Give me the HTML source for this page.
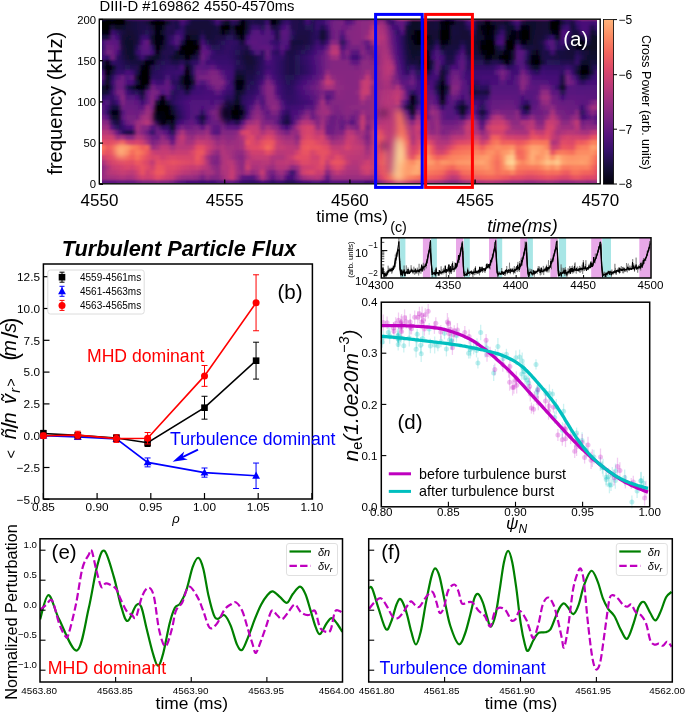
<!DOCTYPE html><html><head><meta charset="utf-8"><style>html,body{margin:0;padding:0;background:#fff;}svg{display:block;font-family:"Liberation Sans",sans-serif;will-change:transform;}</style></head><body><svg width="685" height="712" viewBox="0 0 685 712" font-family="Liberation Sans, sans-serif">
<rect width="685" height="712" fill="#fff"/>
<defs><clipPath id="clipA"><rect x="102" y="20" width="495" height="163"/></clipPath><filter id="blurA" x="-5%" y="-5%" width="110%" height="110%"><feGaussianBlur stdDeviation="1.1"/></filter><filter id="blurB" x="-50%" y="-50%" width="200%" height="200%"><feGaussianBlur stdDeviation="3.5"/></filter>
<linearGradient id="ra0" gradientUnits="userSpaceOnUse" x1="97.5" y1="0" x2="602.5" y2="0">
<stop offset="0.000" stop-color="#5a167e"/>
<stop offset="0.010" stop-color="#271258"/>
<stop offset="0.020" stop-color="#08071e"/>
<stop offset="0.030" stop-color="#130d34"/>
<stop offset="0.040" stop-color="#000004"/>
<stop offset="0.050" stop-color="#010108"/>
<stop offset="0.059" stop-color="#491078"/>
<stop offset="0.069" stop-color="#52137c"/>
<stop offset="0.079" stop-color="#57157e"/>
<stop offset="0.089" stop-color="#5c167f"/>
<stop offset="0.099" stop-color="#5f187f"/>
<stop offset="0.109" stop-color="#4e117b"/>
<stop offset="0.119" stop-color="#221150"/>
<stop offset="0.129" stop-color="#420f75"/>
<stop offset="0.139" stop-color="#601880"/>
<stop offset="0.149" stop-color="#5c167f"/>
<stop offset="0.158" stop-color="#621980"/>
<stop offset="0.168" stop-color="#7e2482"/>
<stop offset="0.178" stop-color="#621980"/>
<stop offset="0.188" stop-color="#2d1161"/>
<stop offset="0.198" stop-color="#2c115f"/>
<stop offset="0.208" stop-color="#2a115c"/>
<stop offset="0.218" stop-color="#271258"/>
<stop offset="0.228" stop-color="#4c117a"/>
<stop offset="0.238" stop-color="#6a1c81"/>
<stop offset="0.248" stop-color="#6e1e81"/>
<stop offset="0.257" stop-color="#5c167f"/>
<stop offset="0.267" stop-color="#681c81"/>
<stop offset="0.277" stop-color="#6a1c81"/>
<stop offset="0.287" stop-color="#1a1042"/>
<stop offset="0.297" stop-color="#29115a"/>
<stop offset="0.307" stop-color="#251255"/>
<stop offset="0.317" stop-color="#221150"/>
<stop offset="0.327" stop-color="#20114b"/>
<stop offset="0.337" stop-color="#1a1042"/>
<stop offset="0.347" stop-color="#000004"/>
<stop offset="0.356" stop-color="#010106"/>
<stop offset="0.366" stop-color="#1c1044"/>
<stop offset="0.376" stop-color="#1d1147"/>
<stop offset="0.386" stop-color="#1c1044"/>
<stop offset="0.396" stop-color="#1c1044"/>
<stop offset="0.406" stop-color="#1c1044"/>
<stop offset="0.416" stop-color="#59157e"/>
<stop offset="0.426" stop-color="#29115a"/>
<stop offset="0.436" stop-color="#251255"/>
<stop offset="0.446" stop-color="#2a115c"/>
<stop offset="0.455" stop-color="#341069"/>
<stop offset="0.465" stop-color="#36106b"/>
<stop offset="0.475" stop-color="#341069"/>
<stop offset="0.485" stop-color="#140e36"/>
<stop offset="0.495" stop-color="#000004"/>
<stop offset="0.505" stop-color="#010108"/>
<stop offset="0.515" stop-color="#1c1044"/>
<stop offset="0.525" stop-color="#2f1163"/>
<stop offset="0.535" stop-color="#2f1163"/>
<stop offset="0.545" stop-color="#3b0f70"/>
<stop offset="0.554" stop-color="#271258"/>
<stop offset="0.564" stop-color="#140e36"/>
<stop offset="0.574" stop-color="#29115a"/>
<stop offset="0.584" stop-color="#6d1d81"/>
<stop offset="0.594" stop-color="#b3367a"/>
<stop offset="0.604" stop-color="#d6456c"/>
<stop offset="0.614" stop-color="#c83e73"/>
<stop offset="0.624" stop-color="#942c80"/>
<stop offset="0.634" stop-color="#932b80"/>
<stop offset="0.644" stop-color="#912b81"/>
<stop offset="0.653" stop-color="#8e2a81"/>
<stop offset="0.663" stop-color="#8b2981"/>
<stop offset="0.673" stop-color="#7c2382"/>
<stop offset="0.683" stop-color="#4f127b"/>
<stop offset="0.693" stop-color="#20114b"/>
<stop offset="0.703" stop-color="#400f74"/>
<stop offset="0.713" stop-color="#6d1d81"/>
<stop offset="0.723" stop-color="#802582"/>
<stop offset="0.733" stop-color="#a3307e"/>
<stop offset="0.743" stop-color="#c53c74"/>
<stop offset="0.752" stop-color="#8b2981"/>
<stop offset="0.762" stop-color="#902a81"/>
<stop offset="0.772" stop-color="#721f81"/>
<stop offset="0.782" stop-color="#932b80"/>
<stop offset="0.792" stop-color="#8e2a81"/>
<stop offset="0.802" stop-color="#892881"/>
<stop offset="0.812" stop-color="#842681"/>
<stop offset="0.822" stop-color="#a5317e"/>
<stop offset="0.832" stop-color="#b73779"/>
<stop offset="0.842" stop-color="#9c2e7f"/>
<stop offset="0.851" stop-color="#782281"/>
<stop offset="0.861" stop-color="#701f81"/>
<stop offset="0.871" stop-color="#752181"/>
<stop offset="0.881" stop-color="#792282"/>
<stop offset="0.891" stop-color="#732081"/>
<stop offset="0.901" stop-color="#400f74"/>
<stop offset="0.911" stop-color="#130d34"/>
<stop offset="0.921" stop-color="#4f127b"/>
<stop offset="0.931" stop-color="#5a167e"/>
<stop offset="0.941" stop-color="#671b80"/>
<stop offset="0.950" stop-color="#812581"/>
<stop offset="0.960" stop-color="#ab337c"/>
<stop offset="0.970" stop-color="#a1307e"/>
<stop offset="0.980" stop-color="#a3307e"/>
<stop offset="0.990" stop-color="#b2357b"/>
<stop offset="1.000" stop-color="#9b2e7f"/>
</linearGradient>
<linearGradient id="ra1" gradientUnits="userSpaceOnUse" x1="97.5" y1="0" x2="602.5" y2="0">
<stop offset="0.000" stop-color="#19103f"/>
<stop offset="0.010" stop-color="#000004"/>
<stop offset="0.020" stop-color="#000004"/>
<stop offset="0.030" stop-color="#000004"/>
<stop offset="0.040" stop-color="#000004"/>
<stop offset="0.050" stop-color="#000004"/>
<stop offset="0.059" stop-color="#120d31"/>
<stop offset="0.069" stop-color="#160f3b"/>
<stop offset="0.079" stop-color="#1a1042"/>
<stop offset="0.089" stop-color="#1d1147"/>
<stop offset="0.099" stop-color="#180f3d"/>
<stop offset="0.109" stop-color="#020109"/>
<stop offset="0.119" stop-color="#000004"/>
<stop offset="0.129" stop-color="#000004"/>
<stop offset="0.139" stop-color="#120d31"/>
<stop offset="0.149" stop-color="#21114e"/>
<stop offset="0.158" stop-color="#1d1147"/>
<stop offset="0.168" stop-color="#491078"/>
<stop offset="0.178" stop-color="#2a115c"/>
<stop offset="0.188" stop-color="#150e38"/>
<stop offset="0.198" stop-color="#150e38"/>
<stop offset="0.208" stop-color="#150e38"/>
<stop offset="0.218" stop-color="#150e38"/>
<stop offset="0.228" stop-color="#1d1147"/>
<stop offset="0.238" stop-color="#451077"/>
<stop offset="0.248" stop-color="#19103f"/>
<stop offset="0.257" stop-color="#08071e"/>
<stop offset="0.267" stop-color="#29115a"/>
<stop offset="0.277" stop-color="#1e1149"/>
<stop offset="0.287" stop-color="#000004"/>
<stop offset="0.297" stop-color="#150e38"/>
<stop offset="0.307" stop-color="#21114e"/>
<stop offset="0.317" stop-color="#1d1147"/>
<stop offset="0.327" stop-color="#1d1147"/>
<stop offset="0.337" stop-color="#420f75"/>
<stop offset="0.347" stop-color="#000004"/>
<stop offset="0.356" stop-color="#0a0822"/>
<stop offset="0.366" stop-color="#29115a"/>
<stop offset="0.376" stop-color="#3b0f70"/>
<stop offset="0.386" stop-color="#21114e"/>
<stop offset="0.396" stop-color="#20114b"/>
<stop offset="0.406" stop-color="#1e1149"/>
<stop offset="0.416" stop-color="#420f75"/>
<stop offset="0.426" stop-color="#241253"/>
<stop offset="0.436" stop-color="#390f6e"/>
<stop offset="0.446" stop-color="#38106c"/>
<stop offset="0.455" stop-color="#54137d"/>
<stop offset="0.465" stop-color="#701f81"/>
<stop offset="0.475" stop-color="#762181"/>
<stop offset="0.485" stop-color="#792282"/>
<stop offset="0.495" stop-color="#54137d"/>
<stop offset="0.505" stop-color="#641a80"/>
<stop offset="0.515" stop-color="#882781"/>
<stop offset="0.525" stop-color="#8b2981"/>
<stop offset="0.535" stop-color="#8c2981"/>
<stop offset="0.545" stop-color="#9b2e7f"/>
<stop offset="0.554" stop-color="#792282"/>
<stop offset="0.564" stop-color="#6a1c81"/>
<stop offset="0.574" stop-color="#390f6e"/>
<stop offset="0.584" stop-color="#341069"/>
<stop offset="0.594" stop-color="#5c167f"/>
<stop offset="0.604" stop-color="#651a80"/>
<stop offset="0.614" stop-color="#311165"/>
<stop offset="0.624" stop-color="#0b0924"/>
<stop offset="0.634" stop-color="#0d0a29"/>
<stop offset="0.644" stop-color="#110c2f"/>
<stop offset="0.653" stop-color="#140e36"/>
<stop offset="0.663" stop-color="#150e38"/>
<stop offset="0.673" stop-color="#180f3d"/>
<stop offset="0.683" stop-color="#020109"/>
<stop offset="0.693" stop-color="#000004"/>
<stop offset="0.703" stop-color="#03030f"/>
<stop offset="0.713" stop-color="#160f3b"/>
<stop offset="0.723" stop-color="#140e36"/>
<stop offset="0.733" stop-color="#390f6e"/>
<stop offset="0.743" stop-color="#491078"/>
<stop offset="0.752" stop-color="#150e38"/>
<stop offset="0.762" stop-color="#130d34"/>
<stop offset="0.772" stop-color="#000004"/>
<stop offset="0.782" stop-color="#0e0b2b"/>
<stop offset="0.792" stop-color="#130d34"/>
<stop offset="0.802" stop-color="#120d31"/>
<stop offset="0.812" stop-color="#100b2d"/>
<stop offset="0.822" stop-color="#29115a"/>
<stop offset="0.832" stop-color="#491078"/>
<stop offset="0.842" stop-color="#150e38"/>
<stop offset="0.851" stop-color="#100b2d"/>
<stop offset="0.861" stop-color="#100b2d"/>
<stop offset="0.871" stop-color="#120d31"/>
<stop offset="0.881" stop-color="#130d34"/>
<stop offset="0.891" stop-color="#140e36"/>
<stop offset="0.901" stop-color="#000004"/>
<stop offset="0.911" stop-color="#000004"/>
<stop offset="0.921" stop-color="#180f3d"/>
<stop offset="0.931" stop-color="#2a115c"/>
<stop offset="0.941" stop-color="#180f3d"/>
<stop offset="0.950" stop-color="#3f0f72"/>
<stop offset="0.960" stop-color="#491078"/>
<stop offset="0.970" stop-color="#491078"/>
<stop offset="0.980" stop-color="#3d0f71"/>
<stop offset="0.990" stop-color="#491078"/>
<stop offset="1.000" stop-color="#2a115c"/>
</linearGradient>
<linearGradient id="ra2" gradientUnits="userSpaceOnUse" x1="97.5" y1="0" x2="602.5" y2="0">
<stop offset="0.000" stop-color="#0b0924"/>
<stop offset="0.010" stop-color="#000004"/>
<stop offset="0.020" stop-color="#000004"/>
<stop offset="0.030" stop-color="#180f3d"/>
<stop offset="0.040" stop-color="#08071e"/>
<stop offset="0.050" stop-color="#0e0b2b"/>
<stop offset="0.059" stop-color="#140e36"/>
<stop offset="0.069" stop-color="#160f3b"/>
<stop offset="0.079" stop-color="#1a1042"/>
<stop offset="0.089" stop-color="#1d1147"/>
<stop offset="0.099" stop-color="#21114e"/>
<stop offset="0.109" stop-color="#120d31"/>
<stop offset="0.119" stop-color="#000004"/>
<stop offset="0.129" stop-color="#08071e"/>
<stop offset="0.139" stop-color="#221150"/>
<stop offset="0.149" stop-color="#21114e"/>
<stop offset="0.158" stop-color="#1e1149"/>
<stop offset="0.168" stop-color="#331067"/>
<stop offset="0.178" stop-color="#160f3b"/>
<stop offset="0.188" stop-color="#150e38"/>
<stop offset="0.198" stop-color="#150e38"/>
<stop offset="0.208" stop-color="#150e38"/>
<stop offset="0.218" stop-color="#150e38"/>
<stop offset="0.228" stop-color="#150e38"/>
<stop offset="0.238" stop-color="#1d1147"/>
<stop offset="0.248" stop-color="#010005"/>
<stop offset="0.257" stop-color="#000004"/>
<stop offset="0.267" stop-color="#150e38"/>
<stop offset="0.277" stop-color="#010106"/>
<stop offset="0.287" stop-color="#000004"/>
<stop offset="0.297" stop-color="#130d34"/>
<stop offset="0.307" stop-color="#36106b"/>
<stop offset="0.317" stop-color="#38106c"/>
<stop offset="0.327" stop-color="#241253"/>
<stop offset="0.337" stop-color="#57157e"/>
<stop offset="0.347" stop-color="#180f3d"/>
<stop offset="0.356" stop-color="#1c1044"/>
<stop offset="0.366" stop-color="#400f74"/>
<stop offset="0.376" stop-color="#52137c"/>
<stop offset="0.386" stop-color="#21114e"/>
<stop offset="0.396" stop-color="#20114b"/>
<stop offset="0.406" stop-color="#1e1149"/>
<stop offset="0.416" stop-color="#271258"/>
<stop offset="0.426" stop-color="#241253"/>
<stop offset="0.436" stop-color="#390f6e"/>
<stop offset="0.446" stop-color="#221150"/>
<stop offset="0.455" stop-color="#3f0f72"/>
<stop offset="0.465" stop-color="#701f81"/>
<stop offset="0.475" stop-color="#762181"/>
<stop offset="0.485" stop-color="#721f81"/>
<stop offset="0.495" stop-color="#701f81"/>
<stop offset="0.505" stop-color="#802582"/>
<stop offset="0.515" stop-color="#882781"/>
<stop offset="0.525" stop-color="#8b2981"/>
<stop offset="0.535" stop-color="#8c2981"/>
<stop offset="0.545" stop-color="#b3367a"/>
<stop offset="0.554" stop-color="#b3367a"/>
<stop offset="0.564" stop-color="#752181"/>
<stop offset="0.574" stop-color="#641a80"/>
<stop offset="0.584" stop-color="#4a1079"/>
<stop offset="0.594" stop-color="#420f75"/>
<stop offset="0.604" stop-color="#651a80"/>
<stop offset="0.614" stop-color="#150e38"/>
<stop offset="0.624" stop-color="#0b0924"/>
<stop offset="0.634" stop-color="#0d0a29"/>
<stop offset="0.644" stop-color="#0d0a29"/>
<stop offset="0.653" stop-color="#130d34"/>
<stop offset="0.663" stop-color="#150e38"/>
<stop offset="0.673" stop-color="#180f3d"/>
<stop offset="0.683" stop-color="#02020d"/>
<stop offset="0.693" stop-color="#000004"/>
<stop offset="0.703" stop-color="#160f3b"/>
<stop offset="0.713" stop-color="#160f3b"/>
<stop offset="0.723" stop-color="#140e36"/>
<stop offset="0.733" stop-color="#241253"/>
<stop offset="0.743" stop-color="#420f75"/>
<stop offset="0.752" stop-color="#120d31"/>
<stop offset="0.762" stop-color="#030312"/>
<stop offset="0.772" stop-color="#000004"/>
<stop offset="0.782" stop-color="#010108"/>
<stop offset="0.792" stop-color="#130d34"/>
<stop offset="0.802" stop-color="#21114e"/>
<stop offset="0.812" stop-color="#100b2d"/>
<stop offset="0.822" stop-color="#110c2f"/>
<stop offset="0.832" stop-color="#331067"/>
<stop offset="0.842" stop-color="#000004"/>
<stop offset="0.851" stop-color="#030312"/>
<stop offset="0.861" stop-color="#100b2d"/>
<stop offset="0.871" stop-color="#120d31"/>
<stop offset="0.881" stop-color="#130d34"/>
<stop offset="0.891" stop-color="#140e36"/>
<stop offset="0.901" stop-color="#000004"/>
<stop offset="0.911" stop-color="#000004"/>
<stop offset="0.921" stop-color="#2f1163"/>
<stop offset="0.931" stop-color="#400f74"/>
<stop offset="0.941" stop-color="#130d34"/>
<stop offset="0.950" stop-color="#2f1163"/>
<stop offset="0.960" stop-color="#491078"/>
<stop offset="0.970" stop-color="#491078"/>
<stop offset="0.980" stop-color="#20114b"/>
<stop offset="0.990" stop-color="#3f0f72"/>
<stop offset="1.000" stop-color="#130d34"/>
</linearGradient>
<linearGradient id="ra3" gradientUnits="userSpaceOnUse" x1="97.5" y1="0" x2="602.5" y2="0">
<stop offset="0.000" stop-color="#150e38"/>
<stop offset="0.010" stop-color="#030312"/>
<stop offset="0.020" stop-color="#000004"/>
<stop offset="0.030" stop-color="#3f0f72"/>
<stop offset="0.040" stop-color="#271258"/>
<stop offset="0.050" stop-color="#19103f"/>
<stop offset="0.059" stop-color="#120d31"/>
<stop offset="0.069" stop-color="#140e36"/>
<stop offset="0.079" stop-color="#19103f"/>
<stop offset="0.089" stop-color="#20114b"/>
<stop offset="0.099" stop-color="#241253"/>
<stop offset="0.109" stop-color="#1c1044"/>
<stop offset="0.119" stop-color="#000004"/>
<stop offset="0.129" stop-color="#110c2f"/>
<stop offset="0.139" stop-color="#221150"/>
<stop offset="0.149" stop-color="#20114b"/>
<stop offset="0.158" stop-color="#3b0f70"/>
<stop offset="0.168" stop-color="#341069"/>
<stop offset="0.178" stop-color="#140e36"/>
<stop offset="0.188" stop-color="#120d31"/>
<stop offset="0.198" stop-color="#130d34"/>
<stop offset="0.208" stop-color="#1c1044"/>
<stop offset="0.218" stop-color="#140e36"/>
<stop offset="0.228" stop-color="#160f3b"/>
<stop offset="0.238" stop-color="#19103f"/>
<stop offset="0.248" stop-color="#040414"/>
<stop offset="0.257" stop-color="#0c0926"/>
<stop offset="0.267" stop-color="#1e1149"/>
<stop offset="0.277" stop-color="#020109"/>
<stop offset="0.287" stop-color="#000004"/>
<stop offset="0.297" stop-color="#1d1147"/>
<stop offset="0.307" stop-color="#4f127b"/>
<stop offset="0.317" stop-color="#59157e"/>
<stop offset="0.327" stop-color="#3f0f72"/>
<stop offset="0.337" stop-color="#5a167e"/>
<stop offset="0.347" stop-color="#400f74"/>
<stop offset="0.356" stop-color="#1e1149"/>
<stop offset="0.366" stop-color="#5a167e"/>
<stop offset="0.376" stop-color="#5a167e"/>
<stop offset="0.386" stop-color="#2c115f"/>
<stop offset="0.396" stop-color="#1d1147"/>
<stop offset="0.406" stop-color="#1c1044"/>
<stop offset="0.416" stop-color="#1c1044"/>
<stop offset="0.426" stop-color="#241253"/>
<stop offset="0.436" stop-color="#2d1161"/>
<stop offset="0.446" stop-color="#120d31"/>
<stop offset="0.455" stop-color="#2a115c"/>
<stop offset="0.465" stop-color="#6d1d81"/>
<stop offset="0.475" stop-color="#762181"/>
<stop offset="0.485" stop-color="#5a167e"/>
<stop offset="0.495" stop-color="#832681"/>
<stop offset="0.505" stop-color="#862781"/>
<stop offset="0.515" stop-color="#882781"/>
<stop offset="0.525" stop-color="#8b2981"/>
<stop offset="0.535" stop-color="#942c80"/>
<stop offset="0.545" stop-color="#c73d73"/>
<stop offset="0.554" stop-color="#bd3977"/>
<stop offset="0.564" stop-color="#902a81"/>
<stop offset="0.574" stop-color="#6d1d81"/>
<stop offset="0.584" stop-color="#5c167f"/>
<stop offset="0.594" stop-color="#311165"/>
<stop offset="0.604" stop-color="#51127c"/>
<stop offset="0.614" stop-color="#120d31"/>
<stop offset="0.624" stop-color="#0b0924"/>
<stop offset="0.634" stop-color="#000004"/>
<stop offset="0.644" stop-color="#000004"/>
<stop offset="0.653" stop-color="#120d31"/>
<stop offset="0.663" stop-color="#140e36"/>
<stop offset="0.673" stop-color="#140e36"/>
<stop offset="0.683" stop-color="#000004"/>
<stop offset="0.693" stop-color="#000004"/>
<stop offset="0.703" stop-color="#180f3d"/>
<stop offset="0.713" stop-color="#160f3b"/>
<stop offset="0.723" stop-color="#140e36"/>
<stop offset="0.733" stop-color="#140e36"/>
<stop offset="0.743" stop-color="#2d1161"/>
<stop offset="0.752" stop-color="#110c2f"/>
<stop offset="0.762" stop-color="#07061c"/>
<stop offset="0.772" stop-color="#000004"/>
<stop offset="0.782" stop-color="#02020d"/>
<stop offset="0.792" stop-color="#1e1149"/>
<stop offset="0.802" stop-color="#38106c"/>
<stop offset="0.812" stop-color="#110c2f"/>
<stop offset="0.822" stop-color="#040414"/>
<stop offset="0.832" stop-color="#08071e"/>
<stop offset="0.842" stop-color="#000004"/>
<stop offset="0.851" stop-color="#000004"/>
<stop offset="0.861" stop-color="#110c2f"/>
<stop offset="0.871" stop-color="#120d31"/>
<stop offset="0.881" stop-color="#140e36"/>
<stop offset="0.891" stop-color="#160f3b"/>
<stop offset="0.901" stop-color="#060518"/>
<stop offset="0.911" stop-color="#000004"/>
<stop offset="0.921" stop-color="#4f127b"/>
<stop offset="0.931" stop-color="#4a1079"/>
<stop offset="0.941" stop-color="#1a1042"/>
<stop offset="0.950" stop-color="#160f3b"/>
<stop offset="0.960" stop-color="#471078"/>
<stop offset="0.970" stop-color="#451077"/>
<stop offset="0.980" stop-color="#110c2f"/>
<stop offset="0.990" stop-color="#221150"/>
<stop offset="1.000" stop-color="#0d0a29"/>
</linearGradient>
<linearGradient id="ra4" gradientUnits="userSpaceOnUse" x1="97.5" y1="0" x2="602.5" y2="0">
<stop offset="0.000" stop-color="#1c1044"/>
<stop offset="0.010" stop-color="#160f3b"/>
<stop offset="0.020" stop-color="#180f3d"/>
<stop offset="0.030" stop-color="#57157e"/>
<stop offset="0.040" stop-color="#400f74"/>
<stop offset="0.050" stop-color="#140e36"/>
<stop offset="0.059" stop-color="#110c2f"/>
<stop offset="0.069" stop-color="#120d31"/>
<stop offset="0.079" stop-color="#180f3d"/>
<stop offset="0.089" stop-color="#36106b"/>
<stop offset="0.099" stop-color="#390f6e"/>
<stop offset="0.109" stop-color="#0e0b2b"/>
<stop offset="0.119" stop-color="#000004"/>
<stop offset="0.129" stop-color="#040414"/>
<stop offset="0.139" stop-color="#241253"/>
<stop offset="0.149" stop-color="#341069"/>
<stop offset="0.158" stop-color="#57157e"/>
<stop offset="0.168" stop-color="#390f6e"/>
<stop offset="0.178" stop-color="#050416"/>
<stop offset="0.188" stop-color="#0d0a29"/>
<stop offset="0.198" stop-color="#110c2f"/>
<stop offset="0.208" stop-color="#311165"/>
<stop offset="0.218" stop-color="#140e36"/>
<stop offset="0.228" stop-color="#180f3d"/>
<stop offset="0.238" stop-color="#1c1044"/>
<stop offset="0.248" stop-color="#1a1042"/>
<stop offset="0.257" stop-color="#251255"/>
<stop offset="0.267" stop-color="#271258"/>
<stop offset="0.277" stop-color="#130d34"/>
<stop offset="0.287" stop-color="#02020d"/>
<stop offset="0.297" stop-color="#400f74"/>
<stop offset="0.307" stop-color="#5a167e"/>
<stop offset="0.317" stop-color="#59157e"/>
<stop offset="0.327" stop-color="#57157e"/>
<stop offset="0.337" stop-color="#56147d"/>
<stop offset="0.347" stop-color="#4f127b"/>
<stop offset="0.356" stop-color="#20114b"/>
<stop offset="0.366" stop-color="#56147d"/>
<stop offset="0.376" stop-color="#56147d"/>
<stop offset="0.386" stop-color="#271258"/>
<stop offset="0.396" stop-color="#1a1042"/>
<stop offset="0.406" stop-color="#1a1042"/>
<stop offset="0.416" stop-color="#1c1044"/>
<stop offset="0.426" stop-color="#251255"/>
<stop offset="0.436" stop-color="#2a115c"/>
<stop offset="0.446" stop-color="#100b2d"/>
<stop offset="0.455" stop-color="#29115a"/>
<stop offset="0.465" stop-color="#6b1d81"/>
<stop offset="0.475" stop-color="#782281"/>
<stop offset="0.485" stop-color="#420f75"/>
<stop offset="0.495" stop-color="#7c2382"/>
<stop offset="0.505" stop-color="#862781"/>
<stop offset="0.515" stop-color="#882781"/>
<stop offset="0.525" stop-color="#8b2981"/>
<stop offset="0.535" stop-color="#a1307e"/>
<stop offset="0.545" stop-color="#c73d73"/>
<stop offset="0.554" stop-color="#bd3977"/>
<stop offset="0.564" stop-color="#ae347b"/>
<stop offset="0.574" stop-color="#752181"/>
<stop offset="0.584" stop-color="#5d177f"/>
<stop offset="0.594" stop-color="#420f75"/>
<stop offset="0.604" stop-color="#2a115c"/>
<stop offset="0.614" stop-color="#130d34"/>
<stop offset="0.624" stop-color="#050416"/>
<stop offset="0.634" stop-color="#000004"/>
<stop offset="0.644" stop-color="#000004"/>
<stop offset="0.653" stop-color="#050416"/>
<stop offset="0.663" stop-color="#120d31"/>
<stop offset="0.673" stop-color="#150e38"/>
<stop offset="0.683" stop-color="#000004"/>
<stop offset="0.693" stop-color="#000004"/>
<stop offset="0.703" stop-color="#160f3b"/>
<stop offset="0.713" stop-color="#150e38"/>
<stop offset="0.723" stop-color="#140e36"/>
<stop offset="0.733" stop-color="#140e36"/>
<stop offset="0.743" stop-color="#1c1044"/>
<stop offset="0.752" stop-color="#110c2f"/>
<stop offset="0.762" stop-color="#100b2d"/>
<stop offset="0.772" stop-color="#000004"/>
<stop offset="0.782" stop-color="#040414"/>
<stop offset="0.792" stop-color="#331067"/>
<stop offset="0.802" stop-color="#4a1079"/>
<stop offset="0.812" stop-color="#0b0924"/>
<stop offset="0.822" stop-color="#000004"/>
<stop offset="0.832" stop-color="#090720"/>
<stop offset="0.842" stop-color="#000004"/>
<stop offset="0.851" stop-color="#000004"/>
<stop offset="0.861" stop-color="#110c2f"/>
<stop offset="0.871" stop-color="#130d34"/>
<stop offset="0.881" stop-color="#150e38"/>
<stop offset="0.891" stop-color="#241253"/>
<stop offset="0.901" stop-color="#36106b"/>
<stop offset="0.911" stop-color="#06051a"/>
<stop offset="0.921" stop-color="#51127c"/>
<stop offset="0.931" stop-color="#390f6e"/>
<stop offset="0.941" stop-color="#120d31"/>
<stop offset="0.950" stop-color="#07061c"/>
<stop offset="0.960" stop-color="#160f3b"/>
<stop offset="0.970" stop-color="#331067"/>
<stop offset="0.980" stop-color="#0b0924"/>
<stop offset="0.990" stop-color="#0c0926"/>
<stop offset="1.000" stop-color="#090720"/>
</linearGradient>
<linearGradient id="ra5" gradientUnits="userSpaceOnUse" x1="97.5" y1="0" x2="602.5" y2="0">
<stop offset="0.000" stop-color="#241253"/>
<stop offset="0.010" stop-color="#3f0f72"/>
<stop offset="0.020" stop-color="#621980"/>
<stop offset="0.030" stop-color="#5d177f"/>
<stop offset="0.040" stop-color="#57157e"/>
<stop offset="0.050" stop-color="#140e36"/>
<stop offset="0.059" stop-color="#0e0b2b"/>
<stop offset="0.069" stop-color="#100b2d"/>
<stop offset="0.079" stop-color="#19103f"/>
<stop offset="0.089" stop-color="#4c117a"/>
<stop offset="0.099" stop-color="#671b80"/>
<stop offset="0.109" stop-color="#130d34"/>
<stop offset="0.119" stop-color="#000004"/>
<stop offset="0.129" stop-color="#07061c"/>
<stop offset="0.139" stop-color="#241253"/>
<stop offset="0.149" stop-color="#3f0f72"/>
<stop offset="0.158" stop-color="#57157e"/>
<stop offset="0.168" stop-color="#1e1149"/>
<stop offset="0.178" stop-color="#000004"/>
<stop offset="0.188" stop-color="#000004"/>
<stop offset="0.198" stop-color="#090720"/>
<stop offset="0.208" stop-color="#491078"/>
<stop offset="0.218" stop-color="#241253"/>
<stop offset="0.228" stop-color="#19103f"/>
<stop offset="0.238" stop-color="#20114b"/>
<stop offset="0.248" stop-color="#271258"/>
<stop offset="0.257" stop-color="#2f1163"/>
<stop offset="0.267" stop-color="#311165"/>
<stop offset="0.277" stop-color="#2c115f"/>
<stop offset="0.287" stop-color="#130d34"/>
<stop offset="0.297" stop-color="#4f127b"/>
<stop offset="0.307" stop-color="#5d177f"/>
<stop offset="0.317" stop-color="#5a167e"/>
<stop offset="0.327" stop-color="#57157e"/>
<stop offset="0.337" stop-color="#54137d"/>
<stop offset="0.347" stop-color="#390f6e"/>
<stop offset="0.356" stop-color="#311165"/>
<stop offset="0.366" stop-color="#51127c"/>
<stop offset="0.376" stop-color="#51127c"/>
<stop offset="0.386" stop-color="#160f3b"/>
<stop offset="0.396" stop-color="#180f3d"/>
<stop offset="0.406" stop-color="#19103f"/>
<stop offset="0.416" stop-color="#1c1044"/>
<stop offset="0.426" stop-color="#251255"/>
<stop offset="0.436" stop-color="#3d0f71"/>
<stop offset="0.446" stop-color="#21114e"/>
<stop offset="0.455" stop-color="#400f74"/>
<stop offset="0.465" stop-color="#8b2981"/>
<stop offset="0.475" stop-color="#832681"/>
<stop offset="0.485" stop-color="#2a115c"/>
<stop offset="0.495" stop-color="#651a80"/>
<stop offset="0.505" stop-color="#862781"/>
<stop offset="0.515" stop-color="#882781"/>
<stop offset="0.525" stop-color="#7b2382"/>
<stop offset="0.535" stop-color="#601880"/>
<stop offset="0.545" stop-color="#9b2e7f"/>
<stop offset="0.554" stop-color="#bc3978"/>
<stop offset="0.564" stop-color="#902a81"/>
<stop offset="0.574" stop-color="#721f81"/>
<stop offset="0.584" stop-color="#601880"/>
<stop offset="0.594" stop-color="#451077"/>
<stop offset="0.604" stop-color="#2a115c"/>
<stop offset="0.614" stop-color="#130d34"/>
<stop offset="0.624" stop-color="#0a0822"/>
<stop offset="0.634" stop-color="#000004"/>
<stop offset="0.644" stop-color="#000004"/>
<stop offset="0.653" stop-color="#0e0b2b"/>
<stop offset="0.663" stop-color="#100b2d"/>
<stop offset="0.673" stop-color="#251255"/>
<stop offset="0.683" stop-color="#010106"/>
<stop offset="0.693" stop-color="#060518"/>
<stop offset="0.703" stop-color="#150e38"/>
<stop offset="0.713" stop-color="#150e38"/>
<stop offset="0.723" stop-color="#1e1149"/>
<stop offset="0.733" stop-color="#150e38"/>
<stop offset="0.743" stop-color="#140e36"/>
<stop offset="0.752" stop-color="#110c2f"/>
<stop offset="0.762" stop-color="#03030f"/>
<stop offset="0.772" stop-color="#000004"/>
<stop offset="0.782" stop-color="#000004"/>
<stop offset="0.792" stop-color="#400f74"/>
<stop offset="0.802" stop-color="#4a1079"/>
<stop offset="0.812" stop-color="#000004"/>
<stop offset="0.822" stop-color="#000004"/>
<stop offset="0.832" stop-color="#21114e"/>
<stop offset="0.842" stop-color="#010005"/>
<stop offset="0.851" stop-color="#08071e"/>
<stop offset="0.861" stop-color="#110c2f"/>
<stop offset="0.871" stop-color="#140e36"/>
<stop offset="0.881" stop-color="#1d1147"/>
<stop offset="0.891" stop-color="#4c117a"/>
<stop offset="0.901" stop-color="#57157e"/>
<stop offset="0.911" stop-color="#271258"/>
<stop offset="0.921" stop-color="#420f75"/>
<stop offset="0.931" stop-color="#271258"/>
<stop offset="0.941" stop-color="#140e36"/>
<stop offset="0.950" stop-color="#03030f"/>
<stop offset="0.960" stop-color="#010106"/>
<stop offset="0.970" stop-color="#1d1147"/>
<stop offset="0.980" stop-color="#0a0822"/>
<stop offset="0.990" stop-color="#0a0822"/>
<stop offset="1.000" stop-color="#010005"/>
</linearGradient>
<linearGradient id="ra6" gradientUnits="userSpaceOnUse" x1="97.5" y1="0" x2="602.5" y2="0">
<stop offset="0.000" stop-color="#19103f"/>
<stop offset="0.010" stop-color="#36106b"/>
<stop offset="0.020" stop-color="#6d1d81"/>
<stop offset="0.030" stop-color="#671b80"/>
<stop offset="0.040" stop-color="#5d177f"/>
<stop offset="0.050" stop-color="#180f3d"/>
<stop offset="0.059" stop-color="#100b2d"/>
<stop offset="0.069" stop-color="#0e0b2b"/>
<stop offset="0.079" stop-color="#29115a"/>
<stop offset="0.089" stop-color="#57157e"/>
<stop offset="0.099" stop-color="#5f187f"/>
<stop offset="0.109" stop-color="#2f1163"/>
<stop offset="0.119" stop-color="#000004"/>
<stop offset="0.129" stop-color="#130d34"/>
<stop offset="0.139" stop-color="#221150"/>
<stop offset="0.149" stop-color="#221150"/>
<stop offset="0.158" stop-color="#36106b"/>
<stop offset="0.168" stop-color="#000004"/>
<stop offset="0.178" stop-color="#000004"/>
<stop offset="0.188" stop-color="#000004"/>
<stop offset="0.198" stop-color="#010106"/>
<stop offset="0.208" stop-color="#59157e"/>
<stop offset="0.218" stop-color="#491078"/>
<stop offset="0.228" stop-color="#241253"/>
<stop offset="0.238" stop-color="#251255"/>
<stop offset="0.248" stop-color="#2a115c"/>
<stop offset="0.257" stop-color="#311165"/>
<stop offset="0.267" stop-color="#2f1163"/>
<stop offset="0.277" stop-color="#29115a"/>
<stop offset="0.287" stop-color="#21114e"/>
<stop offset="0.297" stop-color="#20114b"/>
<stop offset="0.307" stop-color="#57157e"/>
<stop offset="0.317" stop-color="#5a167e"/>
<stop offset="0.327" stop-color="#5d177f"/>
<stop offset="0.337" stop-color="#601880"/>
<stop offset="0.347" stop-color="#4f127b"/>
<stop offset="0.356" stop-color="#390f6e"/>
<stop offset="0.366" stop-color="#59157e"/>
<stop offset="0.376" stop-color="#440f76"/>
<stop offset="0.386" stop-color="#19103f"/>
<stop offset="0.396" stop-color="#1d1147"/>
<stop offset="0.406" stop-color="#20114b"/>
<stop offset="0.416" stop-color="#241253"/>
<stop offset="0.426" stop-color="#311165"/>
<stop offset="0.436" stop-color="#471078"/>
<stop offset="0.446" stop-color="#400f74"/>
<stop offset="0.455" stop-color="#681c81"/>
<stop offset="0.465" stop-color="#b3367a"/>
<stop offset="0.475" stop-color="#b2357b"/>
<stop offset="0.485" stop-color="#451077"/>
<stop offset="0.495" stop-color="#6e1e81"/>
<stop offset="0.505" stop-color="#762181"/>
<stop offset="0.515" stop-color="#732081"/>
<stop offset="0.525" stop-color="#842681"/>
<stop offset="0.535" stop-color="#5a167e"/>
<stop offset="0.545" stop-color="#701f81"/>
<stop offset="0.554" stop-color="#932b80"/>
<stop offset="0.564" stop-color="#7c2382"/>
<stop offset="0.574" stop-color="#752181"/>
<stop offset="0.584" stop-color="#641a80"/>
<stop offset="0.594" stop-color="#4a1079"/>
<stop offset="0.604" stop-color="#2d1161"/>
<stop offset="0.614" stop-color="#150e38"/>
<stop offset="0.624" stop-color="#0c0926"/>
<stop offset="0.634" stop-color="#0b0924"/>
<stop offset="0.644" stop-color="#07061c"/>
<stop offset="0.653" stop-color="#110c2f"/>
<stop offset="0.663" stop-color="#1a1042"/>
<stop offset="0.673" stop-color="#3f0f72"/>
<stop offset="0.683" stop-color="#0e0b2b"/>
<stop offset="0.693" stop-color="#160f3b"/>
<stop offset="0.703" stop-color="#180f3d"/>
<stop offset="0.713" stop-color="#180f3d"/>
<stop offset="0.723" stop-color="#36106b"/>
<stop offset="0.733" stop-color="#180f3d"/>
<stop offset="0.743" stop-color="#160f3b"/>
<stop offset="0.752" stop-color="#130d34"/>
<stop offset="0.762" stop-color="#000004"/>
<stop offset="0.772" stop-color="#000004"/>
<stop offset="0.782" stop-color="#000004"/>
<stop offset="0.792" stop-color="#19103f"/>
<stop offset="0.802" stop-color="#29115a"/>
<stop offset="0.812" stop-color="#000004"/>
<stop offset="0.822" stop-color="#000004"/>
<stop offset="0.832" stop-color="#4c117a"/>
<stop offset="0.842" stop-color="#21114e"/>
<stop offset="0.851" stop-color="#160f3b"/>
<stop offset="0.861" stop-color="#180f3d"/>
<stop offset="0.871" stop-color="#130d34"/>
<stop offset="0.881" stop-color="#1a1042"/>
<stop offset="0.891" stop-color="#3b0f70"/>
<stop offset="0.901" stop-color="#57157e"/>
<stop offset="0.911" stop-color="#2c115f"/>
<stop offset="0.921" stop-color="#2a115c"/>
<stop offset="0.931" stop-color="#160f3b"/>
<stop offset="0.941" stop-color="#140e36"/>
<stop offset="0.950" stop-color="#050416"/>
<stop offset="0.960" stop-color="#010106"/>
<stop offset="0.970" stop-color="#0b0924"/>
<stop offset="0.980" stop-color="#0b0924"/>
<stop offset="0.990" stop-color="#0b0924"/>
<stop offset="1.000" stop-color="#000004"/>
</linearGradient>
<linearGradient id="ra7" gradientUnits="userSpaceOnUse" x1="97.5" y1="0" x2="602.5" y2="0">
<stop offset="0.000" stop-color="#0b0924"/>
<stop offset="0.010" stop-color="#3d0f71"/>
<stop offset="0.020" stop-color="#762181"/>
<stop offset="0.030" stop-color="#701f81"/>
<stop offset="0.040" stop-color="#4a1079"/>
<stop offset="0.050" stop-color="#1a1042"/>
<stop offset="0.059" stop-color="#110c2f"/>
<stop offset="0.069" stop-color="#0e0b2b"/>
<stop offset="0.079" stop-color="#341069"/>
<stop offset="0.089" stop-color="#51127c"/>
<stop offset="0.099" stop-color="#57157e"/>
<stop offset="0.109" stop-color="#3f0f72"/>
<stop offset="0.119" stop-color="#040414"/>
<stop offset="0.129" stop-color="#20114b"/>
<stop offset="0.139" stop-color="#21114e"/>
<stop offset="0.149" stop-color="#221150"/>
<stop offset="0.158" stop-color="#0b0924"/>
<stop offset="0.168" stop-color="#020109"/>
<stop offset="0.178" stop-color="#000004"/>
<stop offset="0.188" stop-color="#000004"/>
<stop offset="0.198" stop-color="#100b2d"/>
<stop offset="0.208" stop-color="#651a80"/>
<stop offset="0.218" stop-color="#5f187f"/>
<stop offset="0.228" stop-color="#3b0f70"/>
<stop offset="0.238" stop-color="#2c115f"/>
<stop offset="0.248" stop-color="#2f1163"/>
<stop offset="0.257" stop-color="#311165"/>
<stop offset="0.267" stop-color="#2d1161"/>
<stop offset="0.277" stop-color="#251255"/>
<stop offset="0.287" stop-color="#1d1147"/>
<stop offset="0.297" stop-color="#150e38"/>
<stop offset="0.307" stop-color="#2d1161"/>
<stop offset="0.317" stop-color="#54137d"/>
<stop offset="0.327" stop-color="#2f1163"/>
<stop offset="0.337" stop-color="#6d1d81"/>
<stop offset="0.347" stop-color="#36106b"/>
<stop offset="0.356" stop-color="#2a115c"/>
<stop offset="0.366" stop-color="#4e117b"/>
<stop offset="0.376" stop-color="#1d1147"/>
<stop offset="0.386" stop-color="#1c1044"/>
<stop offset="0.396" stop-color="#21114e"/>
<stop offset="0.406" stop-color="#271258"/>
<stop offset="0.416" stop-color="#2d1161"/>
<stop offset="0.426" stop-color="#3b0f70"/>
<stop offset="0.436" stop-color="#4f127b"/>
<stop offset="0.446" stop-color="#5d177f"/>
<stop offset="0.455" stop-color="#832681"/>
<stop offset="0.465" stop-color="#bc3978"/>
<stop offset="0.475" stop-color="#bf3a77"/>
<stop offset="0.485" stop-color="#621980"/>
<stop offset="0.495" stop-color="#842681"/>
<stop offset="0.505" stop-color="#59157e"/>
<stop offset="0.515" stop-color="#56147d"/>
<stop offset="0.525" stop-color="#892881"/>
<stop offset="0.535" stop-color="#6e1e81"/>
<stop offset="0.545" stop-color="#621980"/>
<stop offset="0.554" stop-color="#902a81"/>
<stop offset="0.564" stop-color="#7e2482"/>
<stop offset="0.574" stop-color="#832681"/>
<stop offset="0.584" stop-color="#681c81"/>
<stop offset="0.594" stop-color="#4e117b"/>
<stop offset="0.604" stop-color="#311165"/>
<stop offset="0.614" stop-color="#180f3d"/>
<stop offset="0.624" stop-color="#0e0b2b"/>
<stop offset="0.634" stop-color="#100b2d"/>
<stop offset="0.644" stop-color="#110c2f"/>
<stop offset="0.653" stop-color="#030312"/>
<stop offset="0.663" stop-color="#311165"/>
<stop offset="0.673" stop-color="#51127c"/>
<stop offset="0.683" stop-color="#271258"/>
<stop offset="0.693" stop-color="#19103f"/>
<stop offset="0.703" stop-color="#19103f"/>
<stop offset="0.713" stop-color="#29115a"/>
<stop offset="0.723" stop-color="#4f127b"/>
<stop offset="0.733" stop-color="#19103f"/>
<stop offset="0.743" stop-color="#19103f"/>
<stop offset="0.752" stop-color="#180f3d"/>
<stop offset="0.762" stop-color="#040414"/>
<stop offset="0.772" stop-color="#000004"/>
<stop offset="0.782" stop-color="#000004"/>
<stop offset="0.792" stop-color="#120d31"/>
<stop offset="0.802" stop-color="#0a0822"/>
<stop offset="0.812" stop-color="#000004"/>
<stop offset="0.822" stop-color="#100b2d"/>
<stop offset="0.832" stop-color="#59157e"/>
<stop offset="0.842" stop-color="#59157e"/>
<stop offset="0.851" stop-color="#2d1161"/>
<stop offset="0.861" stop-color="#0e0b2b"/>
<stop offset="0.871" stop-color="#06051a"/>
<stop offset="0.881" stop-color="#1d1147"/>
<stop offset="0.891" stop-color="#1c1044"/>
<stop offset="0.901" stop-color="#3f0f72"/>
<stop offset="0.911" stop-color="#19103f"/>
<stop offset="0.921" stop-color="#19103f"/>
<stop offset="0.931" stop-color="#150e38"/>
<stop offset="0.941" stop-color="#140e36"/>
<stop offset="0.950" stop-color="#241253"/>
<stop offset="0.960" stop-color="#19103f"/>
<stop offset="0.970" stop-color="#140e36"/>
<stop offset="0.980" stop-color="#0d0a29"/>
<stop offset="0.990" stop-color="#0d0a29"/>
<stop offset="1.000" stop-color="#000004"/>
</linearGradient>
<linearGradient id="ra8" gradientUnits="userSpaceOnUse" x1="97.5" y1="0" x2="602.5" y2="0">
<stop offset="0.000" stop-color="#21114e"/>
<stop offset="0.010" stop-color="#420f75"/>
<stop offset="0.020" stop-color="#341069"/>
<stop offset="0.030" stop-color="#782281"/>
<stop offset="0.040" stop-color="#2d1161"/>
<stop offset="0.050" stop-color="#1e1149"/>
<stop offset="0.059" stop-color="#130d34"/>
<stop offset="0.069" stop-color="#0e0b2b"/>
<stop offset="0.079" stop-color="#1e1149"/>
<stop offset="0.089" stop-color="#400f74"/>
<stop offset="0.099" stop-color="#1e1149"/>
<stop offset="0.109" stop-color="#100b2d"/>
<stop offset="0.119" stop-color="#0d0a29"/>
<stop offset="0.129" stop-color="#1e1149"/>
<stop offset="0.139" stop-color="#21114e"/>
<stop offset="0.149" stop-color="#130d34"/>
<stop offset="0.158" stop-color="#0c0926"/>
<stop offset="0.168" stop-color="#120d31"/>
<stop offset="0.178" stop-color="#000004"/>
<stop offset="0.188" stop-color="#140e36"/>
<stop offset="0.198" stop-color="#1e1149"/>
<stop offset="0.208" stop-color="#6e1e81"/>
<stop offset="0.218" stop-color="#52137c"/>
<stop offset="0.228" stop-color="#341069"/>
<stop offset="0.238" stop-color="#341069"/>
<stop offset="0.248" stop-color="#341069"/>
<stop offset="0.257" stop-color="#341069"/>
<stop offset="0.267" stop-color="#2d1161"/>
<stop offset="0.277" stop-color="#221150"/>
<stop offset="0.287" stop-color="#19103f"/>
<stop offset="0.297" stop-color="#110c2f"/>
<stop offset="0.307" stop-color="#160f3b"/>
<stop offset="0.317" stop-color="#221150"/>
<stop offset="0.327" stop-color="#2c115f"/>
<stop offset="0.337" stop-color="#671b80"/>
<stop offset="0.347" stop-color="#3f0f72"/>
<stop offset="0.356" stop-color="#341069"/>
<stop offset="0.366" stop-color="#311165"/>
<stop offset="0.376" stop-color="#20114b"/>
<stop offset="0.386" stop-color="#1e1149"/>
<stop offset="0.396" stop-color="#271258"/>
<stop offset="0.406" stop-color="#2f1163"/>
<stop offset="0.416" stop-color="#38106c"/>
<stop offset="0.426" stop-color="#451077"/>
<stop offset="0.436" stop-color="#59157e"/>
<stop offset="0.446" stop-color="#6a1c81"/>
<stop offset="0.455" stop-color="#7c2382"/>
<stop offset="0.465" stop-color="#9e2f7f"/>
<stop offset="0.475" stop-color="#a1307e"/>
<stop offset="0.485" stop-color="#6b1d81"/>
<stop offset="0.495" stop-color="#752181"/>
<stop offset="0.505" stop-color="#451077"/>
<stop offset="0.515" stop-color="#420f75"/>
<stop offset="0.525" stop-color="#752181"/>
<stop offset="0.535" stop-color="#832681"/>
<stop offset="0.545" stop-color="#6e1e81"/>
<stop offset="0.554" stop-color="#862781"/>
<stop offset="0.564" stop-color="#812581"/>
<stop offset="0.574" stop-color="#9b2e7f"/>
<stop offset="0.584" stop-color="#792282"/>
<stop offset="0.594" stop-color="#51127c"/>
<stop offset="0.604" stop-color="#341069"/>
<stop offset="0.614" stop-color="#1a1042"/>
<stop offset="0.624" stop-color="#110c2f"/>
<stop offset="0.634" stop-color="#120d31"/>
<stop offset="0.644" stop-color="#110c2f"/>
<stop offset="0.653" stop-color="#000004"/>
<stop offset="0.663" stop-color="#3b0f70"/>
<stop offset="0.673" stop-color="#54137d"/>
<stop offset="0.683" stop-color="#420f75"/>
<stop offset="0.693" stop-color="#1c1044"/>
<stop offset="0.703" stop-color="#1c1044"/>
<stop offset="0.713" stop-color="#420f75"/>
<stop offset="0.723" stop-color="#59157e"/>
<stop offset="0.733" stop-color="#29115a"/>
<stop offset="0.743" stop-color="#1d1147"/>
<stop offset="0.752" stop-color="#1d1147"/>
<stop offset="0.762" stop-color="#160f3b"/>
<stop offset="0.772" stop-color="#010106"/>
<stop offset="0.782" stop-color="#08071e"/>
<stop offset="0.792" stop-color="#0a0822"/>
<stop offset="0.802" stop-color="#000004"/>
<stop offset="0.812" stop-color="#000004"/>
<stop offset="0.822" stop-color="#0d0a29"/>
<stop offset="0.832" stop-color="#5d177f"/>
<stop offset="0.842" stop-color="#54137d"/>
<stop offset="0.851" stop-color="#271258"/>
<stop offset="0.861" stop-color="#040414"/>
<stop offset="0.871" stop-color="#010005"/>
<stop offset="0.881" stop-color="#1a1042"/>
<stop offset="0.891" stop-color="#1e1149"/>
<stop offset="0.901" stop-color="#1c1044"/>
<stop offset="0.911" stop-color="#1a1042"/>
<stop offset="0.921" stop-color="#180f3d"/>
<stop offset="0.931" stop-color="#160f3b"/>
<stop offset="0.941" stop-color="#150e38"/>
<stop offset="0.950" stop-color="#311165"/>
<stop offset="0.960" stop-color="#1e1149"/>
<stop offset="0.970" stop-color="#110c2f"/>
<stop offset="0.980" stop-color="#100b2d"/>
<stop offset="0.990" stop-color="#100b2d"/>
<stop offset="1.000" stop-color="#000004"/>
</linearGradient>
<linearGradient id="ra9" gradientUnits="userSpaceOnUse" x1="97.5" y1="0" x2="602.5" y2="0">
<stop offset="0.000" stop-color="#390f6e"/>
<stop offset="0.010" stop-color="#20114b"/>
<stop offset="0.020" stop-color="#030312"/>
<stop offset="0.030" stop-color="#331067"/>
<stop offset="0.040" stop-color="#2d1161"/>
<stop offset="0.050" stop-color="#241253"/>
<stop offset="0.059" stop-color="#1c1044"/>
<stop offset="0.069" stop-color="#180f3d"/>
<stop offset="0.079" stop-color="#180f3d"/>
<stop offset="0.089" stop-color="#150e38"/>
<stop offset="0.099" stop-color="#000004"/>
<stop offset="0.109" stop-color="#050416"/>
<stop offset="0.119" stop-color="#20114b"/>
<stop offset="0.129" stop-color="#241253"/>
<stop offset="0.139" stop-color="#29115a"/>
<stop offset="0.149" stop-color="#1e1149"/>
<stop offset="0.158" stop-color="#1d1147"/>
<stop offset="0.168" stop-color="#29115a"/>
<stop offset="0.178" stop-color="#160f3b"/>
<stop offset="0.188" stop-color="#2c115f"/>
<stop offset="0.198" stop-color="#331067"/>
<stop offset="0.208" stop-color="#621980"/>
<stop offset="0.218" stop-color="#3f0f72"/>
<stop offset="0.228" stop-color="#451077"/>
<stop offset="0.238" stop-color="#390f6e"/>
<stop offset="0.248" stop-color="#390f6e"/>
<stop offset="0.257" stop-color="#390f6e"/>
<stop offset="0.267" stop-color="#331067"/>
<stop offset="0.277" stop-color="#271258"/>
<stop offset="0.287" stop-color="#1d1147"/>
<stop offset="0.297" stop-color="#140e36"/>
<stop offset="0.307" stop-color="#140e36"/>
<stop offset="0.317" stop-color="#20114b"/>
<stop offset="0.327" stop-color="#2d1161"/>
<stop offset="0.337" stop-color="#4c117a"/>
<stop offset="0.347" stop-color="#3f0f72"/>
<stop offset="0.356" stop-color="#341069"/>
<stop offset="0.366" stop-color="#2a115c"/>
<stop offset="0.376" stop-color="#20114b"/>
<stop offset="0.386" stop-color="#1e1149"/>
<stop offset="0.396" stop-color="#251255"/>
<stop offset="0.406" stop-color="#2d1161"/>
<stop offset="0.416" stop-color="#341069"/>
<stop offset="0.426" stop-color="#440f76"/>
<stop offset="0.436" stop-color="#56147d"/>
<stop offset="0.446" stop-color="#681c81"/>
<stop offset="0.455" stop-color="#7b2382"/>
<stop offset="0.465" stop-color="#842681"/>
<stop offset="0.475" stop-color="#842681"/>
<stop offset="0.485" stop-color="#832681"/>
<stop offset="0.495" stop-color="#842681"/>
<stop offset="0.505" stop-color="#621980"/>
<stop offset="0.515" stop-color="#601880"/>
<stop offset="0.525" stop-color="#8b2981"/>
<stop offset="0.535" stop-color="#8c2981"/>
<stop offset="0.545" stop-color="#842681"/>
<stop offset="0.554" stop-color="#892881"/>
<stop offset="0.564" stop-color="#862781"/>
<stop offset="0.574" stop-color="#b73779"/>
<stop offset="0.584" stop-color="#942c80"/>
<stop offset="0.594" stop-color="#57157e"/>
<stop offset="0.604" stop-color="#3b0f70"/>
<stop offset="0.614" stop-color="#1e1149"/>
<stop offset="0.624" stop-color="#160f3b"/>
<stop offset="0.634" stop-color="#180f3d"/>
<stop offset="0.644" stop-color="#040414"/>
<stop offset="0.653" stop-color="#000004"/>
<stop offset="0.663" stop-color="#1e1149"/>
<stop offset="0.673" stop-color="#5f187f"/>
<stop offset="0.683" stop-color="#3d0f71"/>
<stop offset="0.693" stop-color="#20114b"/>
<stop offset="0.703" stop-color="#221150"/>
<stop offset="0.713" stop-color="#4c117a"/>
<stop offset="0.723" stop-color="#621980"/>
<stop offset="0.733" stop-color="#341069"/>
<stop offset="0.743" stop-color="#251255"/>
<stop offset="0.752" stop-color="#251255"/>
<stop offset="0.762" stop-color="#251255"/>
<stop offset="0.772" stop-color="#120d31"/>
<stop offset="0.782" stop-color="#221150"/>
<stop offset="0.792" stop-color="#221150"/>
<stop offset="0.802" stop-color="#160f3b"/>
<stop offset="0.812" stop-color="#010108"/>
<stop offset="0.822" stop-color="#20114b"/>
<stop offset="0.832" stop-color="#54137d"/>
<stop offset="0.842" stop-color="#51127c"/>
<stop offset="0.851" stop-color="#21114e"/>
<stop offset="0.861" stop-color="#020109"/>
<stop offset="0.871" stop-color="#000004"/>
<stop offset="0.881" stop-color="#140e36"/>
<stop offset="0.891" stop-color="#271258"/>
<stop offset="0.901" stop-color="#251255"/>
<stop offset="0.911" stop-color="#241253"/>
<stop offset="0.921" stop-color="#221150"/>
<stop offset="0.931" stop-color="#221150"/>
<stop offset="0.941" stop-color="#20114b"/>
<stop offset="0.950" stop-color="#36106b"/>
<stop offset="0.960" stop-color="#100b2d"/>
<stop offset="0.970" stop-color="#0d0a29"/>
<stop offset="0.980" stop-color="#160f3b"/>
<stop offset="0.990" stop-color="#160f3b"/>
<stop offset="1.000" stop-color="#180f3d"/>
</linearGradient>
<linearGradient id="ra10" gradientUnits="userSpaceOnUse" x1="97.5" y1="0" x2="602.5" y2="0">
<stop offset="0.000" stop-color="#400f74"/>
<stop offset="0.010" stop-color="#1a1042"/>
<stop offset="0.020" stop-color="#000004"/>
<stop offset="0.030" stop-color="#0a0822"/>
<stop offset="0.040" stop-color="#2d1161"/>
<stop offset="0.050" stop-color="#29115a"/>
<stop offset="0.059" stop-color="#241253"/>
<stop offset="0.069" stop-color="#221150"/>
<stop offset="0.079" stop-color="#21114e"/>
<stop offset="0.089" stop-color="#02020b"/>
<stop offset="0.099" stop-color="#000004"/>
<stop offset="0.109" stop-color="#21114e"/>
<stop offset="0.119" stop-color="#251255"/>
<stop offset="0.129" stop-color="#2c115f"/>
<stop offset="0.139" stop-color="#311165"/>
<stop offset="0.149" stop-color="#331067"/>
<stop offset="0.158" stop-color="#2c115f"/>
<stop offset="0.168" stop-color="#4c117a"/>
<stop offset="0.178" stop-color="#050416"/>
<stop offset="0.188" stop-color="#29115a"/>
<stop offset="0.198" stop-color="#5c167f"/>
<stop offset="0.208" stop-color="#5a167e"/>
<stop offset="0.218" stop-color="#54137d"/>
<stop offset="0.228" stop-color="#641a80"/>
<stop offset="0.238" stop-color="#4a1079"/>
<stop offset="0.248" stop-color="#3f0f72"/>
<stop offset="0.257" stop-color="#3f0f72"/>
<stop offset="0.267" stop-color="#390f6e"/>
<stop offset="0.277" stop-color="#221150"/>
<stop offset="0.287" stop-color="#21114e"/>
<stop offset="0.297" stop-color="#160f3b"/>
<stop offset="0.307" stop-color="#180f3d"/>
<stop offset="0.317" stop-color="#221150"/>
<stop offset="0.327" stop-color="#2f1163"/>
<stop offset="0.337" stop-color="#3d0f71"/>
<stop offset="0.347" stop-color="#3f0f72"/>
<stop offset="0.356" stop-color="#341069"/>
<stop offset="0.366" stop-color="#2a115c"/>
<stop offset="0.376" stop-color="#20114b"/>
<stop offset="0.386" stop-color="#1e1149"/>
<stop offset="0.396" stop-color="#241253"/>
<stop offset="0.406" stop-color="#2a115c"/>
<stop offset="0.416" stop-color="#331067"/>
<stop offset="0.426" stop-color="#400f74"/>
<stop offset="0.436" stop-color="#54137d"/>
<stop offset="0.446" stop-color="#681c81"/>
<stop offset="0.455" stop-color="#7b2382"/>
<stop offset="0.465" stop-color="#842681"/>
<stop offset="0.475" stop-color="#842681"/>
<stop offset="0.485" stop-color="#842681"/>
<stop offset="0.495" stop-color="#842681"/>
<stop offset="0.505" stop-color="#802582"/>
<stop offset="0.515" stop-color="#7c2382"/>
<stop offset="0.525" stop-color="#8b2981"/>
<stop offset="0.535" stop-color="#8c2981"/>
<stop offset="0.545" stop-color="#8c2981"/>
<stop offset="0.554" stop-color="#8b2981"/>
<stop offset="0.564" stop-color="#962c80"/>
<stop offset="0.574" stop-color="#c53c74"/>
<stop offset="0.584" stop-color="#b0357b"/>
<stop offset="0.594" stop-color="#5d177f"/>
<stop offset="0.604" stop-color="#400f74"/>
<stop offset="0.614" stop-color="#241253"/>
<stop offset="0.624" stop-color="#331067"/>
<stop offset="0.634" stop-color="#20114b"/>
<stop offset="0.644" stop-color="#150e38"/>
<stop offset="0.653" stop-color="#000004"/>
<stop offset="0.663" stop-color="#241253"/>
<stop offset="0.673" stop-color="#641a80"/>
<stop offset="0.683" stop-color="#21114e"/>
<stop offset="0.693" stop-color="#241253"/>
<stop offset="0.703" stop-color="#4e117b"/>
<stop offset="0.713" stop-color="#491078"/>
<stop offset="0.723" stop-color="#651a80"/>
<stop offset="0.733" stop-color="#2f1163"/>
<stop offset="0.743" stop-color="#311165"/>
<stop offset="0.752" stop-color="#311165"/>
<stop offset="0.762" stop-color="#311165"/>
<stop offset="0.772" stop-color="#2f1163"/>
<stop offset="0.782" stop-color="#311165"/>
<stop offset="0.792" stop-color="#440f76"/>
<stop offset="0.802" stop-color="#56147d"/>
<stop offset="0.812" stop-color="#2c115f"/>
<stop offset="0.822" stop-color="#331067"/>
<stop offset="0.832" stop-color="#471078"/>
<stop offset="0.842" stop-color="#5a167e"/>
<stop offset="0.851" stop-color="#390f6e"/>
<stop offset="0.861" stop-color="#140e36"/>
<stop offset="0.871" stop-color="#0b0924"/>
<stop offset="0.881" stop-color="#341069"/>
<stop offset="0.891" stop-color="#331067"/>
<stop offset="0.901" stop-color="#311165"/>
<stop offset="0.911" stop-color="#311165"/>
<stop offset="0.921" stop-color="#2f1163"/>
<stop offset="0.931" stop-color="#3d0f71"/>
<stop offset="0.941" stop-color="#2c115f"/>
<stop offset="0.950" stop-color="#1c1044"/>
<stop offset="0.960" stop-color="#02020b"/>
<stop offset="0.970" stop-color="#030312"/>
<stop offset="0.980" stop-color="#1e1149"/>
<stop offset="0.990" stop-color="#2a115c"/>
<stop offset="1.000" stop-color="#491078"/>
</linearGradient>
<linearGradient id="ra11" gradientUnits="userSpaceOnUse" x1="97.5" y1="0" x2="602.5" y2="0">
<stop offset="0.000" stop-color="#52137c"/>
<stop offset="0.010" stop-color="#440f76"/>
<stop offset="0.020" stop-color="#010005"/>
<stop offset="0.030" stop-color="#1a1042"/>
<stop offset="0.040" stop-color="#36106b"/>
<stop offset="0.050" stop-color="#341069"/>
<stop offset="0.059" stop-color="#4c117a"/>
<stop offset="0.069" stop-color="#3f0f72"/>
<stop offset="0.079" stop-color="#1e1149"/>
<stop offset="0.089" stop-color="#000004"/>
<stop offset="0.099" stop-color="#000004"/>
<stop offset="0.109" stop-color="#251255"/>
<stop offset="0.119" stop-color="#2c115f"/>
<stop offset="0.129" stop-color="#311165"/>
<stop offset="0.139" stop-color="#38106c"/>
<stop offset="0.149" stop-color="#38106c"/>
<stop offset="0.158" stop-color="#3b0f70"/>
<stop offset="0.168" stop-color="#38106c"/>
<stop offset="0.178" stop-color="#000004"/>
<stop offset="0.188" stop-color="#2c115f"/>
<stop offset="0.198" stop-color="#6d1d81"/>
<stop offset="0.208" stop-color="#651a80"/>
<stop offset="0.218" stop-color="#701f81"/>
<stop offset="0.228" stop-color="#812581"/>
<stop offset="0.238" stop-color="#762181"/>
<stop offset="0.248" stop-color="#52137c"/>
<stop offset="0.257" stop-color="#451077"/>
<stop offset="0.267" stop-color="#3f0f72"/>
<stop offset="0.277" stop-color="#150e38"/>
<stop offset="0.287" stop-color="#180f3d"/>
<stop offset="0.297" stop-color="#1a1042"/>
<stop offset="0.307" stop-color="#1a1042"/>
<stop offset="0.317" stop-color="#251255"/>
<stop offset="0.327" stop-color="#311165"/>
<stop offset="0.337" stop-color="#4e117b"/>
<stop offset="0.347" stop-color="#400f74"/>
<stop offset="0.356" stop-color="#341069"/>
<stop offset="0.366" stop-color="#2a115c"/>
<stop offset="0.376" stop-color="#20114b"/>
<stop offset="0.386" stop-color="#1e1149"/>
<stop offset="0.396" stop-color="#241253"/>
<stop offset="0.406" stop-color="#2a115c"/>
<stop offset="0.416" stop-color="#311165"/>
<stop offset="0.426" stop-color="#400f74"/>
<stop offset="0.436" stop-color="#54137d"/>
<stop offset="0.446" stop-color="#681c81"/>
<stop offset="0.455" stop-color="#932b80"/>
<stop offset="0.465" stop-color="#862781"/>
<stop offset="0.475" stop-color="#862781"/>
<stop offset="0.485" stop-color="#862781"/>
<stop offset="0.495" stop-color="#862781"/>
<stop offset="0.505" stop-color="#862781"/>
<stop offset="0.515" stop-color="#882781"/>
<stop offset="0.525" stop-color="#8b2981"/>
<stop offset="0.535" stop-color="#a3307e"/>
<stop offset="0.545" stop-color="#8e2a81"/>
<stop offset="0.554" stop-color="#8e2a81"/>
<stop offset="0.564" stop-color="#912b81"/>
<stop offset="0.574" stop-color="#c53c74"/>
<stop offset="0.584" stop-color="#9c2e7f"/>
<stop offset="0.594" stop-color="#641a80"/>
<stop offset="0.604" stop-color="#471078"/>
<stop offset="0.614" stop-color="#2c115f"/>
<stop offset="0.624" stop-color="#52137c"/>
<stop offset="0.634" stop-color="#271258"/>
<stop offset="0.644" stop-color="#2f1163"/>
<stop offset="0.653" stop-color="#130d34"/>
<stop offset="0.663" stop-color="#390f6e"/>
<stop offset="0.673" stop-color="#59157e"/>
<stop offset="0.683" stop-color="#120d31"/>
<stop offset="0.693" stop-color="#29115a"/>
<stop offset="0.703" stop-color="#681c81"/>
<stop offset="0.713" stop-color="#681c81"/>
<stop offset="0.723" stop-color="#57157e"/>
<stop offset="0.733" stop-color="#390f6e"/>
<stop offset="0.743" stop-color="#3d0f71"/>
<stop offset="0.752" stop-color="#3d0f71"/>
<stop offset="0.762" stop-color="#3d0f71"/>
<stop offset="0.772" stop-color="#3d0f71"/>
<stop offset="0.782" stop-color="#3d0f71"/>
<stop offset="0.792" stop-color="#601880"/>
<stop offset="0.802" stop-color="#792282"/>
<stop offset="0.812" stop-color="#601880"/>
<stop offset="0.822" stop-color="#3f0f72"/>
<stop offset="0.832" stop-color="#400f74"/>
<stop offset="0.842" stop-color="#792282"/>
<stop offset="0.851" stop-color="#56147d"/>
<stop offset="0.861" stop-color="#341069"/>
<stop offset="0.871" stop-color="#271258"/>
<stop offset="0.881" stop-color="#400f74"/>
<stop offset="0.891" stop-color="#3d0f71"/>
<stop offset="0.901" stop-color="#3d0f71"/>
<stop offset="0.911" stop-color="#3d0f71"/>
<stop offset="0.921" stop-color="#2d1161"/>
<stop offset="0.931" stop-color="#651a80"/>
<stop offset="0.941" stop-color="#390f6e"/>
<stop offset="0.950" stop-color="#140e36"/>
<stop offset="0.960" stop-color="#000004"/>
<stop offset="0.970" stop-color="#010106"/>
<stop offset="0.980" stop-color="#1a1042"/>
<stop offset="0.990" stop-color="#4a1079"/>
<stop offset="1.000" stop-color="#651a80"/>
</linearGradient>
<linearGradient id="ra12" gradientUnits="userSpaceOnUse" x1="97.5" y1="0" x2="602.5" y2="0">
<stop offset="0.000" stop-color="#681c81"/>
<stop offset="0.010" stop-color="#5a167e"/>
<stop offset="0.020" stop-color="#07061c"/>
<stop offset="0.030" stop-color="#2f1163"/>
<stop offset="0.040" stop-color="#56147d"/>
<stop offset="0.050" stop-color="#6d1d81"/>
<stop offset="0.059" stop-color="#4a1079"/>
<stop offset="0.069" stop-color="#601880"/>
<stop offset="0.079" stop-color="#0b0924"/>
<stop offset="0.089" stop-color="#000004"/>
<stop offset="0.099" stop-color="#000004"/>
<stop offset="0.109" stop-color="#2f1163"/>
<stop offset="0.119" stop-color="#2d1161"/>
<stop offset="0.129" stop-color="#2f1163"/>
<stop offset="0.139" stop-color="#4f127b"/>
<stop offset="0.149" stop-color="#311165"/>
<stop offset="0.158" stop-color="#36106b"/>
<stop offset="0.168" stop-color="#0e0b2b"/>
<stop offset="0.178" stop-color="#000004"/>
<stop offset="0.188" stop-color="#1a1042"/>
<stop offset="0.198" stop-color="#701f81"/>
<stop offset="0.208" stop-color="#762181"/>
<stop offset="0.218" stop-color="#7c2382"/>
<stop offset="0.228" stop-color="#812581"/>
<stop offset="0.238" stop-color="#812581"/>
<stop offset="0.248" stop-color="#6b1d81"/>
<stop offset="0.257" stop-color="#451077"/>
<stop offset="0.267" stop-color="#3f0f72"/>
<stop offset="0.277" stop-color="#090720"/>
<stop offset="0.287" stop-color="#0c0926"/>
<stop offset="0.297" stop-color="#1e1149"/>
<stop offset="0.307" stop-color="#1e1149"/>
<stop offset="0.317" stop-color="#2a115c"/>
<stop offset="0.327" stop-color="#36106b"/>
<stop offset="0.337" stop-color="#681c81"/>
<stop offset="0.347" stop-color="#4a1079"/>
<stop offset="0.356" stop-color="#390f6e"/>
<stop offset="0.366" stop-color="#2d1161"/>
<stop offset="0.376" stop-color="#241253"/>
<stop offset="0.386" stop-color="#241253"/>
<stop offset="0.396" stop-color="#2d1161"/>
<stop offset="0.406" stop-color="#38106c"/>
<stop offset="0.416" stop-color="#420f75"/>
<stop offset="0.426" stop-color="#4f127b"/>
<stop offset="0.436" stop-color="#601880"/>
<stop offset="0.446" stop-color="#721f81"/>
<stop offset="0.455" stop-color="#ba3878"/>
<stop offset="0.465" stop-color="#932b80"/>
<stop offset="0.475" stop-color="#892881"/>
<stop offset="0.485" stop-color="#882781"/>
<stop offset="0.495" stop-color="#862781"/>
<stop offset="0.505" stop-color="#862781"/>
<stop offset="0.515" stop-color="#882781"/>
<stop offset="0.525" stop-color="#942c80"/>
<stop offset="0.535" stop-color="#c53c74"/>
<stop offset="0.545" stop-color="#8e2a81"/>
<stop offset="0.554" stop-color="#902a81"/>
<stop offset="0.564" stop-color="#932b80"/>
<stop offset="0.574" stop-color="#9c2e7f"/>
<stop offset="0.584" stop-color="#782281"/>
<stop offset="0.594" stop-color="#6b1d81"/>
<stop offset="0.604" stop-color="#51127c"/>
<stop offset="0.614" stop-color="#4f127b"/>
<stop offset="0.624" stop-color="#681c81"/>
<stop offset="0.634" stop-color="#36106b"/>
<stop offset="0.644" stop-color="#38106c"/>
<stop offset="0.653" stop-color="#36106b"/>
<stop offset="0.663" stop-color="#420f75"/>
<stop offset="0.673" stop-color="#420f75"/>
<stop offset="0.683" stop-color="#0a0822"/>
<stop offset="0.693" stop-color="#400f74"/>
<stop offset="0.703" stop-color="#721f81"/>
<stop offset="0.713" stop-color="#752181"/>
<stop offset="0.723" stop-color="#52137c"/>
<stop offset="0.733" stop-color="#420f75"/>
<stop offset="0.743" stop-color="#3d0f71"/>
<stop offset="0.752" stop-color="#3f0f72"/>
<stop offset="0.762" stop-color="#440f76"/>
<stop offset="0.772" stop-color="#440f76"/>
<stop offset="0.782" stop-color="#440f76"/>
<stop offset="0.792" stop-color="#471078"/>
<stop offset="0.802" stop-color="#782281"/>
<stop offset="0.812" stop-color="#56147d"/>
<stop offset="0.822" stop-color="#451077"/>
<stop offset="0.832" stop-color="#5d177f"/>
<stop offset="0.842" stop-color="#862781"/>
<stop offset="0.851" stop-color="#752181"/>
<stop offset="0.861" stop-color="#4c117a"/>
<stop offset="0.871" stop-color="#491078"/>
<stop offset="0.881" stop-color="#471078"/>
<stop offset="0.891" stop-color="#451077"/>
<stop offset="0.901" stop-color="#440f76"/>
<stop offset="0.911" stop-color="#440f76"/>
<stop offset="0.921" stop-color="#1d1147"/>
<stop offset="0.931" stop-color="#7b2382"/>
<stop offset="0.941" stop-color="#57157e"/>
<stop offset="0.950" stop-color="#341069"/>
<stop offset="0.960" stop-color="#0a0822"/>
<stop offset="0.970" stop-color="#160f3b"/>
<stop offset="0.980" stop-color="#36106b"/>
<stop offset="0.990" stop-color="#440f76"/>
<stop offset="1.000" stop-color="#732081"/>
</linearGradient>
<linearGradient id="ra13" gradientUnits="userSpaceOnUse" x1="97.5" y1="0" x2="602.5" y2="0">
<stop offset="0.000" stop-color="#5a167e"/>
<stop offset="0.010" stop-color="#38106c"/>
<stop offset="0.020" stop-color="#08071e"/>
<stop offset="0.030" stop-color="#3b0f70"/>
<stop offset="0.040" stop-color="#6d1d81"/>
<stop offset="0.050" stop-color="#6d1d81"/>
<stop offset="0.059" stop-color="#4c117a"/>
<stop offset="0.069" stop-color="#471078"/>
<stop offset="0.079" stop-color="#150e38"/>
<stop offset="0.089" stop-color="#000004"/>
<stop offset="0.099" stop-color="#000004"/>
<stop offset="0.109" stop-color="#4f127b"/>
<stop offset="0.119" stop-color="#3b0f70"/>
<stop offset="0.129" stop-color="#3f0f72"/>
<stop offset="0.139" stop-color="#671b80"/>
<stop offset="0.149" stop-color="#2a115c"/>
<stop offset="0.158" stop-color="#2a115c"/>
<stop offset="0.168" stop-color="#0c0926"/>
<stop offset="0.178" stop-color="#000004"/>
<stop offset="0.188" stop-color="#0d0a29"/>
<stop offset="0.198" stop-color="#621980"/>
<stop offset="0.208" stop-color="#4c117a"/>
<stop offset="0.218" stop-color="#681c81"/>
<stop offset="0.228" stop-color="#812581"/>
<stop offset="0.238" stop-color="#812581"/>
<stop offset="0.248" stop-color="#812581"/>
<stop offset="0.257" stop-color="#52137c"/>
<stop offset="0.267" stop-color="#331067"/>
<stop offset="0.277" stop-color="#020109"/>
<stop offset="0.287" stop-color="#03030f"/>
<stop offset="0.297" stop-color="#221150"/>
<stop offset="0.307" stop-color="#241253"/>
<stop offset="0.317" stop-color="#2f1163"/>
<stop offset="0.327" stop-color="#4c117a"/>
<stop offset="0.337" stop-color="#832681"/>
<stop offset="0.347" stop-color="#651a80"/>
<stop offset="0.356" stop-color="#3d0f71"/>
<stop offset="0.366" stop-color="#331067"/>
<stop offset="0.376" stop-color="#271258"/>
<stop offset="0.386" stop-color="#29115a"/>
<stop offset="0.396" stop-color="#36106b"/>
<stop offset="0.406" stop-color="#440f76"/>
<stop offset="0.416" stop-color="#51127c"/>
<stop offset="0.426" stop-color="#5d177f"/>
<stop offset="0.436" stop-color="#6d1d81"/>
<stop offset="0.446" stop-color="#992d80"/>
<stop offset="0.455" stop-color="#c73d73"/>
<stop offset="0.465" stop-color="#b73779"/>
<stop offset="0.475" stop-color="#8c2981"/>
<stop offset="0.485" stop-color="#892881"/>
<stop offset="0.495" stop-color="#862781"/>
<stop offset="0.505" stop-color="#862781"/>
<stop offset="0.515" stop-color="#882781"/>
<stop offset="0.525" stop-color="#c23b75"/>
<stop offset="0.535" stop-color="#ca3e72"/>
<stop offset="0.545" stop-color="#a5317e"/>
<stop offset="0.554" stop-color="#932b80"/>
<stop offset="0.564" stop-color="#862781"/>
<stop offset="0.574" stop-color="#752181"/>
<stop offset="0.584" stop-color="#601880"/>
<stop offset="0.594" stop-color="#802582"/>
<stop offset="0.604" stop-color="#5c167f"/>
<stop offset="0.614" stop-color="#5f187f"/>
<stop offset="0.624" stop-color="#721f81"/>
<stop offset="0.634" stop-color="#471078"/>
<stop offset="0.644" stop-color="#420f75"/>
<stop offset="0.653" stop-color="#471078"/>
<stop offset="0.663" stop-color="#491078"/>
<stop offset="0.673" stop-color="#271258"/>
<stop offset="0.683" stop-color="#040414"/>
<stop offset="0.693" stop-color="#3b0f70"/>
<stop offset="0.703" stop-color="#792282"/>
<stop offset="0.713" stop-color="#7e2482"/>
<stop offset="0.723" stop-color="#621980"/>
<stop offset="0.733" stop-color="#491078"/>
<stop offset="0.743" stop-color="#2f1163"/>
<stop offset="0.752" stop-color="#311165"/>
<stop offset="0.762" stop-color="#400f74"/>
<stop offset="0.772" stop-color="#3b0f70"/>
<stop offset="0.782" stop-color="#4a1079"/>
<stop offset="0.792" stop-color="#4a1079"/>
<stop offset="0.802" stop-color="#5f187f"/>
<stop offset="0.812" stop-color="#4a1079"/>
<stop offset="0.822" stop-color="#4c117a"/>
<stop offset="0.832" stop-color="#601880"/>
<stop offset="0.842" stop-color="#8e2a81"/>
<stop offset="0.851" stop-color="#782281"/>
<stop offset="0.861" stop-color="#54137d"/>
<stop offset="0.871" stop-color="#52137c"/>
<stop offset="0.881" stop-color="#52137c"/>
<stop offset="0.891" stop-color="#51127c"/>
<stop offset="0.901" stop-color="#4a1079"/>
<stop offset="0.911" stop-color="#440f76"/>
<stop offset="0.921" stop-color="#19103f"/>
<stop offset="0.931" stop-color="#782281"/>
<stop offset="0.941" stop-color="#6d1d81"/>
<stop offset="0.950" stop-color="#491078"/>
<stop offset="0.960" stop-color="#29115a"/>
<stop offset="0.970" stop-color="#3d0f71"/>
<stop offset="0.980" stop-color="#451077"/>
<stop offset="0.990" stop-color="#451077"/>
<stop offset="1.000" stop-color="#6e1e81"/>
</linearGradient>
<linearGradient id="ra14" gradientUnits="userSpaceOnUse" x1="97.5" y1="0" x2="602.5" y2="0">
<stop offset="0.000" stop-color="#2c115f"/>
<stop offset="0.010" stop-color="#100b2d"/>
<stop offset="0.020" stop-color="#050416"/>
<stop offset="0.030" stop-color="#2f1163"/>
<stop offset="0.040" stop-color="#6d1d81"/>
<stop offset="0.050" stop-color="#6b1d81"/>
<stop offset="0.059" stop-color="#271258"/>
<stop offset="0.069" stop-color="#150e38"/>
<stop offset="0.079" stop-color="#030312"/>
<stop offset="0.089" stop-color="#000004"/>
<stop offset="0.099" stop-color="#160f3b"/>
<stop offset="0.109" stop-color="#752181"/>
<stop offset="0.119" stop-color="#59157e"/>
<stop offset="0.129" stop-color="#5c167f"/>
<stop offset="0.139" stop-color="#641a80"/>
<stop offset="0.149" stop-color="#440f76"/>
<stop offset="0.158" stop-color="#271258"/>
<stop offset="0.168" stop-color="#20114b"/>
<stop offset="0.178" stop-color="#030312"/>
<stop offset="0.188" stop-color="#241253"/>
<stop offset="0.198" stop-color="#471078"/>
<stop offset="0.208" stop-color="#3d0f71"/>
<stop offset="0.218" stop-color="#51127c"/>
<stop offset="0.228" stop-color="#681c81"/>
<stop offset="0.238" stop-color="#7e2482"/>
<stop offset="0.248" stop-color="#6a1c81"/>
<stop offset="0.257" stop-color="#440f76"/>
<stop offset="0.267" stop-color="#390f6e"/>
<stop offset="0.277" stop-color="#040414"/>
<stop offset="0.287" stop-color="#07061c"/>
<stop offset="0.297" stop-color="#271258"/>
<stop offset="0.307" stop-color="#29115a"/>
<stop offset="0.317" stop-color="#341069"/>
<stop offset="0.327" stop-color="#671b80"/>
<stop offset="0.337" stop-color="#882781"/>
<stop offset="0.347" stop-color="#802582"/>
<stop offset="0.356" stop-color="#4a1079"/>
<stop offset="0.366" stop-color="#36106b"/>
<stop offset="0.376" stop-color="#2c115f"/>
<stop offset="0.386" stop-color="#2d1161"/>
<stop offset="0.396" stop-color="#3f0f72"/>
<stop offset="0.406" stop-color="#4e117b"/>
<stop offset="0.416" stop-color="#5d177f"/>
<stop offset="0.426" stop-color="#6a1c81"/>
<stop offset="0.436" stop-color="#762181"/>
<stop offset="0.446" stop-color="#932b80"/>
<stop offset="0.455" stop-color="#aa337d"/>
<stop offset="0.465" stop-color="#a5317e"/>
<stop offset="0.475" stop-color="#902a81"/>
<stop offset="0.485" stop-color="#8b2981"/>
<stop offset="0.495" stop-color="#882781"/>
<stop offset="0.505" stop-color="#862781"/>
<stop offset="0.515" stop-color="#882781"/>
<stop offset="0.525" stop-color="#c23b75"/>
<stop offset="0.535" stop-color="#ca3e72"/>
<stop offset="0.545" stop-color="#902a81"/>
<stop offset="0.554" stop-color="#962c80"/>
<stop offset="0.564" stop-color="#842681"/>
<stop offset="0.574" stop-color="#621980"/>
<stop offset="0.584" stop-color="#782281"/>
<stop offset="0.594" stop-color="#b5367a"/>
<stop offset="0.604" stop-color="#7b2382"/>
<stop offset="0.614" stop-color="#52137c"/>
<stop offset="0.624" stop-color="#5a167e"/>
<stop offset="0.634" stop-color="#451077"/>
<stop offset="0.644" stop-color="#4a1079"/>
<stop offset="0.653" stop-color="#4f127b"/>
<stop offset="0.663" stop-color="#4c117a"/>
<stop offset="0.673" stop-color="#19103f"/>
<stop offset="0.683" stop-color="#010106"/>
<stop offset="0.693" stop-color="#19103f"/>
<stop offset="0.703" stop-color="#832681"/>
<stop offset="0.713" stop-color="#862781"/>
<stop offset="0.723" stop-color="#5c167f"/>
<stop offset="0.733" stop-color="#51127c"/>
<stop offset="0.743" stop-color="#221150"/>
<stop offset="0.752" stop-color="#251255"/>
<stop offset="0.762" stop-color="#2d1161"/>
<stop offset="0.772" stop-color="#29115a"/>
<stop offset="0.782" stop-color="#52137c"/>
<stop offset="0.792" stop-color="#52137c"/>
<stop offset="0.802" stop-color="#52137c"/>
<stop offset="0.812" stop-color="#52137c"/>
<stop offset="0.822" stop-color="#52137c"/>
<stop offset="0.832" stop-color="#56147d"/>
<stop offset="0.842" stop-color="#8b2981"/>
<stop offset="0.851" stop-color="#681c81"/>
<stop offset="0.861" stop-color="#5c167f"/>
<stop offset="0.871" stop-color="#59157e"/>
<stop offset="0.881" stop-color="#721f81"/>
<stop offset="0.891" stop-color="#701f81"/>
<stop offset="0.901" stop-color="#52137c"/>
<stop offset="0.911" stop-color="#38106c"/>
<stop offset="0.921" stop-color="#08071e"/>
<stop offset="0.931" stop-color="#52137c"/>
<stop offset="0.941" stop-color="#59157e"/>
<stop offset="0.950" stop-color="#52137c"/>
<stop offset="0.960" stop-color="#4f127b"/>
<stop offset="0.970" stop-color="#51127c"/>
<stop offset="0.980" stop-color="#51127c"/>
<stop offset="0.990" stop-color="#51127c"/>
<stop offset="1.000" stop-color="#52137c"/>
</linearGradient>
<linearGradient id="ra15" gradientUnits="userSpaceOnUse" x1="97.5" y1="0" x2="602.5" y2="0">
<stop offset="0.000" stop-color="#120d31"/>
<stop offset="0.010" stop-color="#130d34"/>
<stop offset="0.020" stop-color="#180f3d"/>
<stop offset="0.030" stop-color="#3d0f71"/>
<stop offset="0.040" stop-color="#782281"/>
<stop offset="0.050" stop-color="#7c2382"/>
<stop offset="0.059" stop-color="#400f74"/>
<stop offset="0.069" stop-color="#2c115f"/>
<stop offset="0.079" stop-color="#271258"/>
<stop offset="0.089" stop-color="#130d34"/>
<stop offset="0.099" stop-color="#5d177f"/>
<stop offset="0.109" stop-color="#7c2382"/>
<stop offset="0.119" stop-color="#752181"/>
<stop offset="0.129" stop-color="#4c117a"/>
<stop offset="0.139" stop-color="#651a80"/>
<stop offset="0.149" stop-color="#271258"/>
<stop offset="0.158" stop-color="#2c115f"/>
<stop offset="0.168" stop-color="#331067"/>
<stop offset="0.178" stop-color="#1a1042"/>
<stop offset="0.188" stop-color="#3d0f71"/>
<stop offset="0.198" stop-color="#400f74"/>
<stop offset="0.208" stop-color="#440f76"/>
<stop offset="0.218" stop-color="#471078"/>
<stop offset="0.228" stop-color="#491078"/>
<stop offset="0.238" stop-color="#641a80"/>
<stop offset="0.248" stop-color="#4a1079"/>
<stop offset="0.257" stop-color="#38106c"/>
<stop offset="0.267" stop-color="#331067"/>
<stop offset="0.277" stop-color="#0c0926"/>
<stop offset="0.287" stop-color="#150e38"/>
<stop offset="0.297" stop-color="#2c115f"/>
<stop offset="0.307" stop-color="#2f1163"/>
<stop offset="0.317" stop-color="#390f6e"/>
<stop offset="0.327" stop-color="#651a80"/>
<stop offset="0.337" stop-color="#882781"/>
<stop offset="0.347" stop-color="#812581"/>
<stop offset="0.356" stop-color="#4a1079"/>
<stop offset="0.366" stop-color="#38106c"/>
<stop offset="0.376" stop-color="#2d1161"/>
<stop offset="0.386" stop-color="#2f1163"/>
<stop offset="0.396" stop-color="#3b0f70"/>
<stop offset="0.406" stop-color="#491078"/>
<stop offset="0.416" stop-color="#54137d"/>
<stop offset="0.426" stop-color="#601880"/>
<stop offset="0.436" stop-color="#6d1d81"/>
<stop offset="0.446" stop-color="#7e2482"/>
<stop offset="0.455" stop-color="#671b80"/>
<stop offset="0.465" stop-color="#6a1c81"/>
<stop offset="0.475" stop-color="#8c2981"/>
<stop offset="0.485" stop-color="#892881"/>
<stop offset="0.495" stop-color="#862781"/>
<stop offset="0.505" stop-color="#862781"/>
<stop offset="0.515" stop-color="#902a81"/>
<stop offset="0.525" stop-color="#c83e73"/>
<stop offset="0.535" stop-color="#ca3e72"/>
<stop offset="0.545" stop-color="#912b81"/>
<stop offset="0.554" stop-color="#982d80"/>
<stop offset="0.564" stop-color="#a02f7f"/>
<stop offset="0.574" stop-color="#8e2a81"/>
<stop offset="0.584" stop-color="#b83779"/>
<stop offset="0.594" stop-color="#c23b75"/>
<stop offset="0.604" stop-color="#a8327d"/>
<stop offset="0.614" stop-color="#54137d"/>
<stop offset="0.624" stop-color="#271258"/>
<stop offset="0.634" stop-color="#400f74"/>
<stop offset="0.644" stop-color="#52137c"/>
<stop offset="0.653" stop-color="#57157e"/>
<stop offset="0.663" stop-color="#57157e"/>
<stop offset="0.673" stop-color="#271258"/>
<stop offset="0.683" stop-color="#02020b"/>
<stop offset="0.693" stop-color="#241253"/>
<stop offset="0.703" stop-color="#832681"/>
<stop offset="0.713" stop-color="#782281"/>
<stop offset="0.723" stop-color="#54137d"/>
<stop offset="0.733" stop-color="#54137d"/>
<stop offset="0.743" stop-color="#180f3d"/>
<stop offset="0.752" stop-color="#1a1042"/>
<stop offset="0.762" stop-color="#1d1147"/>
<stop offset="0.772" stop-color="#180f3d"/>
<stop offset="0.782" stop-color="#59157e"/>
<stop offset="0.792" stop-color="#59157e"/>
<stop offset="0.802" stop-color="#59157e"/>
<stop offset="0.812" stop-color="#59157e"/>
<stop offset="0.822" stop-color="#59157e"/>
<stop offset="0.832" stop-color="#59157e"/>
<stop offset="0.842" stop-color="#6e1e81"/>
<stop offset="0.851" stop-color="#59157e"/>
<stop offset="0.861" stop-color="#59157e"/>
<stop offset="0.871" stop-color="#5a167e"/>
<stop offset="0.881" stop-color="#8e2a81"/>
<stop offset="0.891" stop-color="#912b81"/>
<stop offset="0.901" stop-color="#5c167f"/>
<stop offset="0.911" stop-color="#5c167f"/>
<stop offset="0.921" stop-color="#20114b"/>
<stop offset="0.931" stop-color="#57157e"/>
<stop offset="0.941" stop-color="#59157e"/>
<stop offset="0.950" stop-color="#57157e"/>
<stop offset="0.960" stop-color="#57157e"/>
<stop offset="0.970" stop-color="#56147d"/>
<stop offset="0.980" stop-color="#56147d"/>
<stop offset="0.990" stop-color="#56147d"/>
<stop offset="1.000" stop-color="#2c115f"/>
</linearGradient>
<linearGradient id="ra16" gradientUnits="userSpaceOnUse" x1="97.5" y1="0" x2="602.5" y2="0">
<stop offset="0.000" stop-color="#0e0b2b"/>
<stop offset="0.010" stop-color="#29115a"/>
<stop offset="0.020" stop-color="#390f6e"/>
<stop offset="0.030" stop-color="#341069"/>
<stop offset="0.040" stop-color="#57157e"/>
<stop offset="0.050" stop-color="#8b2981"/>
<stop offset="0.059" stop-color="#51127c"/>
<stop offset="0.069" stop-color="#54137d"/>
<stop offset="0.079" stop-color="#4a1079"/>
<stop offset="0.089" stop-color="#20114b"/>
<stop offset="0.099" stop-color="#5f187f"/>
<stop offset="0.109" stop-color="#832681"/>
<stop offset="0.119" stop-color="#56147d"/>
<stop offset="0.129" stop-color="#02020d"/>
<stop offset="0.139" stop-color="#491078"/>
<stop offset="0.149" stop-color="#29115a"/>
<stop offset="0.158" stop-color="#311165"/>
<stop offset="0.168" stop-color="#390f6e"/>
<stop offset="0.178" stop-color="#3d0f71"/>
<stop offset="0.188" stop-color="#491078"/>
<stop offset="0.198" stop-color="#491078"/>
<stop offset="0.208" stop-color="#4a1079"/>
<stop offset="0.218" stop-color="#4c117a"/>
<stop offset="0.228" stop-color="#491078"/>
<stop offset="0.238" stop-color="#4a1079"/>
<stop offset="0.248" stop-color="#3d0f71"/>
<stop offset="0.257" stop-color="#2a115c"/>
<stop offset="0.267" stop-color="#29115a"/>
<stop offset="0.277" stop-color="#0c0926"/>
<stop offset="0.287" stop-color="#271258"/>
<stop offset="0.297" stop-color="#331067"/>
<stop offset="0.307" stop-color="#38106c"/>
<stop offset="0.317" stop-color="#51127c"/>
<stop offset="0.327" stop-color="#52137c"/>
<stop offset="0.337" stop-color="#832681"/>
<stop offset="0.347" stop-color="#862781"/>
<stop offset="0.356" stop-color="#641a80"/>
<stop offset="0.366" stop-color="#390f6e"/>
<stop offset="0.376" stop-color="#311165"/>
<stop offset="0.386" stop-color="#311165"/>
<stop offset="0.396" stop-color="#390f6e"/>
<stop offset="0.406" stop-color="#420f75"/>
<stop offset="0.416" stop-color="#4a1079"/>
<stop offset="0.426" stop-color="#56147d"/>
<stop offset="0.436" stop-color="#671b80"/>
<stop offset="0.446" stop-color="#8e2a81"/>
<stop offset="0.455" stop-color="#4c117a"/>
<stop offset="0.465" stop-color="#681c81"/>
<stop offset="0.475" stop-color="#882781"/>
<stop offset="0.485" stop-color="#882781"/>
<stop offset="0.495" stop-color="#862781"/>
<stop offset="0.505" stop-color="#862781"/>
<stop offset="0.515" stop-color="#882781"/>
<stop offset="0.525" stop-color="#bf3a77"/>
<stop offset="0.535" stop-color="#9e2f7f"/>
<stop offset="0.545" stop-color="#912b81"/>
<stop offset="0.554" stop-color="#9b2e7f"/>
<stop offset="0.564" stop-color="#a3307e"/>
<stop offset="0.574" stop-color="#a3307e"/>
<stop offset="0.584" stop-color="#c23b75"/>
<stop offset="0.594" stop-color="#ca3e72"/>
<stop offset="0.604" stop-color="#9e2f7f"/>
<stop offset="0.614" stop-color="#5d177f"/>
<stop offset="0.624" stop-color="#010108"/>
<stop offset="0.634" stop-color="#311165"/>
<stop offset="0.644" stop-color="#5a167e"/>
<stop offset="0.653" stop-color="#5d177f"/>
<stop offset="0.663" stop-color="#641a80"/>
<stop offset="0.673" stop-color="#400f74"/>
<stop offset="0.683" stop-color="#030312"/>
<stop offset="0.693" stop-color="#420f75"/>
<stop offset="0.703" stop-color="#681c81"/>
<stop offset="0.713" stop-color="#621980"/>
<stop offset="0.723" stop-color="#440f76"/>
<stop offset="0.733" stop-color="#5d177f"/>
<stop offset="0.743" stop-color="#29115a"/>
<stop offset="0.752" stop-color="#2c115f"/>
<stop offset="0.762" stop-color="#2a115c"/>
<stop offset="0.772" stop-color="#331067"/>
<stop offset="0.782" stop-color="#5f187f"/>
<stop offset="0.792" stop-color="#5f187f"/>
<stop offset="0.802" stop-color="#5f187f"/>
<stop offset="0.812" stop-color="#5f187f"/>
<stop offset="0.822" stop-color="#5d177f"/>
<stop offset="0.832" stop-color="#5c167f"/>
<stop offset="0.842" stop-color="#4a1079"/>
<stop offset="0.851" stop-color="#56147d"/>
<stop offset="0.861" stop-color="#57157e"/>
<stop offset="0.871" stop-color="#671b80"/>
<stop offset="0.881" stop-color="#9c2e7f"/>
<stop offset="0.891" stop-color="#a1307e"/>
<stop offset="0.901" stop-color="#721f81"/>
<stop offset="0.911" stop-color="#651a80"/>
<stop offset="0.921" stop-color="#420f75"/>
<stop offset="0.931" stop-color="#5c167f"/>
<stop offset="0.941" stop-color="#5f187f"/>
<stop offset="0.950" stop-color="#5d177f"/>
<stop offset="0.960" stop-color="#5c167f"/>
<stop offset="0.970" stop-color="#5a167e"/>
<stop offset="0.980" stop-color="#5a167e"/>
<stop offset="0.990" stop-color="#5a167e"/>
<stop offset="1.000" stop-color="#08071e"/>
</linearGradient>
<linearGradient id="ra17" gradientUnits="userSpaceOnUse" x1="97.5" y1="0" x2="602.5" y2="0">
<stop offset="0.000" stop-color="#29115a"/>
<stop offset="0.010" stop-color="#4c117a"/>
<stop offset="0.020" stop-color="#51127c"/>
<stop offset="0.030" stop-color="#29115a"/>
<stop offset="0.040" stop-color="#400f74"/>
<stop offset="0.050" stop-color="#812581"/>
<stop offset="0.059" stop-color="#651a80"/>
<stop offset="0.069" stop-color="#641a80"/>
<stop offset="0.079" stop-color="#5f187f"/>
<stop offset="0.089" stop-color="#3d0f71"/>
<stop offset="0.099" stop-color="#641a80"/>
<stop offset="0.109" stop-color="#882781"/>
<stop offset="0.119" stop-color="#0e0b2b"/>
<stop offset="0.129" stop-color="#000004"/>
<stop offset="0.139" stop-color="#140e36"/>
<stop offset="0.149" stop-color="#2a115c"/>
<stop offset="0.158" stop-color="#36106b"/>
<stop offset="0.168" stop-color="#400f74"/>
<stop offset="0.178" stop-color="#4c117a"/>
<stop offset="0.188" stop-color="#51127c"/>
<stop offset="0.198" stop-color="#51127c"/>
<stop offset="0.208" stop-color="#51127c"/>
<stop offset="0.218" stop-color="#52137c"/>
<stop offset="0.228" stop-color="#4a1079"/>
<stop offset="0.238" stop-color="#57157e"/>
<stop offset="0.248" stop-color="#4f127b"/>
<stop offset="0.257" stop-color="#21114e"/>
<stop offset="0.267" stop-color="#1e1149"/>
<stop offset="0.277" stop-color="#06051a"/>
<stop offset="0.287" stop-color="#2a115c"/>
<stop offset="0.297" stop-color="#38106c"/>
<stop offset="0.307" stop-color="#420f75"/>
<stop offset="0.317" stop-color="#6b1d81"/>
<stop offset="0.327" stop-color="#4a1079"/>
<stop offset="0.337" stop-color="#812581"/>
<stop offset="0.347" stop-color="#892881"/>
<stop offset="0.356" stop-color="#812581"/>
<stop offset="0.366" stop-color="#4f127b"/>
<stop offset="0.376" stop-color="#341069"/>
<stop offset="0.386" stop-color="#331067"/>
<stop offset="0.396" stop-color="#38106c"/>
<stop offset="0.406" stop-color="#3d0f71"/>
<stop offset="0.416" stop-color="#420f75"/>
<stop offset="0.426" stop-color="#4e117b"/>
<stop offset="0.436" stop-color="#721f81"/>
<stop offset="0.446" stop-color="#a8327d"/>
<stop offset="0.455" stop-color="#6d1d81"/>
<stop offset="0.465" stop-color="#802582"/>
<stop offset="0.475" stop-color="#842681"/>
<stop offset="0.485" stop-color="#842681"/>
<stop offset="0.495" stop-color="#862781"/>
<stop offset="0.505" stop-color="#862781"/>
<stop offset="0.515" stop-color="#892881"/>
<stop offset="0.525" stop-color="#9e2f7f"/>
<stop offset="0.535" stop-color="#8c2981"/>
<stop offset="0.545" stop-color="#932b80"/>
<stop offset="0.554" stop-color="#9c2e7f"/>
<stop offset="0.564" stop-color="#a6317d"/>
<stop offset="0.574" stop-color="#b2357b"/>
<stop offset="0.584" stop-color="#ae347b"/>
<stop offset="0.594" stop-color="#c73d73"/>
<stop offset="0.604" stop-color="#732081"/>
<stop offset="0.614" stop-color="#38106c"/>
<stop offset="0.624" stop-color="#040414"/>
<stop offset="0.634" stop-color="#271258"/>
<stop offset="0.644" stop-color="#56147d"/>
<stop offset="0.653" stop-color="#641a80"/>
<stop offset="0.663" stop-color="#671b80"/>
<stop offset="0.673" stop-color="#4e117b"/>
<stop offset="0.683" stop-color="#07061c"/>
<stop offset="0.693" stop-color="#491078"/>
<stop offset="0.703" stop-color="#5d177f"/>
<stop offset="0.713" stop-color="#36106b"/>
<stop offset="0.723" stop-color="#20114b"/>
<stop offset="0.733" stop-color="#52137c"/>
<stop offset="0.743" stop-color="#440f76"/>
<stop offset="0.752" stop-color="#471078"/>
<stop offset="0.762" stop-color="#2f1163"/>
<stop offset="0.772" stop-color="#52137c"/>
<stop offset="0.782" stop-color="#651a80"/>
<stop offset="0.792" stop-color="#651a80"/>
<stop offset="0.802" stop-color="#651a80"/>
<stop offset="0.812" stop-color="#671b80"/>
<stop offset="0.822" stop-color="#641a80"/>
<stop offset="0.832" stop-color="#5f187f"/>
<stop offset="0.842" stop-color="#3f0f72"/>
<stop offset="0.851" stop-color="#2f1163"/>
<stop offset="0.861" stop-color="#56147d"/>
<stop offset="0.871" stop-color="#5d177f"/>
<stop offset="0.881" stop-color="#8e2a81"/>
<stop offset="0.891" stop-color="#982d80"/>
<stop offset="0.901" stop-color="#721f81"/>
<stop offset="0.911" stop-color="#6d1d81"/>
<stop offset="0.921" stop-color="#621980"/>
<stop offset="0.931" stop-color="#671b80"/>
<stop offset="0.941" stop-color="#651a80"/>
<stop offset="0.950" stop-color="#621980"/>
<stop offset="0.960" stop-color="#59157e"/>
<stop offset="0.970" stop-color="#5f187f"/>
<stop offset="0.980" stop-color="#782281"/>
<stop offset="0.990" stop-color="#8c2981"/>
<stop offset="1.000" stop-color="#0b0924"/>
</linearGradient>
<linearGradient id="ra18" gradientUnits="userSpaceOnUse" x1="97.5" y1="0" x2="602.5" y2="0">
<stop offset="0.000" stop-color="#420f75"/>
<stop offset="0.010" stop-color="#56147d"/>
<stop offset="0.020" stop-color="#400f74"/>
<stop offset="0.030" stop-color="#19103f"/>
<stop offset="0.040" stop-color="#19103f"/>
<stop offset="0.050" stop-color="#6e1e81"/>
<stop offset="0.059" stop-color="#6a1c81"/>
<stop offset="0.069" stop-color="#6a1c81"/>
<stop offset="0.079" stop-color="#651a80"/>
<stop offset="0.089" stop-color="#59157e"/>
<stop offset="0.099" stop-color="#962c80"/>
<stop offset="0.109" stop-color="#792282"/>
<stop offset="0.119" stop-color="#000004"/>
<stop offset="0.129" stop-color="#000004"/>
<stop offset="0.139" stop-color="#000004"/>
<stop offset="0.149" stop-color="#160f3b"/>
<stop offset="0.158" stop-color="#2c115f"/>
<stop offset="0.168" stop-color="#3b0f70"/>
<stop offset="0.178" stop-color="#4a1079"/>
<stop offset="0.188" stop-color="#52137c"/>
<stop offset="0.198" stop-color="#54137d"/>
<stop offset="0.208" stop-color="#4e117b"/>
<stop offset="0.218" stop-color="#57157e"/>
<stop offset="0.228" stop-color="#5c167f"/>
<stop offset="0.238" stop-color="#701f81"/>
<stop offset="0.248" stop-color="#651a80"/>
<stop offset="0.257" stop-color="#2d1161"/>
<stop offset="0.267" stop-color="#0c0926"/>
<stop offset="0.277" stop-color="#000004"/>
<stop offset="0.287" stop-color="#160f3b"/>
<stop offset="0.297" stop-color="#3d0f71"/>
<stop offset="0.307" stop-color="#5d177f"/>
<stop offset="0.317" stop-color="#862781"/>
<stop offset="0.327" stop-color="#5a167e"/>
<stop offset="0.337" stop-color="#732081"/>
<stop offset="0.347" stop-color="#912b81"/>
<stop offset="0.356" stop-color="#892881"/>
<stop offset="0.366" stop-color="#5a167e"/>
<stop offset="0.376" stop-color="#3d0f71"/>
<stop offset="0.386" stop-color="#3f0f72"/>
<stop offset="0.396" stop-color="#420f75"/>
<stop offset="0.406" stop-color="#471078"/>
<stop offset="0.416" stop-color="#59157e"/>
<stop offset="0.426" stop-color="#56147d"/>
<stop offset="0.436" stop-color="#842681"/>
<stop offset="0.446" stop-color="#a3307e"/>
<stop offset="0.455" stop-color="#942c80"/>
<stop offset="0.465" stop-color="#802582"/>
<stop offset="0.475" stop-color="#7e2482"/>
<stop offset="0.485" stop-color="#832681"/>
<stop offset="0.495" stop-color="#892881"/>
<stop offset="0.505" stop-color="#8b2981"/>
<stop offset="0.515" stop-color="#8c2981"/>
<stop offset="0.525" stop-color="#8c2981"/>
<stop offset="0.535" stop-color="#8c2981"/>
<stop offset="0.545" stop-color="#932b80"/>
<stop offset="0.554" stop-color="#9c2e7f"/>
<stop offset="0.564" stop-color="#a6317d"/>
<stop offset="0.574" stop-color="#a8327d"/>
<stop offset="0.584" stop-color="#882781"/>
<stop offset="0.594" stop-color="#8c2981"/>
<stop offset="0.604" stop-color="#51127c"/>
<stop offset="0.614" stop-color="#19103f"/>
<stop offset="0.624" stop-color="#07061c"/>
<stop offset="0.634" stop-color="#4a1079"/>
<stop offset="0.644" stop-color="#651a80"/>
<stop offset="0.653" stop-color="#651a80"/>
<stop offset="0.663" stop-color="#892881"/>
<stop offset="0.673" stop-color="#701f81"/>
<stop offset="0.683" stop-color="#331067"/>
<stop offset="0.693" stop-color="#57157e"/>
<stop offset="0.703" stop-color="#4f127b"/>
<stop offset="0.713" stop-color="#21114e"/>
<stop offset="0.723" stop-color="#06051a"/>
<stop offset="0.733" stop-color="#29115a"/>
<stop offset="0.743" stop-color="#5c167f"/>
<stop offset="0.752" stop-color="#4c117a"/>
<stop offset="0.762" stop-color="#251255"/>
<stop offset="0.772" stop-color="#52137c"/>
<stop offset="0.782" stop-color="#6a1c81"/>
<stop offset="0.792" stop-color="#6b1d81"/>
<stop offset="0.802" stop-color="#6d1d81"/>
<stop offset="0.812" stop-color="#6e1e81"/>
<stop offset="0.822" stop-color="#6d1d81"/>
<stop offset="0.832" stop-color="#5f187f"/>
<stop offset="0.842" stop-color="#271258"/>
<stop offset="0.851" stop-color="#08071e"/>
<stop offset="0.861" stop-color="#5c167f"/>
<stop offset="0.871" stop-color="#641a80"/>
<stop offset="0.881" stop-color="#7c2382"/>
<stop offset="0.891" stop-color="#842681"/>
<stop offset="0.901" stop-color="#8e2a81"/>
<stop offset="0.911" stop-color="#721f81"/>
<stop offset="0.921" stop-color="#6e1e81"/>
<stop offset="0.931" stop-color="#6b1d81"/>
<stop offset="0.941" stop-color="#681c81"/>
<stop offset="0.950" stop-color="#6b1d81"/>
<stop offset="0.960" stop-color="#3d0f71"/>
<stop offset="0.970" stop-color="#701f81"/>
<stop offset="0.980" stop-color="#9c2e7f"/>
<stop offset="0.990" stop-color="#9b2e7f"/>
<stop offset="1.000" stop-color="#271258"/>
</linearGradient>
<linearGradient id="ra19" gradientUnits="userSpaceOnUse" x1="97.5" y1="0" x2="602.5" y2="0">
<stop offset="0.000" stop-color="#5a167e"/>
<stop offset="0.010" stop-color="#59157e"/>
<stop offset="0.020" stop-color="#311165"/>
<stop offset="0.030" stop-color="#050416"/>
<stop offset="0.040" stop-color="#06051a"/>
<stop offset="0.050" stop-color="#52137c"/>
<stop offset="0.059" stop-color="#701f81"/>
<stop offset="0.069" stop-color="#701f81"/>
<stop offset="0.079" stop-color="#6b1d81"/>
<stop offset="0.089" stop-color="#7c2382"/>
<stop offset="0.099" stop-color="#9e2f7f"/>
<stop offset="0.109" stop-color="#912b81"/>
<stop offset="0.119" stop-color="#000004"/>
<stop offset="0.129" stop-color="#000004"/>
<stop offset="0.139" stop-color="#000004"/>
<stop offset="0.149" stop-color="#0e0b2b"/>
<stop offset="0.158" stop-color="#241253"/>
<stop offset="0.168" stop-color="#36106b"/>
<stop offset="0.178" stop-color="#491078"/>
<stop offset="0.188" stop-color="#52137c"/>
<stop offset="0.198" stop-color="#56147d"/>
<stop offset="0.208" stop-color="#2d1161"/>
<stop offset="0.218" stop-color="#5d177f"/>
<stop offset="0.228" stop-color="#782281"/>
<stop offset="0.238" stop-color="#7e2482"/>
<stop offset="0.248" stop-color="#6a1c81"/>
<stop offset="0.257" stop-color="#400f74"/>
<stop offset="0.267" stop-color="#000004"/>
<stop offset="0.277" stop-color="#000004"/>
<stop offset="0.287" stop-color="#06051a"/>
<stop offset="0.297" stop-color="#390f6e"/>
<stop offset="0.307" stop-color="#782281"/>
<stop offset="0.317" stop-color="#8e2a81"/>
<stop offset="0.327" stop-color="#752181"/>
<stop offset="0.337" stop-color="#5d177f"/>
<stop offset="0.347" stop-color="#802582"/>
<stop offset="0.356" stop-color="#782281"/>
<stop offset="0.366" stop-color="#440f76"/>
<stop offset="0.376" stop-color="#2c115f"/>
<stop offset="0.386" stop-color="#491078"/>
<stop offset="0.396" stop-color="#4c117a"/>
<stop offset="0.406" stop-color="#621980"/>
<stop offset="0.416" stop-color="#802582"/>
<stop offset="0.426" stop-color="#681c81"/>
<stop offset="0.436" stop-color="#932b80"/>
<stop offset="0.446" stop-color="#9e2f7f"/>
<stop offset="0.455" stop-color="#a3307e"/>
<stop offset="0.465" stop-color="#832681"/>
<stop offset="0.475" stop-color="#782281"/>
<stop offset="0.485" stop-color="#812581"/>
<stop offset="0.495" stop-color="#892881"/>
<stop offset="0.505" stop-color="#812581"/>
<stop offset="0.515" stop-color="#7c2382"/>
<stop offset="0.525" stop-color="#9e2f7f"/>
<stop offset="0.535" stop-color="#8e2a81"/>
<stop offset="0.545" stop-color="#932b80"/>
<stop offset="0.554" stop-color="#9c2e7f"/>
<stop offset="0.564" stop-color="#a6317d"/>
<stop offset="0.574" stop-color="#942c80"/>
<stop offset="0.584" stop-color="#752181"/>
<stop offset="0.594" stop-color="#701f81"/>
<stop offset="0.604" stop-color="#5f187f"/>
<stop offset="0.614" stop-color="#4f127b"/>
<stop offset="0.624" stop-color="#0a0822"/>
<stop offset="0.634" stop-color="#762181"/>
<stop offset="0.644" stop-color="#671b80"/>
<stop offset="0.653" stop-color="#721f81"/>
<stop offset="0.663" stop-color="#9c2e7f"/>
<stop offset="0.673" stop-color="#902a81"/>
<stop offset="0.683" stop-color="#621980"/>
<stop offset="0.693" stop-color="#57157e"/>
<stop offset="0.703" stop-color="#57157e"/>
<stop offset="0.713" stop-color="#36106b"/>
<stop offset="0.723" stop-color="#06051a"/>
<stop offset="0.733" stop-color="#471078"/>
<stop offset="0.743" stop-color="#621980"/>
<stop offset="0.752" stop-color="#400f74"/>
<stop offset="0.762" stop-color="#130d34"/>
<stop offset="0.772" stop-color="#3b0f70"/>
<stop offset="0.782" stop-color="#792282"/>
<stop offset="0.792" stop-color="#842681"/>
<stop offset="0.802" stop-color="#7b2382"/>
<stop offset="0.812" stop-color="#782281"/>
<stop offset="0.822" stop-color="#752181"/>
<stop offset="0.832" stop-color="#892881"/>
<stop offset="0.842" stop-color="#390f6e"/>
<stop offset="0.851" stop-color="#271258"/>
<stop offset="0.861" stop-color="#681c81"/>
<stop offset="0.871" stop-color="#6a1c81"/>
<stop offset="0.881" stop-color="#721f81"/>
<stop offset="0.891" stop-color="#782281"/>
<stop offset="0.901" stop-color="#ab337c"/>
<stop offset="0.911" stop-color="#7b2382"/>
<stop offset="0.921" stop-color="#732081"/>
<stop offset="0.931" stop-color="#701f81"/>
<stop offset="0.941" stop-color="#6b1d81"/>
<stop offset="0.950" stop-color="#8c2981"/>
<stop offset="0.960" stop-color="#2d1161"/>
<stop offset="0.970" stop-color="#621980"/>
<stop offset="0.980" stop-color="#882781"/>
<stop offset="0.990" stop-color="#721f81"/>
<stop offset="1.000" stop-color="#150e38"/>
</linearGradient>
<linearGradient id="ra20" gradientUnits="userSpaceOnUse" x1="97.5" y1="0" x2="602.5" y2="0">
<stop offset="0.000" stop-color="#601880"/>
<stop offset="0.010" stop-color="#6e1e81"/>
<stop offset="0.020" stop-color="#56147d"/>
<stop offset="0.030" stop-color="#110c2f"/>
<stop offset="0.040" stop-color="#0a0822"/>
<stop offset="0.050" stop-color="#5d177f"/>
<stop offset="0.059" stop-color="#762181"/>
<stop offset="0.069" stop-color="#762181"/>
<stop offset="0.079" stop-color="#721f81"/>
<stop offset="0.089" stop-color="#9e2f7f"/>
<stop offset="0.099" stop-color="#a6317d"/>
<stop offset="0.109" stop-color="#962c80"/>
<stop offset="0.119" stop-color="#0e0b2b"/>
<stop offset="0.129" stop-color="#000004"/>
<stop offset="0.139" stop-color="#000004"/>
<stop offset="0.149" stop-color="#000004"/>
<stop offset="0.158" stop-color="#20114b"/>
<stop offset="0.168" stop-color="#331067"/>
<stop offset="0.178" stop-color="#491078"/>
<stop offset="0.188" stop-color="#56147d"/>
<stop offset="0.198" stop-color="#36106b"/>
<stop offset="0.208" stop-color="#140e36"/>
<stop offset="0.218" stop-color="#4a1079"/>
<stop offset="0.228" stop-color="#6d1d81"/>
<stop offset="0.238" stop-color="#7c2382"/>
<stop offset="0.248" stop-color="#6d1d81"/>
<stop offset="0.257" stop-color="#2f1163"/>
<stop offset="0.267" stop-color="#060518"/>
<stop offset="0.277" stop-color="#000004"/>
<stop offset="0.287" stop-color="#160f3b"/>
<stop offset="0.297" stop-color="#52137c"/>
<stop offset="0.307" stop-color="#842681"/>
<stop offset="0.317" stop-color="#982d80"/>
<stop offset="0.327" stop-color="#812581"/>
<stop offset="0.337" stop-color="#651a80"/>
<stop offset="0.347" stop-color="#6d1d81"/>
<stop offset="0.356" stop-color="#671b80"/>
<stop offset="0.366" stop-color="#331067"/>
<stop offset="0.376" stop-color="#1d1147"/>
<stop offset="0.386" stop-color="#491078"/>
<stop offset="0.396" stop-color="#59157e"/>
<stop offset="0.406" stop-color="#812581"/>
<stop offset="0.416" stop-color="#9b2e7f"/>
<stop offset="0.426" stop-color="#681c81"/>
<stop offset="0.436" stop-color="#812581"/>
<stop offset="0.446" stop-color="#9b2e7f"/>
<stop offset="0.455" stop-color="#862781"/>
<stop offset="0.465" stop-color="#671b80"/>
<stop offset="0.475" stop-color="#732081"/>
<stop offset="0.485" stop-color="#721f81"/>
<stop offset="0.495" stop-color="#842681"/>
<stop offset="0.505" stop-color="#6a1c81"/>
<stop offset="0.515" stop-color="#7c2382"/>
<stop offset="0.525" stop-color="#c43c75"/>
<stop offset="0.535" stop-color="#832681"/>
<stop offset="0.545" stop-color="#932b80"/>
<stop offset="0.554" stop-color="#9e2f7f"/>
<stop offset="0.564" stop-color="#a8327d"/>
<stop offset="0.574" stop-color="#ab337c"/>
<stop offset="0.584" stop-color="#8c2981"/>
<stop offset="0.594" stop-color="#762181"/>
<stop offset="0.604" stop-color="#5d177f"/>
<stop offset="0.614" stop-color="#721f81"/>
<stop offset="0.624" stop-color="#2f1163"/>
<stop offset="0.634" stop-color="#ab337c"/>
<stop offset="0.644" stop-color="#752181"/>
<stop offset="0.653" stop-color="#6a1c81"/>
<stop offset="0.663" stop-color="#892881"/>
<stop offset="0.673" stop-color="#932b80"/>
<stop offset="0.683" stop-color="#651a80"/>
<stop offset="0.693" stop-color="#56147d"/>
<stop offset="0.703" stop-color="#57157e"/>
<stop offset="0.713" stop-color="#5f187f"/>
<stop offset="0.723" stop-color="#2c115f"/>
<stop offset="0.733" stop-color="#721f81"/>
<stop offset="0.743" stop-color="#8e2a81"/>
<stop offset="0.752" stop-color="#5c167f"/>
<stop offset="0.762" stop-color="#29115a"/>
<stop offset="0.772" stop-color="#57157e"/>
<stop offset="0.782" stop-color="#a3307e"/>
<stop offset="0.792" stop-color="#b73779"/>
<stop offset="0.802" stop-color="#a5317e"/>
<stop offset="0.812" stop-color="#812581"/>
<stop offset="0.822" stop-color="#802582"/>
<stop offset="0.832" stop-color="#902a81"/>
<stop offset="0.842" stop-color="#671b80"/>
<stop offset="0.851" stop-color="#701f81"/>
<stop offset="0.861" stop-color="#912b81"/>
<stop offset="0.871" stop-color="#721f81"/>
<stop offset="0.881" stop-color="#782281"/>
<stop offset="0.891" stop-color="#962c80"/>
<stop offset="0.901" stop-color="#bd3977"/>
<stop offset="0.911" stop-color="#992d80"/>
<stop offset="0.921" stop-color="#792282"/>
<stop offset="0.931" stop-color="#752181"/>
<stop offset="0.941" stop-color="#8c2981"/>
<stop offset="0.950" stop-color="#992d80"/>
<stop offset="0.960" stop-color="#3b0f70"/>
<stop offset="0.970" stop-color="#4f127b"/>
<stop offset="0.980" stop-color="#6a1c81"/>
<stop offset="0.990" stop-color="#52137c"/>
<stop offset="1.000" stop-color="#120d31"/>
</linearGradient>
<linearGradient id="ra21" gradientUnits="userSpaceOnUse" x1="97.5" y1="0" x2="602.5" y2="0">
<stop offset="0.000" stop-color="#7e2482"/>
<stop offset="0.010" stop-color="#8b2981"/>
<stop offset="0.020" stop-color="#862781"/>
<stop offset="0.030" stop-color="#271258"/>
<stop offset="0.040" stop-color="#160f3b"/>
<stop offset="0.050" stop-color="#451077"/>
<stop offset="0.059" stop-color="#6e1e81"/>
<stop offset="0.069" stop-color="#792282"/>
<stop offset="0.079" stop-color="#982d80"/>
<stop offset="0.089" stop-color="#a6317d"/>
<stop offset="0.099" stop-color="#b83779"/>
<stop offset="0.109" stop-color="#932b80"/>
<stop offset="0.119" stop-color="#4c117a"/>
<stop offset="0.129" stop-color="#000004"/>
<stop offset="0.139" stop-color="#110c2f"/>
<stop offset="0.149" stop-color="#060518"/>
<stop offset="0.158" stop-color="#341069"/>
<stop offset="0.168" stop-color="#4a1079"/>
<stop offset="0.178" stop-color="#59157e"/>
<stop offset="0.188" stop-color="#641a80"/>
<stop offset="0.198" stop-color="#471078"/>
<stop offset="0.208" stop-color="#221150"/>
<stop offset="0.218" stop-color="#5d177f"/>
<stop offset="0.228" stop-color="#671b80"/>
<stop offset="0.238" stop-color="#6b1d81"/>
<stop offset="0.248" stop-color="#732081"/>
<stop offset="0.257" stop-color="#3d0f71"/>
<stop offset="0.267" stop-color="#38106c"/>
<stop offset="0.277" stop-color="#1a1042"/>
<stop offset="0.287" stop-color="#4f127b"/>
<stop offset="0.297" stop-color="#982d80"/>
<stop offset="0.307" stop-color="#a1307e"/>
<stop offset="0.317" stop-color="#b0357b"/>
<stop offset="0.327" stop-color="#832681"/>
<stop offset="0.337" stop-color="#7c2382"/>
<stop offset="0.347" stop-color="#782281"/>
<stop offset="0.356" stop-color="#5f187f"/>
<stop offset="0.366" stop-color="#2c115f"/>
<stop offset="0.376" stop-color="#180f3d"/>
<stop offset="0.386" stop-color="#440f76"/>
<stop offset="0.396" stop-color="#832681"/>
<stop offset="0.406" stop-color="#b2357b"/>
<stop offset="0.416" stop-color="#b83779"/>
<stop offset="0.426" stop-color="#a5317e"/>
<stop offset="0.436" stop-color="#812581"/>
<stop offset="0.446" stop-color="#a3307e"/>
<stop offset="0.455" stop-color="#782281"/>
<stop offset="0.465" stop-color="#671b80"/>
<stop offset="0.475" stop-color="#762181"/>
<stop offset="0.485" stop-color="#621980"/>
<stop offset="0.495" stop-color="#752181"/>
<stop offset="0.505" stop-color="#54137d"/>
<stop offset="0.515" stop-color="#832681"/>
<stop offset="0.525" stop-color="#ca3e72"/>
<stop offset="0.535" stop-color="#892881"/>
<stop offset="0.545" stop-color="#9e2f7f"/>
<stop offset="0.554" stop-color="#ae347b"/>
<stop offset="0.564" stop-color="#b5367a"/>
<stop offset="0.574" stop-color="#c03a76"/>
<stop offset="0.584" stop-color="#ab337c"/>
<stop offset="0.594" stop-color="#812581"/>
<stop offset="0.604" stop-color="#651a80"/>
<stop offset="0.614" stop-color="#8e2a81"/>
<stop offset="0.624" stop-color="#862781"/>
<stop offset="0.634" stop-color="#bd3977"/>
<stop offset="0.644" stop-color="#9e2f7f"/>
<stop offset="0.653" stop-color="#902a81"/>
<stop offset="0.663" stop-color="#882781"/>
<stop offset="0.673" stop-color="#9c2e7f"/>
<stop offset="0.683" stop-color="#6d1d81"/>
<stop offset="0.693" stop-color="#6a1c81"/>
<stop offset="0.703" stop-color="#6a1c81"/>
<stop offset="0.713" stop-color="#721f81"/>
<stop offset="0.723" stop-color="#802582"/>
<stop offset="0.733" stop-color="#b73779"/>
<stop offset="0.743" stop-color="#b83779"/>
<stop offset="0.752" stop-color="#882781"/>
<stop offset="0.762" stop-color="#471078"/>
<stop offset="0.772" stop-color="#942c80"/>
<stop offset="0.782" stop-color="#c53c74"/>
<stop offset="0.792" stop-color="#c73d73"/>
<stop offset="0.802" stop-color="#ca3e72"/>
<stop offset="0.812" stop-color="#ae347b"/>
<stop offset="0.822" stop-color="#8e2a81"/>
<stop offset="0.832" stop-color="#8b2981"/>
<stop offset="0.842" stop-color="#a8327d"/>
<stop offset="0.851" stop-color="#aa337d"/>
<stop offset="0.861" stop-color="#ba3878"/>
<stop offset="0.871" stop-color="#882781"/>
<stop offset="0.881" stop-color="#842681"/>
<stop offset="0.891" stop-color="#c73d73"/>
<stop offset="0.901" stop-color="#c83e73"/>
<stop offset="0.911" stop-color="#b73779"/>
<stop offset="0.921" stop-color="#8b2981"/>
<stop offset="0.931" stop-color="#8b2981"/>
<stop offset="0.941" stop-color="#a5317e"/>
<stop offset="0.950" stop-color="#c23b75"/>
<stop offset="0.960" stop-color="#6e1e81"/>
<stop offset="0.970" stop-color="#7e2482"/>
<stop offset="0.980" stop-color="#792282"/>
<stop offset="0.990" stop-color="#621980"/>
<stop offset="1.000" stop-color="#38106c"/>
</linearGradient>
<linearGradient id="ra22" gradientUnits="userSpaceOnUse" x1="97.5" y1="0" x2="602.5" y2="0">
<stop offset="0.000" stop-color="#9b2e7f"/>
<stop offset="0.010" stop-color="#9b2e7f"/>
<stop offset="0.020" stop-color="#a02f7f"/>
<stop offset="0.030" stop-color="#4f127b"/>
<stop offset="0.040" stop-color="#271258"/>
<stop offset="0.050" stop-color="#36106b"/>
<stop offset="0.059" stop-color="#4a1079"/>
<stop offset="0.069" stop-color="#4e117b"/>
<stop offset="0.079" stop-color="#a3307e"/>
<stop offset="0.089" stop-color="#892881"/>
<stop offset="0.099" stop-color="#832681"/>
<stop offset="0.109" stop-color="#51127c"/>
<stop offset="0.119" stop-color="#681c81"/>
<stop offset="0.129" stop-color="#341069"/>
<stop offset="0.139" stop-color="#331067"/>
<stop offset="0.149" stop-color="#0c0926"/>
<stop offset="0.158" stop-color="#5c167f"/>
<stop offset="0.168" stop-color="#792282"/>
<stop offset="0.178" stop-color="#681c81"/>
<stop offset="0.188" stop-color="#721f81"/>
<stop offset="0.198" stop-color="#792282"/>
<stop offset="0.208" stop-color="#59157e"/>
<stop offset="0.218" stop-color="#8b2981"/>
<stop offset="0.228" stop-color="#651a80"/>
<stop offset="0.238" stop-color="#57157e"/>
<stop offset="0.248" stop-color="#792282"/>
<stop offset="0.257" stop-color="#5f187f"/>
<stop offset="0.267" stop-color="#5f187f"/>
<stop offset="0.277" stop-color="#56147d"/>
<stop offset="0.287" stop-color="#882781"/>
<stop offset="0.297" stop-color="#c03a76"/>
<stop offset="0.307" stop-color="#c53c74"/>
<stop offset="0.317" stop-color="#bf3a77"/>
<stop offset="0.327" stop-color="#8c2981"/>
<stop offset="0.337" stop-color="#aa337d"/>
<stop offset="0.347" stop-color="#932b80"/>
<stop offset="0.356" stop-color="#882781"/>
<stop offset="0.366" stop-color="#59157e"/>
<stop offset="0.376" stop-color="#420f75"/>
<stop offset="0.386" stop-color="#732081"/>
<stop offset="0.396" stop-color="#aa337d"/>
<stop offset="0.406" stop-color="#cd4071"/>
<stop offset="0.416" stop-color="#d5446d"/>
<stop offset="0.426" stop-color="#d2426f"/>
<stop offset="0.436" stop-color="#902a81"/>
<stop offset="0.446" stop-color="#b0357b"/>
<stop offset="0.455" stop-color="#6b1d81"/>
<stop offset="0.465" stop-color="#6a1c81"/>
<stop offset="0.475" stop-color="#792282"/>
<stop offset="0.485" stop-color="#601880"/>
<stop offset="0.495" stop-color="#942c80"/>
<stop offset="0.505" stop-color="#842681"/>
<stop offset="0.515" stop-color="#7c2382"/>
<stop offset="0.525" stop-color="#c73d73"/>
<stop offset="0.535" stop-color="#6e1e81"/>
<stop offset="0.545" stop-color="#a6317d"/>
<stop offset="0.554" stop-color="#cc3f71"/>
<stop offset="0.564" stop-color="#ca3e72"/>
<stop offset="0.574" stop-color="#cd4071"/>
<stop offset="0.584" stop-color="#cc3f71"/>
<stop offset="0.594" stop-color="#9b2e7f"/>
<stop offset="0.604" stop-color="#9b2e7f"/>
<stop offset="0.614" stop-color="#a02f7f"/>
<stop offset="0.624" stop-color="#ab337c"/>
<stop offset="0.634" stop-color="#d0416f"/>
<stop offset="0.644" stop-color="#ad347c"/>
<stop offset="0.653" stop-color="#992d80"/>
<stop offset="0.663" stop-color="#862781"/>
<stop offset="0.673" stop-color="#9b2e7f"/>
<stop offset="0.683" stop-color="#802582"/>
<stop offset="0.693" stop-color="#7c2382"/>
<stop offset="0.703" stop-color="#7e2482"/>
<stop offset="0.713" stop-color="#832681"/>
<stop offset="0.723" stop-color="#9b2e7f"/>
<stop offset="0.733" stop-color="#cc3f71"/>
<stop offset="0.743" stop-color="#b83779"/>
<stop offset="0.752" stop-color="#9e2f7f"/>
<stop offset="0.762" stop-color="#5a167e"/>
<stop offset="0.772" stop-color="#c03a76"/>
<stop offset="0.782" stop-color="#d6456c"/>
<stop offset="0.792" stop-color="#d8456c"/>
<stop offset="0.802" stop-color="#d9466b"/>
<stop offset="0.812" stop-color="#c23b75"/>
<stop offset="0.822" stop-color="#9b2e7f"/>
<stop offset="0.832" stop-color="#982d80"/>
<stop offset="0.842" stop-color="#992d80"/>
<stop offset="0.851" stop-color="#b5367a"/>
<stop offset="0.861" stop-color="#c03a76"/>
<stop offset="0.871" stop-color="#9b2e7f"/>
<stop offset="0.881" stop-color="#992d80"/>
<stop offset="0.891" stop-color="#d2426f"/>
<stop offset="0.901" stop-color="#d3436e"/>
<stop offset="0.911" stop-color="#ad347c"/>
<stop offset="0.921" stop-color="#9c2e7f"/>
<stop offset="0.931" stop-color="#a02f7f"/>
<stop offset="0.941" stop-color="#9e2f7f"/>
<stop offset="0.950" stop-color="#c03a76"/>
<stop offset="0.960" stop-color="#802582"/>
<stop offset="0.970" stop-color="#902a81"/>
<stop offset="0.980" stop-color="#8c2981"/>
<stop offset="0.990" stop-color="#912b81"/>
<stop offset="1.000" stop-color="#601880"/>
</linearGradient>
<linearGradient id="ra23" gradientUnits="userSpaceOnUse" x1="97.5" y1="0" x2="602.5" y2="0">
<stop offset="0.000" stop-color="#b83779"/>
<stop offset="0.010" stop-color="#b83779"/>
<stop offset="0.020" stop-color="#b83779"/>
<stop offset="0.030" stop-color="#9c2e7f"/>
<stop offset="0.040" stop-color="#641a80"/>
<stop offset="0.050" stop-color="#2d1161"/>
<stop offset="0.059" stop-color="#20114b"/>
<stop offset="0.069" stop-color="#21114e"/>
<stop offset="0.079" stop-color="#9b2e7f"/>
<stop offset="0.089" stop-color="#882781"/>
<stop offset="0.099" stop-color="#681c81"/>
<stop offset="0.109" stop-color="#341069"/>
<stop offset="0.119" stop-color="#701f81"/>
<stop offset="0.129" stop-color="#671b80"/>
<stop offset="0.139" stop-color="#4c117a"/>
<stop offset="0.149" stop-color="#251255"/>
<stop offset="0.158" stop-color="#802582"/>
<stop offset="0.168" stop-color="#ae347b"/>
<stop offset="0.178" stop-color="#862781"/>
<stop offset="0.188" stop-color="#802582"/>
<stop offset="0.198" stop-color="#8b2981"/>
<stop offset="0.208" stop-color="#8b2981"/>
<stop offset="0.218" stop-color="#9e2f7f"/>
<stop offset="0.228" stop-color="#621980"/>
<stop offset="0.238" stop-color="#51127c"/>
<stop offset="0.248" stop-color="#842681"/>
<stop offset="0.257" stop-color="#802582"/>
<stop offset="0.267" stop-color="#802582"/>
<stop offset="0.277" stop-color="#8c2981"/>
<stop offset="0.287" stop-color="#d0416f"/>
<stop offset="0.297" stop-color="#db476a"/>
<stop offset="0.307" stop-color="#ca3e72"/>
<stop offset="0.317" stop-color="#c73d73"/>
<stop offset="0.327" stop-color="#ab337c"/>
<stop offset="0.337" stop-color="#c23b75"/>
<stop offset="0.347" stop-color="#c03a76"/>
<stop offset="0.356" stop-color="#9c2e7f"/>
<stop offset="0.366" stop-color="#882781"/>
<stop offset="0.376" stop-color="#721f81"/>
<stop offset="0.386" stop-color="#942c80"/>
<stop offset="0.396" stop-color="#962c80"/>
<stop offset="0.406" stop-color="#cf4070"/>
<stop offset="0.416" stop-color="#d8456c"/>
<stop offset="0.426" stop-color="#d2426f"/>
<stop offset="0.436" stop-color="#b83779"/>
<stop offset="0.446" stop-color="#c03a76"/>
<stop offset="0.455" stop-color="#721f81"/>
<stop offset="0.465" stop-color="#6e1e81"/>
<stop offset="0.475" stop-color="#7e2482"/>
<stop offset="0.485" stop-color="#7e2482"/>
<stop offset="0.495" stop-color="#b73779"/>
<stop offset="0.505" stop-color="#b5367a"/>
<stop offset="0.515" stop-color="#982d80"/>
<stop offset="0.525" stop-color="#a6317d"/>
<stop offset="0.535" stop-color="#7e2482"/>
<stop offset="0.545" stop-color="#b0357b"/>
<stop offset="0.554" stop-color="#e34e65"/>
<stop offset="0.564" stop-color="#e55064"/>
<stop offset="0.574" stop-color="#d9466b"/>
<stop offset="0.584" stop-color="#cf4070"/>
<stop offset="0.594" stop-color="#b3367a"/>
<stop offset="0.604" stop-color="#bf3a77"/>
<stop offset="0.614" stop-color="#b3367a"/>
<stop offset="0.624" stop-color="#b0357b"/>
<stop offset="0.634" stop-color="#ca3e72"/>
<stop offset="0.644" stop-color="#a02f7f"/>
<stop offset="0.653" stop-color="#a6317d"/>
<stop offset="0.663" stop-color="#8c2981"/>
<stop offset="0.673" stop-color="#9b2e7f"/>
<stop offset="0.683" stop-color="#7e2482"/>
<stop offset="0.693" stop-color="#812581"/>
<stop offset="0.703" stop-color="#932b80"/>
<stop offset="0.713" stop-color="#982d80"/>
<stop offset="0.723" stop-color="#9b2e7f"/>
<stop offset="0.733" stop-color="#ca3e72"/>
<stop offset="0.743" stop-color="#b3367a"/>
<stop offset="0.752" stop-color="#b3367a"/>
<stop offset="0.762" stop-color="#892881"/>
<stop offset="0.772" stop-color="#ae347b"/>
<stop offset="0.782" stop-color="#d3436e"/>
<stop offset="0.792" stop-color="#d3436e"/>
<stop offset="0.802" stop-color="#d3436e"/>
<stop offset="0.812" stop-color="#b0357b"/>
<stop offset="0.822" stop-color="#ad347c"/>
<stop offset="0.832" stop-color="#aa337d"/>
<stop offset="0.842" stop-color="#a6317d"/>
<stop offset="0.851" stop-color="#ad347c"/>
<stop offset="0.861" stop-color="#dc4869"/>
<stop offset="0.871" stop-color="#c43c75"/>
<stop offset="0.881" stop-color="#c23b75"/>
<stop offset="0.891" stop-color="#de4968"/>
<stop offset="0.901" stop-color="#ca3e72"/>
<stop offset="0.911" stop-color="#a5317e"/>
<stop offset="0.921" stop-color="#b0357b"/>
<stop offset="0.931" stop-color="#b73779"/>
<stop offset="0.941" stop-color="#b73779"/>
<stop offset="0.950" stop-color="#b3367a"/>
<stop offset="0.960" stop-color="#a8327d"/>
<stop offset="0.970" stop-color="#a5317e"/>
<stop offset="0.980" stop-color="#bd3977"/>
<stop offset="0.990" stop-color="#c43c75"/>
<stop offset="1.000" stop-color="#9e2f7f"/>
</linearGradient>
<linearGradient id="ra24" gradientUnits="userSpaceOnUse" x1="97.5" y1="0" x2="602.5" y2="0">
<stop offset="0.000" stop-color="#cd4071"/>
<stop offset="0.010" stop-color="#cd4071"/>
<stop offset="0.020" stop-color="#cd4071"/>
<stop offset="0.030" stop-color="#cc3f71"/>
<stop offset="0.040" stop-color="#982d80"/>
<stop offset="0.050" stop-color="#a5317e"/>
<stop offset="0.059" stop-color="#812581"/>
<stop offset="0.069" stop-color="#842681"/>
<stop offset="0.079" stop-color="#b5367a"/>
<stop offset="0.089" stop-color="#aa337d"/>
<stop offset="0.099" stop-color="#892881"/>
<stop offset="0.109" stop-color="#6b1d81"/>
<stop offset="0.119" stop-color="#681c81"/>
<stop offset="0.129" stop-color="#932b80"/>
<stop offset="0.139" stop-color="#701f81"/>
<stop offset="0.149" stop-color="#4c117a"/>
<stop offset="0.158" stop-color="#a3307e"/>
<stop offset="0.168" stop-color="#c53c74"/>
<stop offset="0.178" stop-color="#9c2e7f"/>
<stop offset="0.188" stop-color="#942c80"/>
<stop offset="0.198" stop-color="#ad347c"/>
<stop offset="0.208" stop-color="#a8327d"/>
<stop offset="0.218" stop-color="#b0357b"/>
<stop offset="0.228" stop-color="#942c80"/>
<stop offset="0.238" stop-color="#832681"/>
<stop offset="0.248" stop-color="#962c80"/>
<stop offset="0.257" stop-color="#8b2981"/>
<stop offset="0.267" stop-color="#8b2981"/>
<stop offset="0.277" stop-color="#982d80"/>
<stop offset="0.287" stop-color="#b2357b"/>
<stop offset="0.297" stop-color="#d8456c"/>
<stop offset="0.307" stop-color="#de4968"/>
<stop offset="0.317" stop-color="#bf3a77"/>
<stop offset="0.327" stop-color="#cd4071"/>
<stop offset="0.337" stop-color="#de4968"/>
<stop offset="0.347" stop-color="#d5446d"/>
<stop offset="0.356" stop-color="#b73779"/>
<stop offset="0.366" stop-color="#a6317d"/>
<stop offset="0.376" stop-color="#9b2e7f"/>
<stop offset="0.386" stop-color="#a1307e"/>
<stop offset="0.396" stop-color="#862781"/>
<stop offset="0.406" stop-color="#cf4070"/>
<stop offset="0.416" stop-color="#e04c67"/>
<stop offset="0.426" stop-color="#d8456c"/>
<stop offset="0.436" stop-color="#cc3f71"/>
<stop offset="0.446" stop-color="#d6456c"/>
<stop offset="0.455" stop-color="#a5317e"/>
<stop offset="0.465" stop-color="#882781"/>
<stop offset="0.475" stop-color="#942c80"/>
<stop offset="0.485" stop-color="#9c2e7f"/>
<stop offset="0.495" stop-color="#c23b75"/>
<stop offset="0.505" stop-color="#c83e73"/>
<stop offset="0.515" stop-color="#b0357b"/>
<stop offset="0.525" stop-color="#9c2e7f"/>
<stop offset="0.535" stop-color="#762181"/>
<stop offset="0.545" stop-color="#b2357b"/>
<stop offset="0.554" stop-color="#e95462"/>
<stop offset="0.564" stop-color="#f1605d"/>
<stop offset="0.574" stop-color="#ec5860"/>
<stop offset="0.584" stop-color="#d6456c"/>
<stop offset="0.594" stop-color="#c53c74"/>
<stop offset="0.604" stop-color="#d8456c"/>
<stop offset="0.614" stop-color="#d0416f"/>
<stop offset="0.624" stop-color="#a6317d"/>
<stop offset="0.634" stop-color="#cd4071"/>
<stop offset="0.644" stop-color="#bd3977"/>
<stop offset="0.653" stop-color="#c53c74"/>
<stop offset="0.663" stop-color="#b5367a"/>
<stop offset="0.673" stop-color="#ad347c"/>
<stop offset="0.683" stop-color="#9c2e7f"/>
<stop offset="0.693" stop-color="#9b2e7f"/>
<stop offset="0.703" stop-color="#b5367a"/>
<stop offset="0.713" stop-color="#ba3878"/>
<stop offset="0.723" stop-color="#bd3977"/>
<stop offset="0.733" stop-color="#cc3f71"/>
<stop offset="0.743" stop-color="#cf4070"/>
<stop offset="0.752" stop-color="#d8456c"/>
<stop offset="0.762" stop-color="#ae347b"/>
<stop offset="0.772" stop-color="#b2357b"/>
<stop offset="0.782" stop-color="#ef5d5e"/>
<stop offset="0.792" stop-color="#f05f5e"/>
<stop offset="0.802" stop-color="#e04c67"/>
<stop offset="0.812" stop-color="#d3436e"/>
<stop offset="0.822" stop-color="#d2426f"/>
<stop offset="0.832" stop-color="#cf4070"/>
<stop offset="0.842" stop-color="#cc3f71"/>
<stop offset="0.851" stop-color="#cc3f71"/>
<stop offset="0.861" stop-color="#e85362"/>
<stop offset="0.871" stop-color="#e75263"/>
<stop offset="0.881" stop-color="#de4968"/>
<stop offset="0.891" stop-color="#e75263"/>
<stop offset="0.901" stop-color="#c73d73"/>
<stop offset="0.911" stop-color="#b5367a"/>
<stop offset="0.921" stop-color="#d0416f"/>
<stop offset="0.931" stop-color="#d6456c"/>
<stop offset="0.941" stop-color="#d0416f"/>
<stop offset="0.950" stop-color="#d3436e"/>
<stop offset="0.960" stop-color="#cf4070"/>
<stop offset="0.970" stop-color="#d0416f"/>
<stop offset="0.980" stop-color="#e75263"/>
<stop offset="0.990" stop-color="#ea5661"/>
<stop offset="1.000" stop-color="#e85362"/>
</linearGradient>
<linearGradient id="ra25" gradientUnits="userSpaceOnUse" x1="97.5" y1="0" x2="602.5" y2="0">
<stop offset="0.000" stop-color="#ee5b5e"/>
<stop offset="0.010" stop-color="#e44f64"/>
<stop offset="0.020" stop-color="#e04c67"/>
<stop offset="0.030" stop-color="#e34e65"/>
<stop offset="0.040" stop-color="#de4968"/>
<stop offset="0.050" stop-color="#eb5760"/>
<stop offset="0.059" stop-color="#d3436e"/>
<stop offset="0.069" stop-color="#d2426f"/>
<stop offset="0.079" stop-color="#d8456c"/>
<stop offset="0.089" stop-color="#cc3f71"/>
<stop offset="0.099" stop-color="#a8327d"/>
<stop offset="0.109" stop-color="#7b2382"/>
<stop offset="0.119" stop-color="#892881"/>
<stop offset="0.129" stop-color="#9e2f7f"/>
<stop offset="0.139" stop-color="#9c2e7f"/>
<stop offset="0.149" stop-color="#651a80"/>
<stop offset="0.158" stop-color="#b2357b"/>
<stop offset="0.168" stop-color="#bd3977"/>
<stop offset="0.178" stop-color="#a3307e"/>
<stop offset="0.188" stop-color="#a8327d"/>
<stop offset="0.198" stop-color="#c73d73"/>
<stop offset="0.208" stop-color="#c73d73"/>
<stop offset="0.218" stop-color="#c03a76"/>
<stop offset="0.228" stop-color="#b3367a"/>
<stop offset="0.238" stop-color="#962c80"/>
<stop offset="0.248" stop-color="#a3307e"/>
<stop offset="0.257" stop-color="#962c80"/>
<stop offset="0.267" stop-color="#982d80"/>
<stop offset="0.277" stop-color="#9e2f7f"/>
<stop offset="0.287" stop-color="#a5317e"/>
<stop offset="0.297" stop-color="#e85362"/>
<stop offset="0.307" stop-color="#dc4869"/>
<stop offset="0.317" stop-color="#d2426f"/>
<stop offset="0.327" stop-color="#e55064"/>
<stop offset="0.337" stop-color="#ed5a5f"/>
<stop offset="0.347" stop-color="#ea5661"/>
<stop offset="0.356" stop-color="#c73d73"/>
<stop offset="0.366" stop-color="#b73779"/>
<stop offset="0.376" stop-color="#ae347b"/>
<stop offset="0.386" stop-color="#ae347b"/>
<stop offset="0.396" stop-color="#992d80"/>
<stop offset="0.406" stop-color="#e24d66"/>
<stop offset="0.416" stop-color="#e85362"/>
<stop offset="0.426" stop-color="#e85362"/>
<stop offset="0.436" stop-color="#df4a68"/>
<stop offset="0.446" stop-color="#d5446d"/>
<stop offset="0.455" stop-color="#ca3e72"/>
<stop offset="0.465" stop-color="#a1307e"/>
<stop offset="0.475" stop-color="#aa337d"/>
<stop offset="0.485" stop-color="#ad347c"/>
<stop offset="0.495" stop-color="#cf4070"/>
<stop offset="0.505" stop-color="#c53c74"/>
<stop offset="0.515" stop-color="#ba3878"/>
<stop offset="0.525" stop-color="#ad347c"/>
<stop offset="0.535" stop-color="#842681"/>
<stop offset="0.545" stop-color="#ad347c"/>
<stop offset="0.554" stop-color="#e95462"/>
<stop offset="0.564" stop-color="#ec5860"/>
<stop offset="0.574" stop-color="#f4675c"/>
<stop offset="0.584" stop-color="#e85362"/>
<stop offset="0.594" stop-color="#cd4071"/>
<stop offset="0.604" stop-color="#e34e65"/>
<stop offset="0.614" stop-color="#e55064"/>
<stop offset="0.624" stop-color="#ad347c"/>
<stop offset="0.634" stop-color="#d6456c"/>
<stop offset="0.644" stop-color="#de4968"/>
<stop offset="0.653" stop-color="#e75263"/>
<stop offset="0.663" stop-color="#d2426f"/>
<stop offset="0.673" stop-color="#b5367a"/>
<stop offset="0.683" stop-color="#b0357b"/>
<stop offset="0.693" stop-color="#b0357b"/>
<stop offset="0.703" stop-color="#c83e73"/>
<stop offset="0.713" stop-color="#db476a"/>
<stop offset="0.723" stop-color="#df4a68"/>
<stop offset="0.733" stop-color="#e24d66"/>
<stop offset="0.743" stop-color="#e55064"/>
<stop offset="0.752" stop-color="#eb5760"/>
<stop offset="0.762" stop-color="#c83e73"/>
<stop offset="0.772" stop-color="#e04c67"/>
<stop offset="0.782" stop-color="#f66e5c"/>
<stop offset="0.792" stop-color="#f97b5d"/>
<stop offset="0.802" stop-color="#f05f5e"/>
<stop offset="0.812" stop-color="#f1605d"/>
<stop offset="0.822" stop-color="#f05f5e"/>
<stop offset="0.832" stop-color="#ea5661"/>
<stop offset="0.842" stop-color="#ec5860"/>
<stop offset="0.851" stop-color="#f3655c"/>
<stop offset="0.861" stop-color="#f9795d"/>
<stop offset="0.871" stop-color="#f9785d"/>
<stop offset="0.881" stop-color="#f8765c"/>
<stop offset="0.891" stop-color="#f8745c"/>
<stop offset="0.901" stop-color="#ae347b"/>
<stop offset="0.911" stop-color="#b73779"/>
<stop offset="0.921" stop-color="#e24d66"/>
<stop offset="0.931" stop-color="#df4a68"/>
<stop offset="0.941" stop-color="#db476a"/>
<stop offset="0.950" stop-color="#ee5b5e"/>
<stop offset="0.960" stop-color="#ed5a5f"/>
<stop offset="0.970" stop-color="#f4675c"/>
<stop offset="0.980" stop-color="#fa815f"/>
<stop offset="0.990" stop-color="#fa815f"/>
<stop offset="1.000" stop-color="#fa815f"/>
</linearGradient>
<linearGradient id="ra26" gradientUnits="userSpaceOnUse" x1="97.5" y1="0" x2="602.5" y2="0">
<stop offset="0.000" stop-color="#fb835f"/>
<stop offset="0.010" stop-color="#f8765c"/>
<stop offset="0.020" stop-color="#ed5a5f"/>
<stop offset="0.030" stop-color="#f1605d"/>
<stop offset="0.040" stop-color="#f7725c"/>
<stop offset="0.050" stop-color="#fb835f"/>
<stop offset="0.059" stop-color="#fc8e64"/>
<stop offset="0.069" stop-color="#fa7d5e"/>
<stop offset="0.079" stop-color="#f8765c"/>
<stop offset="0.089" stop-color="#ef5d5e"/>
<stop offset="0.099" stop-color="#f2645c"/>
<stop offset="0.109" stop-color="#982d80"/>
<stop offset="0.119" stop-color="#a6317d"/>
<stop offset="0.129" stop-color="#bf3a77"/>
<stop offset="0.139" stop-color="#ba3878"/>
<stop offset="0.149" stop-color="#a02f7f"/>
<stop offset="0.158" stop-color="#ba3878"/>
<stop offset="0.168" stop-color="#b83779"/>
<stop offset="0.178" stop-color="#b83779"/>
<stop offset="0.188" stop-color="#c03a76"/>
<stop offset="0.198" stop-color="#e34e65"/>
<stop offset="0.208" stop-color="#e34e65"/>
<stop offset="0.218" stop-color="#cf4070"/>
<stop offset="0.228" stop-color="#ba3878"/>
<stop offset="0.238" stop-color="#a6317d"/>
<stop offset="0.248" stop-color="#b0357b"/>
<stop offset="0.257" stop-color="#a1307e"/>
<stop offset="0.267" stop-color="#a3307e"/>
<stop offset="0.277" stop-color="#9e2f7f"/>
<stop offset="0.287" stop-color="#a6317d"/>
<stop offset="0.297" stop-color="#d9466b"/>
<stop offset="0.307" stop-color="#de4968"/>
<stop offset="0.317" stop-color="#de4968"/>
<stop offset="0.327" stop-color="#e85362"/>
<stop offset="0.337" stop-color="#f56b5c"/>
<stop offset="0.347" stop-color="#ea5661"/>
<stop offset="0.356" stop-color="#c43c75"/>
<stop offset="0.366" stop-color="#c53c74"/>
<stop offset="0.376" stop-color="#bc3978"/>
<stop offset="0.386" stop-color="#ba3878"/>
<stop offset="0.396" stop-color="#b3367a"/>
<stop offset="0.406" stop-color="#e95462"/>
<stop offset="0.416" stop-color="#ee5b5e"/>
<stop offset="0.426" stop-color="#e95462"/>
<stop offset="0.436" stop-color="#ea5661"/>
<stop offset="0.446" stop-color="#e44f64"/>
<stop offset="0.455" stop-color="#df4a68"/>
<stop offset="0.465" stop-color="#c23b75"/>
<stop offset="0.475" stop-color="#bf3a77"/>
<stop offset="0.485" stop-color="#c43c75"/>
<stop offset="0.495" stop-color="#d8456c"/>
<stop offset="0.505" stop-color="#c83e73"/>
<stop offset="0.515" stop-color="#c43c75"/>
<stop offset="0.525" stop-color="#bf3a77"/>
<stop offset="0.535" stop-color="#942c80"/>
<stop offset="0.545" stop-color="#bc3978"/>
<stop offset="0.554" stop-color="#e24d66"/>
<stop offset="0.564" stop-color="#eb5760"/>
<stop offset="0.574" stop-color="#fb835f"/>
<stop offset="0.584" stop-color="#f66e5c"/>
<stop offset="0.594" stop-color="#df4a68"/>
<stop offset="0.604" stop-color="#e75263"/>
<stop offset="0.614" stop-color="#df4a68"/>
<stop offset="0.624" stop-color="#cc3f71"/>
<stop offset="0.634" stop-color="#dc4869"/>
<stop offset="0.644" stop-color="#f4695c"/>
<stop offset="0.653" stop-color="#f97b5d"/>
<stop offset="0.663" stop-color="#e95462"/>
<stop offset="0.673" stop-color="#c53c74"/>
<stop offset="0.683" stop-color="#c03a76"/>
<stop offset="0.693" stop-color="#d0416f"/>
<stop offset="0.703" stop-color="#e55064"/>
<stop offset="0.713" stop-color="#f2625d"/>
<stop offset="0.723" stop-color="#f4675c"/>
<stop offset="0.733" stop-color="#f56b5c"/>
<stop offset="0.743" stop-color="#f7705c"/>
<stop offset="0.752" stop-color="#f7725c"/>
<stop offset="0.762" stop-color="#ee5b5e"/>
<stop offset="0.772" stop-color="#f9795d"/>
<stop offset="0.782" stop-color="#fb835f"/>
<stop offset="0.792" stop-color="#fc8e64"/>
<stop offset="0.802" stop-color="#fb8761"/>
<stop offset="0.812" stop-color="#fc8961"/>
<stop offset="0.822" stop-color="#fd9266"/>
<stop offset="0.832" stop-color="#f56b5c"/>
<stop offset="0.842" stop-color="#f8745c"/>
<stop offset="0.851" stop-color="#fc8a62"/>
<stop offset="0.861" stop-color="#fea16e"/>
<stop offset="0.871" stop-color="#fe9f6d"/>
<stop offset="0.881" stop-color="#fd9869"/>
<stop offset="0.891" stop-color="#fb835f"/>
<stop offset="0.901" stop-color="#c83e73"/>
<stop offset="0.911" stop-color="#cd4071"/>
<stop offset="0.921" stop-color="#eb5760"/>
<stop offset="0.931" stop-color="#e95462"/>
<stop offset="0.941" stop-color="#e55064"/>
<stop offset="0.950" stop-color="#f8745c"/>
<stop offset="0.960" stop-color="#fa7f5e"/>
<stop offset="0.970" stop-color="#fa7f5e"/>
<stop offset="0.980" stop-color="#fe9f6d"/>
<stop offset="0.990" stop-color="#fd9467"/>
<stop offset="1.000" stop-color="#feac76"/>
</linearGradient>
<linearGradient id="ra27" gradientUnits="userSpaceOnUse" x1="97.5" y1="0" x2="602.5" y2="0">
<stop offset="0.000" stop-color="#f8765c"/>
<stop offset="0.010" stop-color="#f1605d"/>
<stop offset="0.020" stop-color="#e55064"/>
<stop offset="0.030" stop-color="#ea5661"/>
<stop offset="0.040" stop-color="#f1605d"/>
<stop offset="0.050" stop-color="#f66e5c"/>
<stop offset="0.059" stop-color="#f97b5d"/>
<stop offset="0.069" stop-color="#f4695c"/>
<stop offset="0.079" stop-color="#fa7f5e"/>
<stop offset="0.089" stop-color="#f66e5c"/>
<stop offset="0.099" stop-color="#eb5760"/>
<stop offset="0.109" stop-color="#cd4071"/>
<stop offset="0.119" stop-color="#c43c75"/>
<stop offset="0.129" stop-color="#c73d73"/>
<stop offset="0.139" stop-color="#c83e73"/>
<stop offset="0.149" stop-color="#bf3a77"/>
<stop offset="0.158" stop-color="#c83e73"/>
<stop offset="0.168" stop-color="#c73d73"/>
<stop offset="0.178" stop-color="#c73d73"/>
<stop offset="0.188" stop-color="#d8456c"/>
<stop offset="0.198" stop-color="#ea5661"/>
<stop offset="0.208" stop-color="#eb5760"/>
<stop offset="0.218" stop-color="#c53c74"/>
<stop offset="0.228" stop-color="#a3307e"/>
<stop offset="0.238" stop-color="#8e2a81"/>
<stop offset="0.248" stop-color="#b3367a"/>
<stop offset="0.257" stop-color="#aa337d"/>
<stop offset="0.267" stop-color="#a02f7f"/>
<stop offset="0.277" stop-color="#912b81"/>
<stop offset="0.287" stop-color="#932b80"/>
<stop offset="0.297" stop-color="#b83779"/>
<stop offset="0.307" stop-color="#d0416f"/>
<stop offset="0.317" stop-color="#d0416f"/>
<stop offset="0.327" stop-color="#d0416f"/>
<stop offset="0.337" stop-color="#e55064"/>
<stop offset="0.347" stop-color="#d3436e"/>
<stop offset="0.356" stop-color="#ba3878"/>
<stop offset="0.366" stop-color="#b83779"/>
<stop offset="0.376" stop-color="#bd3977"/>
<stop offset="0.386" stop-color="#bd3977"/>
<stop offset="0.396" stop-color="#d3436e"/>
<stop offset="0.406" stop-color="#e75263"/>
<stop offset="0.416" stop-color="#e95462"/>
<stop offset="0.426" stop-color="#d5446d"/>
<stop offset="0.436" stop-color="#e44f64"/>
<stop offset="0.446" stop-color="#e75263"/>
<stop offset="0.455" stop-color="#e55064"/>
<stop offset="0.465" stop-color="#d0416f"/>
<stop offset="0.475" stop-color="#cf4070"/>
<stop offset="0.485" stop-color="#c43c75"/>
<stop offset="0.495" stop-color="#c53c74"/>
<stop offset="0.505" stop-color="#c23b75"/>
<stop offset="0.515" stop-color="#bf3a77"/>
<stop offset="0.525" stop-color="#bc3978"/>
<stop offset="0.535" stop-color="#a02f7f"/>
<stop offset="0.545" stop-color="#c23b75"/>
<stop offset="0.554" stop-color="#d9466b"/>
<stop offset="0.564" stop-color="#ee5b5e"/>
<stop offset="0.574" stop-color="#fd9869"/>
<stop offset="0.584" stop-color="#fb8560"/>
<stop offset="0.594" stop-color="#ec5860"/>
<stop offset="0.604" stop-color="#eb5760"/>
<stop offset="0.614" stop-color="#dc4869"/>
<stop offset="0.624" stop-color="#d8456c"/>
<stop offset="0.634" stop-color="#e85362"/>
<stop offset="0.644" stop-color="#fb835f"/>
<stop offset="0.653" stop-color="#fb835f"/>
<stop offset="0.663" stop-color="#ed5a5f"/>
<stop offset="0.673" stop-color="#d6456c"/>
<stop offset="0.683" stop-color="#d3436e"/>
<stop offset="0.693" stop-color="#e85362"/>
<stop offset="0.703" stop-color="#f66e5c"/>
<stop offset="0.713" stop-color="#f8745c"/>
<stop offset="0.723" stop-color="#f9785d"/>
<stop offset="0.733" stop-color="#f97b5d"/>
<stop offset="0.743" stop-color="#fa7f5e"/>
<stop offset="0.752" stop-color="#fb8560"/>
<stop offset="0.762" stop-color="#f9795d"/>
<stop offset="0.772" stop-color="#fc8e64"/>
<stop offset="0.782" stop-color="#fd9266"/>
<stop offset="0.792" stop-color="#fa7f5e"/>
<stop offset="0.802" stop-color="#fd9467"/>
<stop offset="0.812" stop-color="#fe9d6c"/>
<stop offset="0.822" stop-color="#feb27a"/>
<stop offset="0.832" stop-color="#f3655c"/>
<stop offset="0.842" stop-color="#f66c5c"/>
<stop offset="0.851" stop-color="#fb8761"/>
<stop offset="0.861" stop-color="#feac76"/>
<stop offset="0.871" stop-color="#fea571"/>
<stop offset="0.881" stop-color="#fd9668"/>
<stop offset="0.891" stop-color="#fea571"/>
<stop offset="0.901" stop-color="#e55064"/>
<stop offset="0.911" stop-color="#f8765c"/>
<stop offset="0.921" stop-color="#f97b5d"/>
<stop offset="0.931" stop-color="#f8745c"/>
<stop offset="0.941" stop-color="#f66e5c"/>
<stop offset="0.950" stop-color="#fc8a62"/>
<stop offset="0.960" stop-color="#fc8c63"/>
<stop offset="0.970" stop-color="#fc8c63"/>
<stop offset="0.980" stop-color="#fd9467"/>
<stop offset="0.990" stop-color="#fa7d5e"/>
<stop offset="1.000" stop-color="#fe9d6c"/>
</linearGradient>
<linearGradient id="ra28" gradientUnits="userSpaceOnUse" x1="97.5" y1="0" x2="602.5" y2="0">
<stop offset="0.000" stop-color="#eb5760"/>
<stop offset="0.010" stop-color="#c73d73"/>
<stop offset="0.020" stop-color="#dc4869"/>
<stop offset="0.030" stop-color="#e04c67"/>
<stop offset="0.040" stop-color="#e75263"/>
<stop offset="0.050" stop-color="#ed5a5f"/>
<stop offset="0.059" stop-color="#f2625d"/>
<stop offset="0.069" stop-color="#ef5d5e"/>
<stop offset="0.079" stop-color="#f7725c"/>
<stop offset="0.089" stop-color="#ef5d5e"/>
<stop offset="0.099" stop-color="#e24d66"/>
<stop offset="0.109" stop-color="#d6456c"/>
<stop offset="0.119" stop-color="#db476a"/>
<stop offset="0.129" stop-color="#cd4071"/>
<stop offset="0.139" stop-color="#d6456c"/>
<stop offset="0.149" stop-color="#db476a"/>
<stop offset="0.158" stop-color="#d8456c"/>
<stop offset="0.168" stop-color="#d6456c"/>
<stop offset="0.178" stop-color="#d5446d"/>
<stop offset="0.188" stop-color="#d6456c"/>
<stop offset="0.198" stop-color="#ed5a5f"/>
<stop offset="0.208" stop-color="#dc4869"/>
<stop offset="0.218" stop-color="#a5317e"/>
<stop offset="0.228" stop-color="#842681"/>
<stop offset="0.238" stop-color="#7e2482"/>
<stop offset="0.248" stop-color="#ad347c"/>
<stop offset="0.257" stop-color="#b2357b"/>
<stop offset="0.267" stop-color="#a02f7f"/>
<stop offset="0.277" stop-color="#8c2981"/>
<stop offset="0.287" stop-color="#882781"/>
<stop offset="0.297" stop-color="#ae347b"/>
<stop offset="0.307" stop-color="#c23b75"/>
<stop offset="0.317" stop-color="#c43c75"/>
<stop offset="0.327" stop-color="#c43c75"/>
<stop offset="0.337" stop-color="#c43c75"/>
<stop offset="0.347" stop-color="#b0357b"/>
<stop offset="0.356" stop-color="#b0357b"/>
<stop offset="0.366" stop-color="#ae347b"/>
<stop offset="0.376" stop-color="#c03a76"/>
<stop offset="0.386" stop-color="#cd4071"/>
<stop offset="0.396" stop-color="#e34e65"/>
<stop offset="0.406" stop-color="#e34e65"/>
<stop offset="0.416" stop-color="#e34e65"/>
<stop offset="0.426" stop-color="#d2426f"/>
<stop offset="0.436" stop-color="#d2426f"/>
<stop offset="0.446" stop-color="#e85362"/>
<stop offset="0.455" stop-color="#d9466b"/>
<stop offset="0.465" stop-color="#cf4070"/>
<stop offset="0.475" stop-color="#e34e65"/>
<stop offset="0.485" stop-color="#d5446d"/>
<stop offset="0.495" stop-color="#bf3a77"/>
<stop offset="0.505" stop-color="#bc3978"/>
<stop offset="0.515" stop-color="#ba3878"/>
<stop offset="0.525" stop-color="#b83779"/>
<stop offset="0.535" stop-color="#b2357b"/>
<stop offset="0.545" stop-color="#c43c75"/>
<stop offset="0.554" stop-color="#de4968"/>
<stop offset="0.564" stop-color="#f05f5e"/>
<stop offset="0.574" stop-color="#fd9266"/>
<stop offset="0.584" stop-color="#fc8c63"/>
<stop offset="0.594" stop-color="#ef5d5e"/>
<stop offset="0.604" stop-color="#ed5a5f"/>
<stop offset="0.614" stop-color="#e55064"/>
<stop offset="0.624" stop-color="#e34e65"/>
<stop offset="0.634" stop-color="#fa7f5e"/>
<stop offset="0.644" stop-color="#fc9065"/>
<stop offset="0.653" stop-color="#fd9a6a"/>
<stop offset="0.663" stop-color="#f9795d"/>
<stop offset="0.673" stop-color="#f1605d"/>
<stop offset="0.683" stop-color="#f4695c"/>
<stop offset="0.693" stop-color="#f8765c"/>
<stop offset="0.703" stop-color="#fb835f"/>
<stop offset="0.713" stop-color="#fb8560"/>
<stop offset="0.723" stop-color="#fc8961"/>
<stop offset="0.733" stop-color="#fc8c63"/>
<stop offset="0.743" stop-color="#fc9065"/>
<stop offset="0.752" stop-color="#fd9467"/>
<stop offset="0.762" stop-color="#fd9a6a"/>
<stop offset="0.772" stop-color="#fe9d6c"/>
<stop offset="0.782" stop-color="#fc8961"/>
<stop offset="0.792" stop-color="#f8745c"/>
<stop offset="0.802" stop-color="#fc9065"/>
<stop offset="0.812" stop-color="#febf84"/>
<stop offset="0.822" stop-color="#feca8d"/>
<stop offset="0.832" stop-color="#f8745c"/>
<stop offset="0.842" stop-color="#f56b5c"/>
<stop offset="0.851" stop-color="#fc8c63"/>
<stop offset="0.861" stop-color="#feb078"/>
<stop offset="0.871" stop-color="#fd9266"/>
<stop offset="0.881" stop-color="#fd9b6b"/>
<stop offset="0.891" stop-color="#feb27a"/>
<stop offset="0.901" stop-color="#fc8a62"/>
<stop offset="0.911" stop-color="#feb47b"/>
<stop offset="0.921" stop-color="#fe9d6c"/>
<stop offset="0.931" stop-color="#fd9467"/>
<stop offset="0.941" stop-color="#fd9266"/>
<stop offset="0.950" stop-color="#fd9668"/>
<stop offset="0.960" stop-color="#fd9869"/>
<stop offset="0.970" stop-color="#fd9a6a"/>
<stop offset="0.980" stop-color="#fb8560"/>
<stop offset="0.990" stop-color="#f4675c"/>
<stop offset="1.000" stop-color="#fc8a62"/>
</linearGradient>
<linearGradient id="ra29" gradientUnits="userSpaceOnUse" x1="97.5" y1="0" x2="602.5" y2="0">
<stop offset="0.000" stop-color="#c43c75"/>
<stop offset="0.010" stop-color="#a5317e"/>
<stop offset="0.020" stop-color="#c73d73"/>
<stop offset="0.030" stop-color="#d5446d"/>
<stop offset="0.040" stop-color="#db476a"/>
<stop offset="0.050" stop-color="#e04c67"/>
<stop offset="0.059" stop-color="#e44f64"/>
<stop offset="0.069" stop-color="#e04c67"/>
<stop offset="0.079" stop-color="#ee5b5e"/>
<stop offset="0.089" stop-color="#e55064"/>
<stop offset="0.099" stop-color="#d9466b"/>
<stop offset="0.109" stop-color="#c03a76"/>
<stop offset="0.119" stop-color="#e55064"/>
<stop offset="0.129" stop-color="#df4a68"/>
<stop offset="0.139" stop-color="#e24d66"/>
<stop offset="0.149" stop-color="#e75263"/>
<stop offset="0.158" stop-color="#e44f64"/>
<stop offset="0.168" stop-color="#e04c67"/>
<stop offset="0.178" stop-color="#de4968"/>
<stop offset="0.188" stop-color="#d9466b"/>
<stop offset="0.198" stop-color="#e75263"/>
<stop offset="0.208" stop-color="#db476a"/>
<stop offset="0.218" stop-color="#ae347b"/>
<stop offset="0.228" stop-color="#812581"/>
<stop offset="0.238" stop-color="#7c2382"/>
<stop offset="0.248" stop-color="#ab337c"/>
<stop offset="0.257" stop-color="#b83779"/>
<stop offset="0.267" stop-color="#b83779"/>
<stop offset="0.277" stop-color="#992d80"/>
<stop offset="0.287" stop-color="#892881"/>
<stop offset="0.297" stop-color="#c23b75"/>
<stop offset="0.307" stop-color="#b5367a"/>
<stop offset="0.317" stop-color="#b5367a"/>
<stop offset="0.327" stop-color="#b73779"/>
<stop offset="0.337" stop-color="#ba3878"/>
<stop offset="0.347" stop-color="#a8327d"/>
<stop offset="0.356" stop-color="#ba3878"/>
<stop offset="0.366" stop-color="#bc3978"/>
<stop offset="0.376" stop-color="#c03a76"/>
<stop offset="0.386" stop-color="#ba3878"/>
<stop offset="0.396" stop-color="#ca3e72"/>
<stop offset="0.406" stop-color="#de4968"/>
<stop offset="0.416" stop-color="#dc4869"/>
<stop offset="0.426" stop-color="#d5446d"/>
<stop offset="0.436" stop-color="#d6456c"/>
<stop offset="0.446" stop-color="#e95462"/>
<stop offset="0.455" stop-color="#c43c75"/>
<stop offset="0.465" stop-color="#e55064"/>
<stop offset="0.475" stop-color="#e95462"/>
<stop offset="0.485" stop-color="#e44f64"/>
<stop offset="0.495" stop-color="#c73d73"/>
<stop offset="0.505" stop-color="#b5367a"/>
<stop offset="0.515" stop-color="#b5367a"/>
<stop offset="0.525" stop-color="#c03a76"/>
<stop offset="0.535" stop-color="#cf4070"/>
<stop offset="0.545" stop-color="#c43c75"/>
<stop offset="0.554" stop-color="#df4a68"/>
<stop offset="0.564" stop-color="#f2645c"/>
<stop offset="0.574" stop-color="#fb8761"/>
<stop offset="0.584" stop-color="#fd9266"/>
<stop offset="0.594" stop-color="#fc8a62"/>
<stop offset="0.604" stop-color="#f97b5d"/>
<stop offset="0.614" stop-color="#fa7d5e"/>
<stop offset="0.624" stop-color="#fb8560"/>
<stop offset="0.634" stop-color="#fea772"/>
<stop offset="0.644" stop-color="#fd9b6b"/>
<stop offset="0.653" stop-color="#fd9b6b"/>
<stop offset="0.663" stop-color="#fd9869"/>
<stop offset="0.673" stop-color="#fa7f5e"/>
<stop offset="0.683" stop-color="#fd9467"/>
<stop offset="0.693" stop-color="#fc9065"/>
<stop offset="0.703" stop-color="#fc8961"/>
<stop offset="0.713" stop-color="#fd9467"/>
<stop offset="0.723" stop-color="#fd9668"/>
<stop offset="0.733" stop-color="#fd9869"/>
<stop offset="0.743" stop-color="#fd9b6b"/>
<stop offset="0.752" stop-color="#fea16e"/>
<stop offset="0.762" stop-color="#fea571"/>
<stop offset="0.772" stop-color="#fd9a6a"/>
<stop offset="0.782" stop-color="#fa815f"/>
<stop offset="0.792" stop-color="#f56b5c"/>
<stop offset="0.802" stop-color="#fc8c63"/>
<stop offset="0.812" stop-color="#feca8d"/>
<stop offset="0.822" stop-color="#fed597"/>
<stop offset="0.832" stop-color="#fd9a6a"/>
<stop offset="0.842" stop-color="#fb835f"/>
<stop offset="0.851" stop-color="#fd9467"/>
<stop offset="0.861" stop-color="#fea772"/>
<stop offset="0.871" stop-color="#fd9a6a"/>
<stop offset="0.881" stop-color="#feaa74"/>
<stop offset="0.891" stop-color="#fec287"/>
<stop offset="0.901" stop-color="#feb77e"/>
<stop offset="0.911" stop-color="#feca8d"/>
<stop offset="0.921" stop-color="#fea36f"/>
<stop offset="0.931" stop-color="#fd9a6a"/>
<stop offset="0.941" stop-color="#fd9a6a"/>
<stop offset="0.950" stop-color="#fd9b6b"/>
<stop offset="0.960" stop-color="#fe9f6d"/>
<stop offset="0.970" stop-color="#fd9869"/>
<stop offset="0.980" stop-color="#fa7d5e"/>
<stop offset="0.990" stop-color="#f1605d"/>
<stop offset="1.000" stop-color="#f8765c"/>
</linearGradient>
<linearGradient id="ra30" gradientUnits="userSpaceOnUse" x1="97.5" y1="0" x2="602.5" y2="0">
<stop offset="0.000" stop-color="#aa337d"/>
<stop offset="0.010" stop-color="#8c2981"/>
<stop offset="0.020" stop-color="#ae347b"/>
<stop offset="0.030" stop-color="#c73d73"/>
<stop offset="0.040" stop-color="#cd4071"/>
<stop offset="0.050" stop-color="#d3436e"/>
<stop offset="0.059" stop-color="#d9466b"/>
<stop offset="0.069" stop-color="#d2426f"/>
<stop offset="0.079" stop-color="#df4a68"/>
<stop offset="0.089" stop-color="#e95462"/>
<stop offset="0.099" stop-color="#de4968"/>
<stop offset="0.109" stop-color="#cf4070"/>
<stop offset="0.119" stop-color="#ea5661"/>
<stop offset="0.129" stop-color="#e85362"/>
<stop offset="0.139" stop-color="#dc4869"/>
<stop offset="0.149" stop-color="#df4a68"/>
<stop offset="0.158" stop-color="#d9466b"/>
<stop offset="0.168" stop-color="#d2426f"/>
<stop offset="0.178" stop-color="#cc3f71"/>
<stop offset="0.188" stop-color="#c73d73"/>
<stop offset="0.198" stop-color="#cc3f71"/>
<stop offset="0.208" stop-color="#bd3977"/>
<stop offset="0.218" stop-color="#b2357b"/>
<stop offset="0.228" stop-color="#942c80"/>
<stop offset="0.238" stop-color="#862781"/>
<stop offset="0.248" stop-color="#b0357b"/>
<stop offset="0.257" stop-color="#b2357b"/>
<stop offset="0.267" stop-color="#c23b75"/>
<stop offset="0.277" stop-color="#a02f7f"/>
<stop offset="0.287" stop-color="#892881"/>
<stop offset="0.297" stop-color="#cf4070"/>
<stop offset="0.307" stop-color="#ab337c"/>
<stop offset="0.317" stop-color="#aa337d"/>
<stop offset="0.327" stop-color="#b73779"/>
<stop offset="0.337" stop-color="#a3307e"/>
<stop offset="0.347" stop-color="#992d80"/>
<stop offset="0.356" stop-color="#b0357b"/>
<stop offset="0.366" stop-color="#b5367a"/>
<stop offset="0.376" stop-color="#ae347b"/>
<stop offset="0.386" stop-color="#892881"/>
<stop offset="0.396" stop-color="#9b2e7f"/>
<stop offset="0.406" stop-color="#ca3e72"/>
<stop offset="0.416" stop-color="#cf4070"/>
<stop offset="0.426" stop-color="#d0416f"/>
<stop offset="0.436" stop-color="#d8456c"/>
<stop offset="0.446" stop-color="#de4968"/>
<stop offset="0.455" stop-color="#ab337c"/>
<stop offset="0.465" stop-color="#cf4070"/>
<stop offset="0.475" stop-color="#e04c67"/>
<stop offset="0.485" stop-color="#d2426f"/>
<stop offset="0.495" stop-color="#b2357b"/>
<stop offset="0.505" stop-color="#ae347b"/>
<stop offset="0.515" stop-color="#ae347b"/>
<stop offset="0.525" stop-color="#cd4071"/>
<stop offset="0.535" stop-color="#d5446d"/>
<stop offset="0.545" stop-color="#c83e73"/>
<stop offset="0.554" stop-color="#d9466b"/>
<stop offset="0.564" stop-color="#ee5b5e"/>
<stop offset="0.574" stop-color="#f97b5d"/>
<stop offset="0.584" stop-color="#fc8c63"/>
<stop offset="0.594" stop-color="#fc8c63"/>
<stop offset="0.604" stop-color="#fb835f"/>
<stop offset="0.614" stop-color="#fc8a62"/>
<stop offset="0.624" stop-color="#fe9f6d"/>
<stop offset="0.634" stop-color="#feae77"/>
<stop offset="0.644" stop-color="#fc8c63"/>
<stop offset="0.653" stop-color="#fc8961"/>
<stop offset="0.663" stop-color="#fb8761"/>
<stop offset="0.673" stop-color="#fa7f5e"/>
<stop offset="0.683" stop-color="#fa7d5e"/>
<stop offset="0.693" stop-color="#f7705c"/>
<stop offset="0.703" stop-color="#f2645c"/>
<stop offset="0.713" stop-color="#f9795d"/>
<stop offset="0.723" stop-color="#fa7f5e"/>
<stop offset="0.733" stop-color="#fb835f"/>
<stop offset="0.743" stop-color="#fb8761"/>
<stop offset="0.752" stop-color="#fc8c63"/>
<stop offset="0.762" stop-color="#fc9065"/>
<stop offset="0.772" stop-color="#fd9668"/>
<stop offset="0.782" stop-color="#fb835f"/>
<stop offset="0.792" stop-color="#f66c5c"/>
<stop offset="0.802" stop-color="#fb8560"/>
<stop offset="0.812" stop-color="#fea571"/>
<stop offset="0.822" stop-color="#feb77e"/>
<stop offset="0.832" stop-color="#f97b5d"/>
<stop offset="0.842" stop-color="#f9795d"/>
<stop offset="0.851" stop-color="#f9785d"/>
<stop offset="0.861" stop-color="#fa7d5e"/>
<stop offset="0.871" stop-color="#f97b5d"/>
<stop offset="0.881" stop-color="#fc8961"/>
<stop offset="0.891" stop-color="#fe9d6c"/>
<stop offset="0.901" stop-color="#fc8c63"/>
<stop offset="0.911" stop-color="#fea16e"/>
<stop offset="0.921" stop-color="#fa7d5e"/>
<stop offset="0.931" stop-color="#f9795d"/>
<stop offset="0.941" stop-color="#fa815f"/>
<stop offset="0.950" stop-color="#fb835f"/>
<stop offset="0.960" stop-color="#fa7f5e"/>
<stop offset="0.970" stop-color="#fb835f"/>
<stop offset="0.980" stop-color="#f56b5c"/>
<stop offset="0.990" stop-color="#e85362"/>
<stop offset="1.000" stop-color="#f3655c"/>
</linearGradient>
<linearGradient id="ra31" gradientUnits="userSpaceOnUse" x1="97.5" y1="0" x2="602.5" y2="0">
<stop offset="0.000" stop-color="#ae347b"/>
<stop offset="0.010" stop-color="#902a81"/>
<stop offset="0.020" stop-color="#b2357b"/>
<stop offset="0.030" stop-color="#ba3878"/>
<stop offset="0.040" stop-color="#c03a76"/>
<stop offset="0.050" stop-color="#c73d73"/>
<stop offset="0.059" stop-color="#c23b75"/>
<stop offset="0.069" stop-color="#bc3978"/>
<stop offset="0.079" stop-color="#d0416f"/>
<stop offset="0.089" stop-color="#e85362"/>
<stop offset="0.099" stop-color="#d0416f"/>
<stop offset="0.109" stop-color="#de4968"/>
<stop offset="0.119" stop-color="#ed5a5f"/>
<stop offset="0.129" stop-color="#ec5860"/>
<stop offset="0.139" stop-color="#d8456c"/>
<stop offset="0.149" stop-color="#d5446d"/>
<stop offset="0.158" stop-color="#cc3f71"/>
<stop offset="0.168" stop-color="#bf3a77"/>
<stop offset="0.178" stop-color="#ba3878"/>
<stop offset="0.188" stop-color="#b3367a"/>
<stop offset="0.198" stop-color="#ae347b"/>
<stop offset="0.208" stop-color="#9c2e7f"/>
<stop offset="0.218" stop-color="#a8327d"/>
<stop offset="0.228" stop-color="#a1307e"/>
<stop offset="0.238" stop-color="#882781"/>
<stop offset="0.248" stop-color="#ab337c"/>
<stop offset="0.257" stop-color="#b2357b"/>
<stop offset="0.267" stop-color="#ca3e72"/>
<stop offset="0.277" stop-color="#a1307e"/>
<stop offset="0.287" stop-color="#912b81"/>
<stop offset="0.297" stop-color="#ad347c"/>
<stop offset="0.307" stop-color="#902a81"/>
<stop offset="0.317" stop-color="#a02f7f"/>
<stop offset="0.327" stop-color="#ca3e72"/>
<stop offset="0.337" stop-color="#882781"/>
<stop offset="0.347" stop-color="#721f81"/>
<stop offset="0.356" stop-color="#942c80"/>
<stop offset="0.366" stop-color="#a02f7f"/>
<stop offset="0.376" stop-color="#752181"/>
<stop offset="0.386" stop-color="#36106b"/>
<stop offset="0.396" stop-color="#832681"/>
<stop offset="0.406" stop-color="#cc3f71"/>
<stop offset="0.416" stop-color="#d8456c"/>
<stop offset="0.426" stop-color="#db476a"/>
<stop offset="0.436" stop-color="#ca3e72"/>
<stop offset="0.446" stop-color="#cc3f71"/>
<stop offset="0.455" stop-color="#812581"/>
<stop offset="0.465" stop-color="#ae347b"/>
<stop offset="0.475" stop-color="#c53c74"/>
<stop offset="0.485" stop-color="#b5367a"/>
<stop offset="0.495" stop-color="#aa337d"/>
<stop offset="0.505" stop-color="#a8327d"/>
<stop offset="0.515" stop-color="#a8327d"/>
<stop offset="0.525" stop-color="#c03a76"/>
<stop offset="0.535" stop-color="#cf4070"/>
<stop offset="0.545" stop-color="#ba3878"/>
<stop offset="0.554" stop-color="#d2426f"/>
<stop offset="0.564" stop-color="#ea5661"/>
<stop offset="0.574" stop-color="#f7725c"/>
<stop offset="0.584" stop-color="#fb835f"/>
<stop offset="0.594" stop-color="#fa815f"/>
<stop offset="0.604" stop-color="#fa815f"/>
<stop offset="0.614" stop-color="#fd9467"/>
<stop offset="0.624" stop-color="#feaa74"/>
<stop offset="0.634" stop-color="#fea973"/>
<stop offset="0.644" stop-color="#fc8a62"/>
<stop offset="0.653" stop-color="#f9785d"/>
<stop offset="0.663" stop-color="#f8745c"/>
<stop offset="0.673" stop-color="#f66e5c"/>
<stop offset="0.683" stop-color="#f4695c"/>
<stop offset="0.693" stop-color="#e55064"/>
<stop offset="0.703" stop-color="#db476a"/>
<stop offset="0.713" stop-color="#e34e65"/>
<stop offset="0.723" stop-color="#f56b5c"/>
<stop offset="0.733" stop-color="#f66e5c"/>
<stop offset="0.743" stop-color="#f7725c"/>
<stop offset="0.752" stop-color="#f9785d"/>
<stop offset="0.762" stop-color="#f97b5d"/>
<stop offset="0.772" stop-color="#fa815f"/>
<stop offset="0.782" stop-color="#fa815f"/>
<stop offset="0.792" stop-color="#f66e5c"/>
<stop offset="0.802" stop-color="#f9795d"/>
<stop offset="0.812" stop-color="#f8765c"/>
<stop offset="0.822" stop-color="#fb8761"/>
<stop offset="0.832" stop-color="#f4675c"/>
<stop offset="0.842" stop-color="#f2645c"/>
<stop offset="0.851" stop-color="#ef5d5e"/>
<stop offset="0.861" stop-color="#ef5d5e"/>
<stop offset="0.871" stop-color="#f2625d"/>
<stop offset="0.881" stop-color="#f4675c"/>
<stop offset="0.891" stop-color="#f7725c"/>
<stop offset="0.901" stop-color="#f66c5c"/>
<stop offset="0.911" stop-color="#f7705c"/>
<stop offset="0.921" stop-color="#f1605d"/>
<stop offset="0.931" stop-color="#ed5a5f"/>
<stop offset="0.941" stop-color="#f7705c"/>
<stop offset="0.950" stop-color="#f7725c"/>
<stop offset="0.960" stop-color="#f3655c"/>
<stop offset="0.970" stop-color="#f2645c"/>
<stop offset="0.980" stop-color="#f05f5e"/>
<stop offset="0.990" stop-color="#df4a68"/>
<stop offset="1.000" stop-color="#ed5a5f"/>
</linearGradient>
<linearGradient id="ra32" gradientUnits="userSpaceOnUse" x1="97.5" y1="0" x2="602.5" y2="0">
<stop offset="0.000" stop-color="#a3307e"/>
<stop offset="0.010" stop-color="#962c80"/>
<stop offset="0.020" stop-color="#a3307e"/>
<stop offset="0.030" stop-color="#a6317d"/>
<stop offset="0.040" stop-color="#ab337c"/>
<stop offset="0.050" stop-color="#b2357b"/>
<stop offset="0.059" stop-color="#aa337d"/>
<stop offset="0.069" stop-color="#aa337d"/>
<stop offset="0.079" stop-color="#bf3a77"/>
<stop offset="0.089" stop-color="#d3436e"/>
<stop offset="0.099" stop-color="#ca3e72"/>
<stop offset="0.109" stop-color="#d2426f"/>
<stop offset="0.119" stop-color="#e34e65"/>
<stop offset="0.129" stop-color="#d8456c"/>
<stop offset="0.139" stop-color="#cc3f71"/>
<stop offset="0.149" stop-color="#c53c74"/>
<stop offset="0.158" stop-color="#ab337c"/>
<stop offset="0.168" stop-color="#9c2e7f"/>
<stop offset="0.178" stop-color="#982d80"/>
<stop offset="0.188" stop-color="#982d80"/>
<stop offset="0.198" stop-color="#902a81"/>
<stop offset="0.208" stop-color="#762181"/>
<stop offset="0.218" stop-color="#932b80"/>
<stop offset="0.228" stop-color="#812581"/>
<stop offset="0.238" stop-color="#832681"/>
<stop offset="0.248" stop-color="#9c2e7f"/>
<stop offset="0.257" stop-color="#b2357b"/>
<stop offset="0.267" stop-color="#c83e73"/>
<stop offset="0.277" stop-color="#942c80"/>
<stop offset="0.287" stop-color="#5d177f"/>
<stop offset="0.297" stop-color="#59157e"/>
<stop offset="0.307" stop-color="#51127c"/>
<stop offset="0.317" stop-color="#7c2382"/>
<stop offset="0.327" stop-color="#b2357b"/>
<stop offset="0.337" stop-color="#812581"/>
<stop offset="0.347" stop-color="#5c167f"/>
<stop offset="0.356" stop-color="#7c2382"/>
<stop offset="0.366" stop-color="#842681"/>
<stop offset="0.376" stop-color="#4e117b"/>
<stop offset="0.386" stop-color="#440f76"/>
<stop offset="0.396" stop-color="#752181"/>
<stop offset="0.406" stop-color="#9e2f7f"/>
<stop offset="0.416" stop-color="#ae347b"/>
<stop offset="0.426" stop-color="#b2357b"/>
<stop offset="0.436" stop-color="#b83779"/>
<stop offset="0.446" stop-color="#a3307e"/>
<stop offset="0.455" stop-color="#5d177f"/>
<stop offset="0.465" stop-color="#982d80"/>
<stop offset="0.475" stop-color="#a02f7f"/>
<stop offset="0.485" stop-color="#9e2f7f"/>
<stop offset="0.495" stop-color="#9b2e7f"/>
<stop offset="0.505" stop-color="#9b2e7f"/>
<stop offset="0.515" stop-color="#9b2e7f"/>
<stop offset="0.525" stop-color="#a02f7f"/>
<stop offset="0.535" stop-color="#a02f7f"/>
<stop offset="0.545" stop-color="#932b80"/>
<stop offset="0.554" stop-color="#bf3a77"/>
<stop offset="0.564" stop-color="#df4a68"/>
<stop offset="0.574" stop-color="#f2625d"/>
<stop offset="0.584" stop-color="#f7705c"/>
<stop offset="0.594" stop-color="#f66e5c"/>
<stop offset="0.604" stop-color="#f56b5c"/>
<stop offset="0.614" stop-color="#f4695c"/>
<stop offset="0.624" stop-color="#f9785d"/>
<stop offset="0.634" stop-color="#f8745c"/>
<stop offset="0.644" stop-color="#f2625d"/>
<stop offset="0.653" stop-color="#f1605d"/>
<stop offset="0.663" stop-color="#ee5b5e"/>
<stop offset="0.673" stop-color="#eb5760"/>
<stop offset="0.683" stop-color="#e24d66"/>
<stop offset="0.693" stop-color="#cd4071"/>
<stop offset="0.703" stop-color="#bc3978"/>
<stop offset="0.713" stop-color="#c43c75"/>
<stop offset="0.723" stop-color="#e44f64"/>
<stop offset="0.733" stop-color="#ea5661"/>
<stop offset="0.743" stop-color="#ef5d5e"/>
<stop offset="0.752" stop-color="#ef5d5e"/>
<stop offset="0.762" stop-color="#f2625d"/>
<stop offset="0.772" stop-color="#f3655c"/>
<stop offset="0.782" stop-color="#f3655c"/>
<stop offset="0.792" stop-color="#f1605d"/>
<stop offset="0.802" stop-color="#ed5a5f"/>
<stop offset="0.812" stop-color="#ea5661"/>
<stop offset="0.822" stop-color="#e34e65"/>
<stop offset="0.832" stop-color="#e34e65"/>
<stop offset="0.842" stop-color="#df4a68"/>
<stop offset="0.851" stop-color="#d9466b"/>
<stop offset="0.861" stop-color="#d9466b"/>
<stop offset="0.871" stop-color="#df4a68"/>
<stop offset="0.881" stop-color="#e34e65"/>
<stop offset="0.891" stop-color="#e75263"/>
<stop offset="0.901" stop-color="#e55064"/>
<stop offset="0.911" stop-color="#e04c67"/>
<stop offset="0.921" stop-color="#d9466b"/>
<stop offset="0.931" stop-color="#d9466b"/>
<stop offset="0.941" stop-color="#e75263"/>
<stop offset="0.950" stop-color="#ea5661"/>
<stop offset="0.960" stop-color="#e34e65"/>
<stop offset="0.970" stop-color="#de4968"/>
<stop offset="0.980" stop-color="#df4a68"/>
<stop offset="0.990" stop-color="#d5446d"/>
<stop offset="1.000" stop-color="#df4a68"/>
</linearGradient>
<linearGradient id="ra33" gradientUnits="userSpaceOnUse" x1="97.5" y1="0" x2="602.5" y2="0">
<stop offset="0.000" stop-color="#5c167f"/>
<stop offset="0.010" stop-color="#5a167e"/>
<stop offset="0.020" stop-color="#5c167f"/>
<stop offset="0.030" stop-color="#5f187f"/>
<stop offset="0.040" stop-color="#641a80"/>
<stop offset="0.050" stop-color="#681c81"/>
<stop offset="0.059" stop-color="#651a80"/>
<stop offset="0.069" stop-color="#681c81"/>
<stop offset="0.079" stop-color="#752181"/>
<stop offset="0.089" stop-color="#802582"/>
<stop offset="0.099" stop-color="#812581"/>
<stop offset="0.109" stop-color="#832681"/>
<stop offset="0.119" stop-color="#8c2981"/>
<stop offset="0.129" stop-color="#862781"/>
<stop offset="0.139" stop-color="#832681"/>
<stop offset="0.149" stop-color="#792282"/>
<stop offset="0.158" stop-color="#651a80"/>
<stop offset="0.168" stop-color="#57157e"/>
<stop offset="0.178" stop-color="#4a1079"/>
<stop offset="0.188" stop-color="#4a1079"/>
<stop offset="0.198" stop-color="#491078"/>
<stop offset="0.208" stop-color="#3f0f72"/>
<stop offset="0.218" stop-color="#451077"/>
<stop offset="0.228" stop-color="#400f74"/>
<stop offset="0.238" stop-color="#4f127b"/>
<stop offset="0.248" stop-color="#57157e"/>
<stop offset="0.257" stop-color="#621980"/>
<stop offset="0.267" stop-color="#651a80"/>
<stop offset="0.277" stop-color="#52137c"/>
<stop offset="0.287" stop-color="#3b0f70"/>
<stop offset="0.297" stop-color="#38106c"/>
<stop offset="0.307" stop-color="#341069"/>
<stop offset="0.317" stop-color="#390f6e"/>
<stop offset="0.327" stop-color="#4f127b"/>
<stop offset="0.337" stop-color="#420f75"/>
<stop offset="0.347" stop-color="#2f1163"/>
<stop offset="0.356" stop-color="#3d0f71"/>
<stop offset="0.366" stop-color="#3b0f70"/>
<stop offset="0.376" stop-color="#29115a"/>
<stop offset="0.386" stop-color="#29115a"/>
<stop offset="0.396" stop-color="#38106c"/>
<stop offset="0.406" stop-color="#471078"/>
<stop offset="0.416" stop-color="#4a1079"/>
<stop offset="0.426" stop-color="#4f127b"/>
<stop offset="0.436" stop-color="#54137d"/>
<stop offset="0.446" stop-color="#4a1079"/>
<stop offset="0.455" stop-color="#440f76"/>
<stop offset="0.465" stop-color="#5a167e"/>
<stop offset="0.475" stop-color="#59157e"/>
<stop offset="0.485" stop-color="#56147d"/>
<stop offset="0.495" stop-color="#54137d"/>
<stop offset="0.505" stop-color="#54137d"/>
<stop offset="0.515" stop-color="#54137d"/>
<stop offset="0.525" stop-color="#52137c"/>
<stop offset="0.535" stop-color="#440f76"/>
<stop offset="0.545" stop-color="#4c117a"/>
<stop offset="0.554" stop-color="#752181"/>
<stop offset="0.564" stop-color="#982d80"/>
<stop offset="0.574" stop-color="#b3367a"/>
<stop offset="0.584" stop-color="#bd3977"/>
<stop offset="0.594" stop-color="#bc3978"/>
<stop offset="0.604" stop-color="#bc3978"/>
<stop offset="0.614" stop-color="#ba3878"/>
<stop offset="0.624" stop-color="#b83779"/>
<stop offset="0.634" stop-color="#b73779"/>
<stop offset="0.644" stop-color="#b3367a"/>
<stop offset="0.653" stop-color="#b2357b"/>
<stop offset="0.663" stop-color="#ad347c"/>
<stop offset="0.673" stop-color="#a8327d"/>
<stop offset="0.683" stop-color="#9e2f7f"/>
<stop offset="0.693" stop-color="#8c2981"/>
<stop offset="0.703" stop-color="#862781"/>
<stop offset="0.713" stop-color="#892881"/>
<stop offset="0.723" stop-color="#9c2e7f"/>
<stop offset="0.733" stop-color="#a6317d"/>
<stop offset="0.743" stop-color="#ae347b"/>
<stop offset="0.752" stop-color="#ae347b"/>
<stop offset="0.762" stop-color="#b3367a"/>
<stop offset="0.772" stop-color="#b73779"/>
<stop offset="0.782" stop-color="#b73779"/>
<stop offset="0.792" stop-color="#b2357b"/>
<stop offset="0.802" stop-color="#ad347c"/>
<stop offset="0.812" stop-color="#a6317d"/>
<stop offset="0.822" stop-color="#9c2e7f"/>
<stop offset="0.832" stop-color="#9c2e7f"/>
<stop offset="0.842" stop-color="#982d80"/>
<stop offset="0.851" stop-color="#932b80"/>
<stop offset="0.861" stop-color="#932b80"/>
<stop offset="0.871" stop-color="#982d80"/>
<stop offset="0.881" stop-color="#9c2e7f"/>
<stop offset="0.891" stop-color="#a1307e"/>
<stop offset="0.901" stop-color="#a1307e"/>
<stop offset="0.911" stop-color="#992d80"/>
<stop offset="0.921" stop-color="#932b80"/>
<stop offset="0.931" stop-color="#932b80"/>
<stop offset="0.941" stop-color="#962c80"/>
<stop offset="0.950" stop-color="#992d80"/>
<stop offset="0.960" stop-color="#9c2e7f"/>
<stop offset="0.970" stop-color="#962c80"/>
<stop offset="0.980" stop-color="#982d80"/>
<stop offset="0.990" stop-color="#982d80"/>
<stop offset="1.000" stop-color="#982d80"/>
</linearGradient>
<linearGradient id="ra34" gradientUnits="userSpaceOnUse" x1="97.5" y1="0" x2="602.5" y2="0">
<stop offset="0.000" stop-color="#36106b"/>
<stop offset="0.010" stop-color="#36106b"/>
<stop offset="0.020" stop-color="#36106b"/>
<stop offset="0.030" stop-color="#390f6e"/>
<stop offset="0.040" stop-color="#400f74"/>
<stop offset="0.050" stop-color="#420f75"/>
<stop offset="0.059" stop-color="#400f74"/>
<stop offset="0.069" stop-color="#420f75"/>
<stop offset="0.079" stop-color="#4f127b"/>
<stop offset="0.089" stop-color="#5a167e"/>
<stop offset="0.099" stop-color="#5f187f"/>
<stop offset="0.109" stop-color="#601880"/>
<stop offset="0.119" stop-color="#671b80"/>
<stop offset="0.129" stop-color="#601880"/>
<stop offset="0.139" stop-color="#601880"/>
<stop offset="0.149" stop-color="#57157e"/>
<stop offset="0.158" stop-color="#420f75"/>
<stop offset="0.168" stop-color="#311165"/>
<stop offset="0.178" stop-color="#21114e"/>
<stop offset="0.188" stop-color="#21114e"/>
<stop offset="0.198" stop-color="#21114e"/>
<stop offset="0.208" stop-color="#1a1042"/>
<stop offset="0.218" stop-color="#1a1042"/>
<stop offset="0.228" stop-color="#180f3d"/>
<stop offset="0.238" stop-color="#271258"/>
<stop offset="0.248" stop-color="#331067"/>
<stop offset="0.257" stop-color="#400f74"/>
<stop offset="0.267" stop-color="#420f75"/>
<stop offset="0.277" stop-color="#341069"/>
<stop offset="0.287" stop-color="#19103f"/>
<stop offset="0.297" stop-color="#150e38"/>
<stop offset="0.307" stop-color="#130d34"/>
<stop offset="0.317" stop-color="#1e1149"/>
<stop offset="0.327" stop-color="#271258"/>
<stop offset="0.337" stop-color="#1d1147"/>
<stop offset="0.347" stop-color="#130d34"/>
<stop offset="0.356" stop-color="#1a1042"/>
<stop offset="0.366" stop-color="#1a1042"/>
<stop offset="0.376" stop-color="#120d31"/>
<stop offset="0.386" stop-color="#0c0926"/>
<stop offset="0.396" stop-color="#160f3b"/>
<stop offset="0.406" stop-color="#1d1147"/>
<stop offset="0.416" stop-color="#21114e"/>
<stop offset="0.426" stop-color="#29115a"/>
<stop offset="0.436" stop-color="#221150"/>
<stop offset="0.446" stop-color="#1e1149"/>
<stop offset="0.455" stop-color="#21114e"/>
<stop offset="0.465" stop-color="#36106b"/>
<stop offset="0.475" stop-color="#331067"/>
<stop offset="0.485" stop-color="#311165"/>
<stop offset="0.495" stop-color="#2f1163"/>
<stop offset="0.505" stop-color="#2d1161"/>
<stop offset="0.515" stop-color="#2d1161"/>
<stop offset="0.525" stop-color="#271258"/>
<stop offset="0.535" stop-color="#1a1042"/>
<stop offset="0.545" stop-color="#271258"/>
<stop offset="0.554" stop-color="#4c117a"/>
<stop offset="0.564" stop-color="#732081"/>
<stop offset="0.574" stop-color="#8b2981"/>
<stop offset="0.584" stop-color="#902a81"/>
<stop offset="0.594" stop-color="#902a81"/>
<stop offset="0.604" stop-color="#942c80"/>
<stop offset="0.614" stop-color="#962c80"/>
<stop offset="0.624" stop-color="#942c80"/>
<stop offset="0.634" stop-color="#912b81"/>
<stop offset="0.644" stop-color="#902a81"/>
<stop offset="0.653" stop-color="#8e2a81"/>
<stop offset="0.663" stop-color="#892881"/>
<stop offset="0.673" stop-color="#832681"/>
<stop offset="0.683" stop-color="#7c2382"/>
<stop offset="0.693" stop-color="#6d1d81"/>
<stop offset="0.703" stop-color="#621980"/>
<stop offset="0.713" stop-color="#671b80"/>
<stop offset="0.723" stop-color="#762181"/>
<stop offset="0.733" stop-color="#832681"/>
<stop offset="0.743" stop-color="#932b80"/>
<stop offset="0.752" stop-color="#8b2981"/>
<stop offset="0.762" stop-color="#8e2a81"/>
<stop offset="0.772" stop-color="#932b80"/>
<stop offset="0.782" stop-color="#932b80"/>
<stop offset="0.792" stop-color="#8c2981"/>
<stop offset="0.802" stop-color="#882781"/>
<stop offset="0.812" stop-color="#7e2482"/>
<stop offset="0.822" stop-color="#721f81"/>
<stop offset="0.832" stop-color="#752181"/>
<stop offset="0.842" stop-color="#732081"/>
<stop offset="0.851" stop-color="#6e1e81"/>
<stop offset="0.861" stop-color="#6e1e81"/>
<stop offset="0.871" stop-color="#732081"/>
<stop offset="0.881" stop-color="#792282"/>
<stop offset="0.891" stop-color="#7e2482"/>
<stop offset="0.901" stop-color="#7c2382"/>
<stop offset="0.911" stop-color="#762181"/>
<stop offset="0.921" stop-color="#6e1e81"/>
<stop offset="0.931" stop-color="#701f81"/>
<stop offset="0.941" stop-color="#721f81"/>
<stop offset="0.950" stop-color="#762181"/>
<stop offset="0.960" stop-color="#792282"/>
<stop offset="0.970" stop-color="#762181"/>
<stop offset="0.980" stop-color="#752181"/>
<stop offset="0.990" stop-color="#752181"/>
<stop offset="1.000" stop-color="#752181"/>
</linearGradient>
</defs>
<g clip-path="url(#clipA)"><g filter="url(#blurA)">
<rect x="95" y="15.0" width="510" height="5.6" fill="url(#ra0)"/>
<rect x="95" y="20.0" width="510" height="5.6" fill="url(#ra1)"/>
<rect x="95" y="25.0" width="510" height="5.6" fill="url(#ra2)"/>
<rect x="95" y="30.0" width="510" height="5.6" fill="url(#ra3)"/>
<rect x="95" y="35.0" width="510" height="5.6" fill="url(#ra4)"/>
<rect x="95" y="40.0" width="510" height="5.6" fill="url(#ra5)"/>
<rect x="95" y="45.0" width="510" height="5.6" fill="url(#ra6)"/>
<rect x="95" y="50.0" width="510" height="5.6" fill="url(#ra7)"/>
<rect x="95" y="55.0" width="510" height="5.6" fill="url(#ra8)"/>
<rect x="95" y="60.0" width="510" height="5.6" fill="url(#ra9)"/>
<rect x="95" y="65.0" width="510" height="5.6" fill="url(#ra10)"/>
<rect x="95" y="70.0" width="510" height="5.6" fill="url(#ra11)"/>
<rect x="95" y="75.0" width="510" height="5.6" fill="url(#ra12)"/>
<rect x="95" y="80.0" width="510" height="5.6" fill="url(#ra13)"/>
<rect x="95" y="85.0" width="510" height="5.6" fill="url(#ra14)"/>
<rect x="95" y="90.0" width="510" height="5.6" fill="url(#ra15)"/>
<rect x="95" y="95.0" width="510" height="5.6" fill="url(#ra16)"/>
<rect x="95" y="100.0" width="510" height="5.6" fill="url(#ra17)"/>
<rect x="95" y="105.0" width="510" height="5.6" fill="url(#ra18)"/>
<rect x="95" y="110.0" width="510" height="5.6" fill="url(#ra19)"/>
<rect x="95" y="115.0" width="510" height="5.6" fill="url(#ra20)"/>
<rect x="95" y="120.0" width="510" height="5.6" fill="url(#ra21)"/>
<rect x="95" y="125.0" width="510" height="5.6" fill="url(#ra22)"/>
<rect x="95" y="130.0" width="510" height="5.6" fill="url(#ra23)"/>
<rect x="95" y="135.0" width="510" height="5.6" fill="url(#ra24)"/>
<rect x="95" y="140.0" width="510" height="5.6" fill="url(#ra25)"/>
<rect x="95" y="145.0" width="510" height="5.6" fill="url(#ra26)"/>
<rect x="95" y="150.0" width="510" height="5.6" fill="url(#ra27)"/>
<rect x="95" y="155.0" width="510" height="5.6" fill="url(#ra28)"/>
<rect x="95" y="160.0" width="510" height="5.6" fill="url(#ra29)"/>
<rect x="95" y="165.0" width="510" height="5.6" fill="url(#ra30)"/>
<rect x="95" y="170.0" width="510" height="5.6" fill="url(#ra31)"/>
<rect x="95" y="175.0" width="510" height="5.6" fill="url(#ra32)"/>
<rect x="95" y="180.0" width="510" height="5.6" fill="url(#ra33)"/>
<rect x="95" y="185.0" width="510" height="5.6" fill="url(#ra34)"/>
</g><g filter="url(#blurB)">
<ellipse cx="399" cy="142" rx="8" ry="34" fill="#f9795d"/>
<ellipse cx="398.5" cy="160" rx="7" ry="22" fill="#fed89a"/>
<ellipse cx="406" cy="170" rx="7" ry="11" fill="#fe9f6d" fill-opacity="0.8"/>
<path d="M377,20 L386,20 L398,125 L394,175 L386,175 Z" fill="#b73779" fill-opacity="0.85"/>
<ellipse cx="121" cy="151" rx="6" ry="7" fill="#feb47b"/>
<ellipse cx="384" cy="113" rx="3" ry="4" fill="#1a1042"/>
<ellipse cx="384" cy="146" rx="3" ry="4" fill="#3b0f70"/>
<ellipse cx="160" cy="117" rx="6" ry="7" fill="#03030f"/>
<ellipse cx="226" cy="113" rx="5" ry="9" fill="#03030f"/>
</g></g>
<rect x="100" y="20" width="2" height="163" fill="#fff"/>
<rect x="597" y="20" width="3" height="163" fill="#fff"/>
<rect x="99.3" y="19.2" width="500.9" height="164.6" fill="none" stroke="#000" stroke-width="1.4"/>
<line x1="99.30" y1="19.50" x2="103.00" y2="19.50" stroke="#000" stroke-width="1.3" />
<text x="96.0" y="23.5" font-size="11.3" text-anchor="end" fill="#000" >200</text>
<line x1="99.30" y1="60.70" x2="103.00" y2="60.70" stroke="#000" stroke-width="1.3" />
<text x="96.0" y="64.7" font-size="11.3" text-anchor="end" fill="#000" >150</text>
<line x1="99.30" y1="101.90" x2="103.00" y2="101.90" stroke="#000" stroke-width="1.3" />
<text x="96.0" y="105.9" font-size="11.3" text-anchor="end" fill="#000" >100</text>
<line x1="99.30" y1="143.10" x2="103.00" y2="143.10" stroke="#000" stroke-width="1.3" />
<text x="96.0" y="147.1" font-size="11.3" text-anchor="end" fill="#000" >50</text>
<line x1="99.30" y1="184.30" x2="103.00" y2="184.30" stroke="#000" stroke-width="1.3" />
<text x="96.0" y="188.3" font-size="11.3" text-anchor="end" fill="#000" >0</text>
<text x="99.5" y="206.3" font-size="17" text-anchor="middle" fill="#000" >4550</text>
<line x1="224.70" y1="183.80" x2="224.70" y2="179.50" stroke="#000" stroke-width="1.3" />
<text x="224.7" y="206.3" font-size="17" text-anchor="middle" fill="#000" >4555</text>
<line x1="349.90" y1="183.80" x2="349.90" y2="179.50" stroke="#000" stroke-width="1.3" />
<text x="349.9" y="206.3" font-size="17" text-anchor="middle" fill="#000" >4560</text>
<line x1="475.10" y1="183.80" x2="475.10" y2="179.50" stroke="#000" stroke-width="1.3" />
<text x="475.1" y="206.3" font-size="17" text-anchor="middle" fill="#000" >4565</text>
<text x="600.3" y="206.3" font-size="17" text-anchor="middle" fill="#000" >4570</text>
<text x="352.1" y="221.7" font-size="17.2" text-anchor="middle" fill="#000" >time (ms)</text>
<text x="99.5" y="10.9" font-size="14.8" text-anchor="start" fill="#000" >DIII-D #169862 4550-4570ms</text>
<text transform="translate(62,103.3) rotate(-90)" font-size="20.3" text-anchor="middle">frequency (kHz)</text>
<text x="575.7" y="46.2" font-size="20.5" text-anchor="middle" fill="#fff" >(a)</text>
<rect x="375.6" y="14.4" width="46.6" height="173" fill="none" stroke="#0000ff" stroke-width="3"/>
<rect x="425.6" y="14.4" width="46.8" height="173" fill="none" stroke="#ff0000" stroke-width="3"/>
<defs><linearGradient id="cbar" x1="0" y1="1" x2="0" y2="0">
<stop offset="0.00" stop-color="#02020b"/>
<stop offset="0.10" stop-color="#150e38"/>
<stop offset="0.20" stop-color="#341069"/>
<stop offset="0.30" stop-color="#57157e"/>
<stop offset="0.40" stop-color="#782281"/>
<stop offset="0.50" stop-color="#992d80"/>
<stop offset="0.60" stop-color="#bc3978"/>
<stop offset="0.70" stop-color="#dc4869"/>
<stop offset="0.80" stop-color="#f3655c"/>
<stop offset="0.90" stop-color="#fc8c63"/>
<stop offset="1.00" stop-color="#feb47b"/>
</linearGradient></defs>
<rect x="603.5" y="19.5" width="10" height="164.6" fill="url(#cbar)" stroke="#000" stroke-width="0.8"/>
<line x1="613.50" y1="19.60" x2="617.00" y2="19.60" stroke="#000" stroke-width="1" />
<text x="618.5" y="23.9" font-size="12" text-anchor="start" fill="#000" >−5</text>
<line x1="613.50" y1="74.70" x2="617.00" y2="74.70" stroke="#000" stroke-width="1" />
<text x="618.5" y="79.0" font-size="12" text-anchor="start" fill="#000" >−6</text>
<line x1="613.50" y1="129.20" x2="617.00" y2="129.20" stroke="#000" stroke-width="1" />
<text x="618.5" y="133.5" font-size="12" text-anchor="start" fill="#000" >−7</text>
<line x1="613.50" y1="184.00" x2="617.00" y2="184.00" stroke="#000" stroke-width="1" />
<text x="618.5" y="188.3" font-size="12" text-anchor="start" fill="#000" >−8</text>
<text transform="translate(642.2,102.3) rotate(90)" font-size="12.5" text-anchor="middle">Cross Power (arb. units)</text>
<text x="179.0" y="256.0" font-size="21.7" text-anchor="middle" fill="#000" font-weight="bold" font-style="italic">Turbulent Particle Flux</text>
<rect x="43.4" y="264" width="269" height="235" fill="none" stroke="#000" stroke-width="1.5"/>
<line x1="43.40" y1="276.70" x2="49.50" y2="276.70" stroke="#000" stroke-width="1.2" />
<text x="40.0" y="280.9" font-size="11.8" text-anchor="end" fill="#000" >12.5</text>
<line x1="43.40" y1="308.50" x2="49.50" y2="308.50" stroke="#000" stroke-width="1.2" />
<text x="40.0" y="312.7" font-size="11.8" text-anchor="end" fill="#000" >10.0</text>
<line x1="43.40" y1="340.30" x2="49.50" y2="340.30" stroke="#000" stroke-width="1.2" />
<text x="40.0" y="344.5" font-size="11.8" text-anchor="end" fill="#000" >7.5</text>
<line x1="43.40" y1="372.10" x2="49.50" y2="372.10" stroke="#000" stroke-width="1.2" />
<text x="40.0" y="376.3" font-size="11.8" text-anchor="end" fill="#000" >5.0</text>
<line x1="43.40" y1="403.90" x2="49.50" y2="403.90" stroke="#000" stroke-width="1.2" />
<text x="40.0" y="408.1" font-size="11.8" text-anchor="end" fill="#000" >2.5</text>
<line x1="43.40" y1="435.70" x2="49.50" y2="435.70" stroke="#000" stroke-width="1.2" />
<text x="40.0" y="439.9" font-size="11.8" text-anchor="end" fill="#000" >0.0</text>
<line x1="43.40" y1="467.50" x2="49.50" y2="467.50" stroke="#000" stroke-width="1.2" />
<text x="40.0" y="471.7" font-size="11.8" text-anchor="end" fill="#000" >−2.5</text>
<line x1="43.40" y1="499.30" x2="49.50" y2="499.30" stroke="#000" stroke-width="1.2" />
<text x="40.0" y="503.5" font-size="11.8" text-anchor="end" fill="#000" >−5.0</text>
<line x1="43.40" y1="499.00" x2="43.40" y2="493.00" stroke="#000" stroke-width="1.2" />
<text x="43.4" y="511.0" font-size="11.8" text-anchor="middle" fill="#000" >0.85</text>
<line x1="97.10" y1="499.00" x2="97.10" y2="493.00" stroke="#000" stroke-width="1.2" />
<text x="97.1" y="511.0" font-size="11.8" text-anchor="middle" fill="#000" >0.90</text>
<line x1="150.80" y1="499.00" x2="150.80" y2="493.00" stroke="#000" stroke-width="1.2" />
<text x="150.8" y="511.0" font-size="11.8" text-anchor="middle" fill="#000" >0.95</text>
<line x1="204.50" y1="499.00" x2="204.50" y2="493.00" stroke="#000" stroke-width="1.2" />
<text x="204.5" y="511.0" font-size="11.8" text-anchor="middle" fill="#000" >1.00</text>
<line x1="258.20" y1="499.00" x2="258.20" y2="493.00" stroke="#000" stroke-width="1.2" />
<text x="258.2" y="511.0" font-size="11.8" text-anchor="middle" fill="#000" >1.05</text>
<line x1="311.90" y1="499.00" x2="311.90" y2="493.00" stroke="#000" stroke-width="1.2" />
<text x="311.9" y="511.0" font-size="11.8" text-anchor="middle" fill="#000" >1.10</text>
<text x="176" y="523" font-size="13" font-style="italic" text-anchor="middle">ρ</text>
<text transform="translate(15.5,454.3) rotate(-90)" font-size="14.5" text-anchor="middle" >&lt;</text>
<text transform="translate(16.0,433.8) rotate(-90)" font-size="20" text-anchor="middle" font-style="italic" >ñ</text>
<text transform="translate(17.5,425.5) rotate(-90)" font-size="24" text-anchor="middle" >/</text>
<text transform="translate(16.0,418.0) rotate(-90)" font-size="20" text-anchor="middle" font-style="italic" >n</text>
<text transform="translate(16.0,399.0) rotate(-90)" font-size="20" text-anchor="middle" font-style="italic" >ṽ</text>
<text transform="translate(19.5,390.5) rotate(-90)" font-size="14" text-anchor="middle" font-style="italic" >r</text>
<text transform="translate(15.5,382.5) rotate(-90)" font-size="14.5" text-anchor="middle" >&gt;</text>
<text transform="translate(17.5,357.0) rotate(-90)" font-size="23" text-anchor="middle" >(</text>
<text transform="translate(16.0,348.3) rotate(-90)" font-size="20" text-anchor="middle" font-style="italic" >m</text>
<text transform="translate(17.5,335.0) rotate(-90)" font-size="24" text-anchor="middle" >/</text>
<text transform="translate(16.0,327.8) rotate(-90)" font-size="20" text-anchor="middle" font-style="italic" >s</text>
<text transform="translate(17.5,321.5) rotate(-90)" font-size="23" text-anchor="middle" >)</text>
<polyline points="43.4,435.7 77.8,437.0 116.4,438.9 147.6,462.4 204.5,472.6 256.1,475.8" fill="none" stroke="#0000ff" stroke-width="1.6"/>
<line x1="43.40" y1="433.16" x2="43.40" y2="438.24" stroke="#0000ff" stroke-width="1" />
<line x1="40.40" y1="433.16" x2="46.40" y2="433.16" stroke="#0000ff" stroke-width="1" />
<line x1="40.40" y1="438.24" x2="46.40" y2="438.24" stroke="#0000ff" stroke-width="1" />
<polygon points="43.4,431.5 39.5,438.6 47.3,438.6" fill="#0000ff"/>
<line x1="77.77" y1="434.43" x2="77.77" y2="439.52" stroke="#0000ff" stroke-width="1" />
<line x1="74.77" y1="434.43" x2="80.77" y2="434.43" stroke="#0000ff" stroke-width="1" />
<line x1="74.77" y1="439.52" x2="80.77" y2="439.52" stroke="#0000ff" stroke-width="1" />
<polygon points="77.8,432.8 73.9,439.9 81.7,439.9" fill="#0000ff"/>
<line x1="116.43" y1="436.34" x2="116.43" y2="441.42" stroke="#0000ff" stroke-width="1" />
<line x1="113.43" y1="436.34" x2="119.43" y2="436.34" stroke="#0000ff" stroke-width="1" />
<line x1="113.43" y1="441.42" x2="119.43" y2="441.42" stroke="#0000ff" stroke-width="1" />
<polygon points="116.4,434.7 112.5,441.8 120.3,441.8" fill="#0000ff"/>
<line x1="147.58" y1="457.96" x2="147.58" y2="466.86" stroke="#0000ff" stroke-width="1" />
<line x1="144.58" y1="457.96" x2="150.58" y2="457.96" stroke="#0000ff" stroke-width="1" />
<line x1="144.58" y1="466.86" x2="150.58" y2="466.86" stroke="#0000ff" stroke-width="1" />
<polygon points="147.6,458.2 143.7,465.3 151.5,465.3" fill="#0000ff"/>
<line x1="204.50" y1="468.01" x2="204.50" y2="477.17" stroke="#0000ff" stroke-width="1" />
<line x1="201.50" y1="468.01" x2="207.50" y2="468.01" stroke="#0000ff" stroke-width="1" />
<line x1="201.50" y1="477.17" x2="207.50" y2="477.17" stroke="#0000ff" stroke-width="1" />
<polygon points="204.5,468.4 200.6,475.5 208.4,475.5" fill="#0000ff"/>
<line x1="256.05" y1="463.05" x2="256.05" y2="488.49" stroke="#0000ff" stroke-width="1" />
<line x1="253.05" y1="463.05" x2="259.05" y2="463.05" stroke="#0000ff" stroke-width="1" />
<line x1="253.05" y1="488.49" x2="259.05" y2="488.49" stroke="#0000ff" stroke-width="1" />
<polygon points="256.1,471.6 252.2,478.7 260.0,478.7" fill="#0000ff"/>
<polyline points="43.4,433.5 77.8,435.4 116.4,438.0 147.6,442.7 204.5,407.7 256.1,360.7" fill="none" stroke="#000" stroke-width="1.6"/>
<line x1="43.40" y1="430.36" x2="43.40" y2="436.72" stroke="#000" stroke-width="1" />
<line x1="40.40" y1="430.36" x2="46.40" y2="430.36" stroke="#000" stroke-width="1" />
<line x1="40.40" y1="436.72" x2="46.40" y2="436.72" stroke="#000" stroke-width="1" />
<rect x="40.1" y="430.2" width="6.6" height="6.6" fill="#000"/>
<line x1="77.77" y1="432.90" x2="77.77" y2="437.99" stroke="#000" stroke-width="1" />
<line x1="74.77" y1="432.90" x2="80.77" y2="432.90" stroke="#000" stroke-width="1" />
<line x1="74.77" y1="437.99" x2="80.77" y2="437.99" stroke="#000" stroke-width="1" />
<rect x="74.5" y="432.1" width="6.6" height="6.6" fill="#000"/>
<line x1="116.43" y1="434.81" x2="116.43" y2="441.17" stroke="#000" stroke-width="1" />
<line x1="113.43" y1="434.81" x2="119.43" y2="434.81" stroke="#000" stroke-width="1" />
<line x1="113.43" y1="441.17" x2="119.43" y2="441.17" stroke="#000" stroke-width="1" />
<rect x="113.1" y="434.7" width="6.6" height="6.6" fill="#000"/>
<line x1="147.58" y1="438.88" x2="147.58" y2="446.51" stroke="#000" stroke-width="1" />
<line x1="144.58" y1="438.88" x2="150.58" y2="438.88" stroke="#000" stroke-width="1" />
<line x1="144.58" y1="446.51" x2="150.58" y2="446.51" stroke="#000" stroke-width="1" />
<rect x="144.3" y="439.4" width="6.6" height="6.6" fill="#000"/>
<line x1="204.50" y1="396.27" x2="204.50" y2="419.16" stroke="#000" stroke-width="1" />
<line x1="201.50" y1="396.27" x2="207.50" y2="396.27" stroke="#000" stroke-width="1" />
<line x1="201.50" y1="419.16" x2="207.50" y2="419.16" stroke="#000" stroke-width="1" />
<rect x="201.2" y="404.4" width="6.6" height="6.6" fill="#000"/>
<line x1="256.05" y1="342.21" x2="256.05" y2="379.10" stroke="#000" stroke-width="1" />
<line x1="253.05" y1="342.21" x2="259.05" y2="342.21" stroke="#000" stroke-width="1" />
<line x1="253.05" y1="379.10" x2="259.05" y2="379.10" stroke="#000" stroke-width="1" />
<rect x="252.8" y="357.4" width="6.6" height="6.6" fill="#000"/>
<polyline points="43.4,435.7 77.8,435.1 116.4,438.6 147.6,438.2 204.5,375.9 256.1,302.8" fill="none" stroke="#ff0000" stroke-width="1.6"/>
<line x1="43.40" y1="433.16" x2="43.40" y2="438.24" stroke="#ff0000" stroke-width="1" />
<line x1="40.40" y1="433.16" x2="46.40" y2="433.16" stroke="#ff0000" stroke-width="1" />
<line x1="40.40" y1="438.24" x2="46.40" y2="438.24" stroke="#ff0000" stroke-width="1" />
<circle cx="43.4" cy="435.7" r="3.5" fill="#ff0000"/>
<line x1="77.77" y1="431.25" x2="77.77" y2="438.88" stroke="#ff0000" stroke-width="1" />
<line x1="74.77" y1="431.25" x2="80.77" y2="431.25" stroke="#ff0000" stroke-width="1" />
<line x1="74.77" y1="438.88" x2="80.77" y2="438.88" stroke="#ff0000" stroke-width="1" />
<circle cx="77.8" cy="435.1" r="3.5" fill="#ff0000"/>
<line x1="116.43" y1="434.81" x2="116.43" y2="442.44" stroke="#ff0000" stroke-width="1" />
<line x1="113.43" y1="434.81" x2="119.43" y2="434.81" stroke="#ff0000" stroke-width="1" />
<line x1="113.43" y1="442.44" x2="119.43" y2="442.44" stroke="#ff0000" stroke-width="1" />
<circle cx="116.4" cy="438.6" r="3.5" fill="#ff0000"/>
<line x1="147.58" y1="432.52" x2="147.58" y2="443.97" stroke="#ff0000" stroke-width="1" />
<line x1="144.58" y1="432.52" x2="150.58" y2="432.52" stroke="#ff0000" stroke-width="1" />
<line x1="144.58" y1="443.97" x2="150.58" y2="443.97" stroke="#ff0000" stroke-width="1" />
<circle cx="147.6" cy="438.2" r="3.5" fill="#ff0000"/>
<line x1="204.50" y1="365.49" x2="204.50" y2="386.35" stroke="#ff0000" stroke-width="1" />
<line x1="201.50" y1="365.49" x2="207.50" y2="365.49" stroke="#ff0000" stroke-width="1" />
<line x1="201.50" y1="386.35" x2="207.50" y2="386.35" stroke="#ff0000" stroke-width="1" />
<circle cx="204.5" cy="375.9" r="3.5" fill="#ff0000"/>
<line x1="256.05" y1="274.79" x2="256.05" y2="330.76" stroke="#ff0000" stroke-width="1" />
<line x1="253.05" y1="274.79" x2="259.05" y2="274.79" stroke="#ff0000" stroke-width="1" />
<line x1="253.05" y1="330.76" x2="259.05" y2="330.76" stroke="#ff0000" stroke-width="1" />
<circle cx="256.1" cy="302.8" r="3.5" fill="#ff0000"/>
<rect x="47.8" y="270" width="96.4" height="44" rx="2.5" fill="#fff" stroke="#d8d8d8" stroke-width="0.9"/>
<line x1="62.00" y1="272.20" x2="62.00" y2="282.20" stroke="#000" stroke-width="1" />
<line x1="59.50" y1="272.20" x2="64.50" y2="272.20" stroke="#000" stroke-width="1" />
<line x1="59.50" y1="282.20" x2="64.50" y2="282.20" stroke="#000" stroke-width="1" />
<rect x="58.7" y="273.9" width="6.6" height="6.6" fill="#000"/>
<text x="80.0" y="280.8" font-size="10" text-anchor="start" fill="#000" >4559-4561ms</text>
<line x1="62.00" y1="286.30" x2="62.00" y2="296.30" stroke="#0000ff" stroke-width="1" />
<line x1="59.50" y1="286.30" x2="64.50" y2="286.30" stroke="#0000ff" stroke-width="1" />
<line x1="59.50" y1="296.30" x2="64.50" y2="296.30" stroke="#0000ff" stroke-width="1" />
<polygon points="62.0,287.1 58.1,294.2 65.9,294.2" fill="#0000ff"/>
<text x="80.0" y="294.9" font-size="10" text-anchor="start" fill="#000" >4561-4563ms</text>
<line x1="62.00" y1="300.40" x2="62.00" y2="310.40" stroke="#ff0000" stroke-width="1" />
<line x1="59.50" y1="300.40" x2="64.50" y2="300.40" stroke="#ff0000" stroke-width="1" />
<line x1="59.50" y1="310.40" x2="64.50" y2="310.40" stroke="#ff0000" stroke-width="1" />
<circle cx="62.0" cy="305.4" r="3.5" fill="#ff0000"/>
<text x="80.0" y="309.0" font-size="10" text-anchor="start" fill="#000" >4563-4565ms</text>
<text x="87.0" y="361.8" font-size="17.6" text-anchor="start" fill="#ff0000" >MHD dominant</text>
<text x="170.0" y="444.5" font-size="17.7" text-anchor="start" fill="#0000ff" >Turbulence dominant</text>
<text x="290.0" y="298.7" font-size="20.5" text-anchor="middle" fill="#000" >(b)</text>
<line x1="198" y1="449.6" x2="181" y2="457.8" stroke="#0000ff" stroke-width="1.9"/>
<polygon points="172.6,461.8 184.2,451.6 182.4,457.4 187.8,459.6" fill="#0000ff"/>
<rect x="422.9" y="237.8" width="7.4" height="40.19999999999999" fill="#e8a8e8"/>
<rect x="456.0" y="237.8" width="7.3" height="40.19999999999999" fill="#e8a8e8"/>
<rect x="489.0" y="237.8" width="8.0" height="40.19999999999999" fill="#e8a8e8"/>
<rect x="520.2" y="237.8" width="7.4" height="40.19999999999999" fill="#e8a8e8"/>
<rect x="550.4" y="237.8" width="7.0" height="40.19999999999999" fill="#e8a8e8"/>
<rect x="591.2" y="237.8" width="10.5" height="40.19999999999999" fill="#e8a8e8"/>
<rect x="639.3" y="237.8" width="11.3" height="40.19999999999999" fill="#e8a8e8"/>
<rect x="400.1" y="237.8" width="5.3" height="40.19999999999999" fill="#a8e6e6"/>
<rect x="431.0" y="237.8" width="5.9" height="40.19999999999999" fill="#a8e6e6"/>
<rect x="464.0" y="237.8" width="5.8" height="40.19999999999999" fill="#a8e6e6"/>
<rect x="497.0" y="237.8" width="5.2" height="40.19999999999999" fill="#a8e6e6"/>
<rect x="527.6" y="237.8" width="5.3" height="40.19999999999999" fill="#a8e6e6"/>
<rect x="558.8" y="237.8" width="7.3" height="40.19999999999999" fill="#a8e6e6"/>
<rect x="602.2" y="237.8" width="8.8" height="40.19999999999999" fill="#a8e6e6"/>
<polyline points="382.1,272.6 382.3,273.1 382.5,273.4 382.7,274.4 382.9,266.6 383.1,267.2 383.3,272.1 383.5,271.2 383.7,272.8 383.9,275.6 384.1,276.7 384.3,277.2 384.5,271.1 384.7,273.3 384.9,274.6 385.1,274.0 385.3,272.7 385.5,277.2 385.7,273.3 385.9,272.2 386.1,277.2 386.3,277.1 386.5,271.3 386.7,273.6 386.9,272.7 387.1,273.8 387.3,273.2 387.5,271.0 387.7,274.8 387.9,272.0 388.1,265.7 388.3,269.1 388.5,270.5 388.7,273.1 388.9,269.1 389.1,267.8 389.3,269.8 389.5,270.7 389.7,269.9 389.9,271.4 390.1,269.2 390.3,269.1 390.5,269.7 390.7,270.6 390.9,271.9 391.1,267.6 391.3,271.5 391.5,270.8 391.7,273.7 391.9,273.4 392.1,267.9 392.3,272.3 392.5,269.3 392.7,270.3 392.9,268.9 393.1,265.7 393.3,269.3 393.5,267.5 393.7,267.9 393.9,266.3 394.1,266.0 394.3,265.6 394.5,269.0 394.7,265.2 394.9,263.3 395.1,267.2 395.3,254.5 395.5,257.7 395.7,261.5 395.9,263.5 396.1,260.5 396.3,252.7 396.5,256.8 396.7,253.3 396.9,257.3 397.1,254.4 397.3,253.5 397.5,253.9 397.7,250.2 397.9,250.5 398.1,247.2 398.3,247.2 398.5,243.0 398.7,245.4 398.9,238.1 399.1,243.9 399.3,250.2 399.5,250.4 399.7,261.9 399.9,261.0 400.1,269.8 400.3,267.5 400.5,274.6 400.7,276.1 400.9,275.3 401.1,276.7 401.3,273.0 401.5,274.0 401.7,270.1 401.9,269.8 402.1,272.1 402.3,272.7 402.5,274.9 402.7,274.0 402.9,270.8 403.1,271.5 403.3,274.3 403.5,273.5 403.7,271.9 403.9,272.9 404.1,265.5 404.3,274.1 404.5,271.4 404.7,272.7 404.9,273.1 405.1,276.2 405.3,272.6 405.5,271.9 405.7,272.3 405.9,273.9 406.1,271.3 406.3,265.4 406.5,272.8 406.7,273.2 406.9,271.6 407.1,269.5 407.3,272.7 407.5,269.6 407.7,272.5 407.9,270.8 408.1,267.6 408.3,268.4 408.5,273.7 408.7,272.6 408.9,271.1 409.1,272.6 409.3,273.6 409.5,269.8 409.7,272.5 409.9,273.3 410.1,270.2 410.3,270.4 410.5,272.0 410.7,272.9 410.9,269.3 411.1,265.2 411.3,269.3 411.5,267.8 411.7,271.2 411.9,272.1 412.1,269.5 412.3,269.1 412.5,269.0 412.7,270.8 412.9,273.0 413.1,274.1 413.3,272.3 413.5,270.9 413.7,270.0 413.9,266.7 414.1,271.6 414.3,270.4 414.5,271.0 414.7,274.8 414.9,272.1 415.1,272.3 415.3,268.2 415.5,270.5 415.7,273.6 415.9,270.2 416.1,273.8 416.3,272.3 416.5,271.2 416.7,272.2 416.9,272.6 417.1,270.6 417.3,267.7 417.5,269.2 417.7,269.7 417.9,273.5 418.1,271.2 418.3,270.4 418.5,274.4 418.7,275.5 418.9,269.0 419.1,263.8 419.3,271.8 419.5,273.2 419.7,270.8 419.9,268.9 420.1,271.5 420.3,269.3 420.5,268.5 420.7,268.8 420.9,273.7 421.1,271.0 421.3,266.9 421.5,268.0 421.7,264.0 421.9,266.0 422.1,271.7 422.3,269.7 422.5,267.3 422.7,267.3 422.9,267.8 423.1,270.6 423.3,262.8 423.5,269.1 423.7,265.5 423.9,267.3 424.1,268.1 424.3,270.5 424.5,268.4 424.7,269.6 424.9,263.9 425.1,266.0 425.3,266.4 425.5,265.8 425.7,264.6 425.9,262.8 426.1,268.4 426.3,266.0 426.5,264.6 426.7,263.3 426.9,263.8 427.1,259.2 427.3,259.6 427.5,259.3 427.7,258.5 427.9,260.4 428.1,253.4 428.3,253.5 428.5,254.8 428.7,253.5 428.9,252.4 429.1,249.9 429.3,250.5 429.5,250.8 429.7,246.0 429.9,247.3 430.1,242.0 430.3,244.1 430.5,240.0 430.7,241.9 430.9,252.8 431.1,253.6 431.3,262.1 431.5,262.6 431.7,270.7 431.9,271.3 432.1,272.4 432.3,277.2 432.5,272.8 432.7,272.2 432.9,271.6 433.1,273.2 433.3,274.0 433.5,272.4 433.7,272.0 433.9,273.8 434.1,272.2 434.3,273.2 434.5,275.4 434.7,274.4 434.9,270.0 435.1,272.6 435.3,270.6 435.5,271.2 435.7,277.2 435.9,276.3 436.1,267.0 436.3,267.0 436.5,272.3 436.7,273.6 436.9,271.8 437.1,272.5 437.3,272.5 437.5,272.7 437.7,273.2 437.9,275.5 438.1,273.5 438.3,272.3 438.5,272.7 438.7,274.1 438.9,274.8 439.1,275.1 439.3,273.6 439.5,271.5 439.7,271.6 439.9,270.2 440.1,273.1 440.3,274.2 440.5,273.7 440.7,273.0 440.9,271.9 441.1,266.3 441.3,272.1 441.5,274.5 441.7,272.9 441.9,269.4 442.1,270.0 442.3,272.5 442.5,270.9 442.7,274.0 442.9,274.4 443.1,272.1 443.3,269.0 443.5,269.9 443.7,267.9 443.9,269.0 444.1,273.4 444.3,269.3 444.5,269.1 444.7,270.6 444.9,272.3 445.1,270.1 445.3,265.0 445.5,269.4 445.7,269.2 445.9,270.1 446.1,272.0 446.3,277.2 446.5,269.0 446.7,270.2 446.9,270.5 447.1,270.2 447.3,268.5 447.5,271.5 447.7,271.4 447.9,266.8 448.1,271.3 448.3,268.3 448.5,272.4 448.7,270.2 448.9,264.0 449.1,266.9 449.3,270.8 449.5,274.6 449.7,268.0 449.9,266.3 450.1,273.7 450.3,269.8 450.5,266.5 450.7,266.2 450.9,273.0 451.1,272.1 451.3,270.1 451.5,274.0 451.7,270.6 451.9,271.5 452.1,264.4 452.3,267.2 452.5,264.4 452.7,261.4 452.9,270.1 453.1,267.3 453.3,265.9 453.5,270.0 453.7,269.7 453.9,272.1 454.1,268.8 454.3,267.8 454.5,271.5 454.7,267.4 454.9,262.4 455.1,268.8 455.3,265.7 455.5,269.6 455.7,264.2 455.9,263.7 456.1,268.5 456.3,268.8 456.5,265.2 456.7,264.4 456.9,267.2 457.1,265.2 457.3,264.7 457.5,264.7 457.7,264.6 457.9,260.1 458.1,263.1 458.3,259.6 458.5,255.8 458.7,255.2 458.9,263.2 459.1,263.0 459.3,259.3 459.5,257.7 459.7,256.5 459.9,257.4 460.1,255.1 460.3,253.0 460.5,252.6 460.7,254.1 460.9,250.5 461.1,250.0 461.3,249.0 461.5,245.1 461.7,244.8 461.9,244.0 462.1,244.2 462.3,241.2 462.5,243.6 462.7,241.2 462.9,254.7 463.1,251.2 463.3,266.7 463.5,263.3 463.7,272.9 463.9,273.5 464.1,275.0 464.3,277.2 464.5,274.7 464.7,275.0 464.9,272.9 465.1,271.2 465.3,272.3 465.5,272.7 465.7,273.6 465.9,273.0 466.1,272.6 466.3,275.5 466.5,273.9 466.7,272.8 466.9,275.7 467.1,275.6 467.3,271.3 467.5,274.9 467.7,267.7 467.9,270.4 468.1,273.4 468.3,271.8 468.5,273.8 468.7,270.7 468.9,272.5 469.1,272.7 469.3,273.0 469.5,275.7 469.7,272.5 469.9,272.8 470.1,272.0 470.3,271.0 470.5,271.1 470.7,274.5 470.9,272.6 471.1,272.8 471.3,270.1 471.5,270.3 471.7,273.8 471.9,273.8 472.1,273.4 472.3,273.2 472.5,271.5 472.7,274.9 472.9,277.1 473.1,273.5 473.3,270.8 473.5,273.8 473.7,269.4 473.9,272.2 474.1,273.1 474.3,272.7 474.5,275.2 474.7,274.0 474.9,271.2 475.1,271.2 475.3,270.8 475.5,266.2 475.7,274.0 475.9,274.6 476.1,273.6 476.3,273.4 476.5,270.5 476.7,273.1 476.9,271.3 477.1,273.8 477.3,272.7 477.5,274.0 477.7,272.2 477.9,270.1 478.1,273.7 478.3,271.2 478.5,270.9 478.7,273.6 478.9,269.3 479.1,269.3 479.3,273.6 479.5,275.3 479.7,266.8 479.9,270.4 480.1,267.1 480.3,267.1 480.5,272.8 480.7,271.7 480.9,270.4 481.1,267.1 481.3,268.7 481.5,269.0 481.7,272.0 481.9,270.8 482.1,266.4 482.3,269.9 482.5,272.9 482.7,268.5 482.9,269.9 483.1,268.8 483.3,268.8 483.5,270.2 483.7,271.8 483.9,271.1 484.1,268.6 484.3,269.8 484.5,268.4 484.7,272.4 484.9,271.9 485.1,272.7 485.3,269.4 485.5,270.7 485.7,268.2 485.9,270.0 486.1,264.6 486.3,268.9 486.5,268.4 486.7,263.9 486.9,264.9 487.1,263.1 487.3,268.3 487.5,268.2 487.7,265.5 487.9,266.2 488.1,266.0 488.3,267.6 488.5,265.4 488.7,264.7 488.9,266.2 489.1,268.8 489.3,267.2 489.5,268.8 489.7,264.9 489.9,267.4 490.1,269.4 490.3,264.3 490.5,263.1 490.7,265.7 490.9,260.2 491.1,261.0 491.3,260.2 491.5,262.5 491.7,263.3 491.9,260.7 492.1,261.5 492.3,254.4 492.5,255.8 492.7,257.9 492.9,255.5 493.1,258.3 493.3,254.5 493.5,252.2 493.7,253.4 493.9,252.3 494.1,249.2 494.3,248.9 494.5,242.0 494.7,249.2 494.9,243.7 495.1,242.8 495.3,242.7 495.5,240.7 495.7,239.6 495.9,240.6 496.1,252.4 496.3,253.9 496.5,262.3 496.7,264.4 496.9,268.4 497.1,270.5 497.3,271.5 497.5,277.2 497.7,272.6 497.9,271.7 498.1,277.2 498.3,274.0 498.5,271.7 498.7,273.1 498.9,274.8 499.1,272.9 499.3,271.5 499.5,272.0 499.7,273.1 499.9,272.0 500.1,274.3 500.3,273.2 500.5,273.4 500.7,274.6 500.9,274.5 501.1,274.1 501.3,270.9 501.5,274.3 501.7,268.0 501.9,273.2 502.1,271.6 502.3,271.6 502.5,272.0 502.7,273.7 502.9,272.2 503.1,272.2 503.3,274.0 503.5,274.0 503.7,271.9 503.9,272.1 504.1,272.5 504.3,274.2 504.5,273.9 504.7,276.0 504.9,274.5 505.1,270.3 505.3,272.0 505.5,275.5 505.7,271.5 505.9,271.5 506.1,271.9 506.3,271.4 506.5,269.2 506.7,266.0 506.9,267.7 507.1,273.2 507.3,274.3 507.5,271.0 507.7,272.2 507.9,269.7 508.1,271.9 508.3,272.3 508.5,269.3 508.7,272.0 508.9,270.7 509.1,270.1 509.3,268.5 509.5,262.7 509.7,269.2 509.9,272.3 510.1,272.6 510.3,274.2 510.5,268.6 510.7,269.8 510.9,268.2 511.1,271.2 511.3,272.1 511.5,270.4 511.7,270.9 511.9,271.2 512.1,272.1 512.3,268.5 512.5,271.1 512.7,270.9 512.9,267.8 513.1,268.2 513.3,271.9 513.5,274.3 513.7,269.3 513.9,273.0 514.1,272.5 514.3,266.0 514.5,269.3 514.7,268.8 514.9,271.7 515.1,273.5 515.3,269.3 515.5,270.2 515.7,267.4 515.9,269.6 516.1,271.5 516.3,268.1 516.5,268.6 516.7,268.7 516.9,266.9 517.1,265.9 517.3,272.1 517.5,269.3 517.7,268.2 517.9,261.9 518.1,265.8 518.3,267.7 518.5,267.3 518.7,270.9 518.9,268.4 519.1,267.4 519.3,272.0 519.5,268.9 519.7,261.0 519.9,263.1 520.1,266.7 520.3,268.7 520.5,267.6 520.7,267.1 520.9,265.4 521.1,258.5 521.3,264.9 521.5,261.7 521.7,257.5 521.9,257.9 522.1,261.0 522.3,265.5 522.5,261.7 522.7,258.2 522.9,257.8 523.1,258.5 523.3,255.0 523.5,256.4 523.7,252.5 523.9,256.1 524.1,254.7 524.3,252.7 524.5,249.8 524.7,254.0 524.9,245.9 525.1,241.4 525.3,250.0 525.5,246.1 525.7,244.4 525.9,247.4 526.1,242.2 526.3,244.8 526.5,241.6 526.7,243.6 526.9,253.1 527.1,253.0 527.3,263.5 527.5,265.5 527.7,272.4 527.9,273.6 528.1,272.9 528.3,275.1 528.5,277.2 528.7,276.3 528.9,276.6 529.1,275.7 529.3,277.2 529.5,274.9 529.7,275.7 529.9,268.6 530.1,270.7 530.3,271.4 530.5,271.5 530.7,274.0 530.9,273.7 531.1,269.6 531.3,269.2 531.5,271.1 531.7,271.1 531.9,269.5 532.1,275.3 532.3,273.9 532.5,273.4 532.7,275.9 532.9,272.8 533.1,273.3 533.3,269.9 533.5,273.0 533.7,270.6 533.9,271.2 534.1,274.2 534.3,276.8 534.5,273.9 534.7,272.0 534.9,270.2 535.1,270.4 535.3,271.9 535.5,273.3 535.7,273.3 535.9,272.0 536.1,272.3 536.3,272.7 536.5,270.9 536.7,272.5 536.9,271.6 537.1,273.9 537.3,274.1 537.5,269.2 537.7,271.2 537.9,268.9 538.1,268.5 538.3,266.1 538.5,271.7 538.7,270.3 538.9,272.0 539.1,271.7 539.3,269.5 539.5,266.5 539.7,271.1 539.9,268.1 540.1,274.7 540.3,275.4 540.5,269.8 540.7,271.2 540.9,272.1 541.1,274.7 541.3,268.6 541.5,269.3 541.7,269.3 541.9,268.8 542.1,271.2 542.3,268.9 542.5,269.6 542.7,273.2 542.9,270.3 543.1,270.8 543.3,265.9 543.5,268.3 543.7,275.1 543.9,269.5 544.1,271.5 544.3,272.1 544.5,270.3 544.7,268.4 544.9,269.6 545.1,271.9 545.3,266.7 545.5,267.9 545.7,267.7 545.9,270.5 546.1,267.7 546.3,271.2 546.5,264.7 546.7,265.2 546.9,271.1 547.1,272.5 547.3,269.2 547.5,269.3 547.7,267.3 547.9,268.3 548.1,270.9 548.3,267.8 548.5,260.2 548.7,267.4 548.9,272.5 549.1,271.0 549.3,270.8 549.5,267.2 549.7,265.7 549.9,265.0 550.1,266.8 550.3,267.3 550.5,267.5 550.7,267.9 550.9,258.5 551.1,262.3 551.3,264.2 551.5,269.3 551.7,259.3 551.9,261.7 552.1,261.9 552.3,263.2 552.5,259.6 552.7,260.4 552.9,258.5 553.1,255.3 553.3,258.0 553.5,261.6 553.7,256.5 553.9,255.5 554.1,253.3 554.3,253.2 554.5,252.5 554.7,251.6 554.9,253.9 555.1,251.3 555.3,250.6 555.5,248.2 555.7,248.0 555.9,242.4 556.1,242.4 556.3,247.4 556.5,243.7 556.7,244.4 556.9,241.6 557.1,239.7 557.3,246.9 557.5,251.1 557.7,259.7 557.9,261.8 558.1,271.1 558.3,268.5 558.5,277.2 558.7,274.1 558.9,271.8 559.1,274.8 559.3,270.7 559.5,274.7 559.7,272.7 559.9,274.6 560.1,273.7 560.3,272.5 560.5,272.4 560.7,272.6 560.9,272.9 561.1,264.4 561.3,276.3 561.5,277.2 561.7,272.3 561.9,267.6 562.1,273.7 562.3,273.2 562.5,272.3 562.7,271.7 562.9,272.6 563.1,271.5 563.3,268.4 563.5,267.9 563.7,273.7 563.9,273.8 564.1,268.1 564.3,269.4 564.5,270.5 564.7,273.9 564.9,276.0 565.1,271.5 565.3,267.1 565.5,271.3 565.7,272.6 565.9,274.8 566.1,269.8 566.3,272.6 566.5,274.1 566.7,273.9 566.9,277.2 567.1,274.2 567.3,271.5 567.5,272.0 567.7,273.2 567.9,270.4 568.1,268.3 568.3,273.3 568.5,271.0 568.7,273.9 568.9,274.4 569.1,272.1 569.3,269.7 569.5,266.1 569.7,273.8 569.9,271.0 570.1,272.6 570.3,269.9 570.5,272.9 570.7,272.7 570.9,267.5 571.1,266.2 571.3,267.9 571.5,270.8 571.7,270.0 571.9,268.0 572.1,271.6 572.3,273.6 572.5,265.7 572.7,268.2 572.9,269.1 573.1,270.9 573.3,267.4 573.5,269.4 573.7,273.2 573.9,270.7 574.1,269.6 574.3,271.5 574.5,265.3 574.7,263.5 574.9,266.7 575.1,262.4 575.3,270.9 575.5,269.4 575.7,269.6 575.9,271.3 576.1,273.0 576.3,273.6 576.5,267.7 576.7,270.5 576.9,271.3 577.1,269.6 577.3,266.5 577.5,271.0 577.7,269.4 577.9,269.1 578.1,270.6 578.3,271.3 578.5,270.3 578.7,268.2 578.9,271.9 579.1,267.2 579.3,267.0 579.5,265.9 579.7,272.3 579.9,268.7 580.1,272.9 580.3,270.8 580.5,266.7 580.7,269.0 580.9,269.6 581.1,269.3 581.3,271.5 581.5,270.4 581.7,268.1 581.9,266.8 582.1,264.7 582.3,266.1 582.5,272.9 582.7,273.9 582.9,270.6 583.1,270.1 583.3,260.0 583.5,261.0 583.7,265.8 583.9,271.1 584.1,270.7 584.3,270.9 584.5,266.7 584.7,270.4 584.9,267.4 585.1,267.6 585.3,265.7 585.5,263.9 585.7,269.6 585.9,260.2 586.1,269.0 586.3,268.1 586.5,269.7 586.7,269.7 586.9,267.7 587.1,269.7 587.3,267.3 587.5,268.0 587.7,268.9 587.9,269.2 588.1,270.1 588.3,268.8 588.5,270.0 588.7,265.9 588.9,266.2 589.1,263.8 589.3,267.3 589.5,267.3 589.7,265.0 589.9,266.5 590.1,267.4 590.3,268.2 590.5,263.6 590.7,261.3 590.9,264.3 591.1,266.2 591.3,265.4 591.5,266.0 591.7,261.4 591.9,264.4 592.1,267.1 592.3,265.4 592.5,264.1 592.7,266.2 592.9,263.3 593.1,264.3 593.3,263.3 593.5,264.3 593.7,258.0 593.9,257.7 594.1,262.2 594.3,261.9 594.5,262.6 594.7,260.4 594.9,261.7 595.1,263.4 595.3,253.6 595.5,258.8 595.7,258.1 595.9,257.9 596.1,258.8 596.3,258.1 596.5,257.3 596.7,256.4 596.9,253.8 597.1,254.5 597.3,253.2 597.5,254.6 597.7,252.0 597.9,250.1 598.1,249.5 598.3,252.3 598.5,246.9 598.7,250.1 598.9,246.0 599.1,249.8 599.3,246.0 599.5,246.5 599.7,241.9 599.9,248.0 600.1,242.0 600.3,247.0 600.5,244.2 600.7,244.6 600.9,244.0 601.1,243.9 601.3,254.5 601.5,256.2 601.7,263.7 601.9,266.7 602.1,272.2 602.3,274.1 602.5,277.2 602.7,274.9 602.9,276.0 603.1,274.7 603.3,272.9 603.5,274.0 603.7,274.2 603.9,275.2 604.1,274.5 604.3,271.7 604.5,274.3 604.7,277.0 604.9,274.1 605.1,272.4 605.3,273.4 605.5,274.4 605.7,276.3 605.9,277.0 606.1,275.4 606.3,272.1 606.5,273.6 606.7,274.0 606.9,273.4 607.1,273.5 607.3,274.7 607.5,274.8 607.7,275.5 607.9,270.8 608.1,274.1 608.3,271.3 608.5,271.9 608.7,273.9 608.9,271.3 609.1,271.2 609.3,272.6 609.5,272.3 609.7,272.3 609.9,272.8 610.1,274.9 610.3,271.1 610.5,271.8 610.7,272.7 610.9,270.4 611.1,272.4 611.3,274.3 611.5,276.8 611.7,273.9 611.9,269.5 612.1,271.0 612.3,273.6 612.5,272.9 612.7,273.0 612.9,275.0 613.1,274.2 613.3,271.9 613.5,273.2 613.7,271.7 613.9,272.8 614.1,273.5 614.3,271.3 614.5,272.6 614.7,271.0 614.9,263.8 615.1,271.6 615.3,271.0 615.5,267.9 615.7,274.2 615.9,273.4 616.1,273.7 616.3,274.9 616.5,271.3 616.7,269.9 616.9,271.2 617.1,270.2 617.3,271.5 617.5,271.6 617.7,272.0 617.9,268.6 618.1,269.8 618.3,269.9 618.5,267.5 618.7,272.1 618.9,268.4 619.1,267.8 619.3,272.0 619.5,273.6 619.7,267.2 619.9,268.4 620.1,269.9 620.3,268.3 620.5,272.8 620.7,272.2 620.9,271.3 621.1,270.2 621.3,266.0 621.5,270.0 621.7,271.0 621.9,268.5 622.1,271.0 622.3,269.4 622.5,267.0 622.7,273.2 622.9,267.4 623.1,266.9 623.3,270.2 623.5,270.0 623.7,273.3 623.9,267.3 624.1,268.6 624.3,268.1 624.5,272.0 624.7,271.3 624.9,268.9 625.1,271.4 625.3,269.9 625.5,270.0 625.7,270.4 625.9,271.9 626.1,269.6 626.3,268.8 626.5,263.0 626.7,267.8 626.9,269.6 627.1,267.1 627.3,272.4 627.5,269.3 627.7,265.2 627.9,264.7 628.1,264.6 628.3,263.6 628.5,270.2 628.7,270.7 628.9,269.8 629.1,266.7 629.3,270.3 629.5,270.8 629.7,268.2 629.9,265.5 630.1,269.7 630.3,268.8 630.5,266.8 630.7,269.5 630.9,268.5 631.1,269.7 631.3,269.3 631.5,269.3 631.7,269.0 631.9,265.9 632.1,268.6 632.3,266.7 632.5,263.5 632.7,259.1 632.9,267.3 633.1,269.3 633.3,267.2 633.5,269.1 633.7,263.3 633.9,265.3 634.1,265.9 634.3,267.2 634.5,271.7 634.7,268.7 634.9,267.6 635.1,265.9 635.3,265.8 635.5,267.1 635.7,266.8 635.9,268.7 636.1,257.6 636.3,263.6 636.5,269.5 636.7,267.8 636.9,268.3 637.1,266.3 637.3,266.2 637.5,267.7 637.7,272.7 637.9,268.3 638.1,269.7 638.3,267.1 638.5,268.8 638.7,264.9 638.9,266.7 639.1,268.4 639.3,269.1 639.5,268.3 639.7,269.1 639.9,264.0 640.1,267.1 640.3,266.4 640.5,267.0 640.7,270.5 640.9,263.5 641.1,261.8 641.3,266.0 641.5,265.8 641.7,264.3 641.9,268.1 642.1,267.8 642.3,266.7 642.5,265.2 642.7,265.6 642.9,265.9 643.1,265.7 643.3,260.2 643.5,258.0 643.7,260.7 643.9,264.0 644.1,259.1 644.3,259.9 644.5,258.6 644.7,258.4 644.9,259.8 645.1,259.7 645.3,260.1 645.5,257.2 645.7,261.1 645.9,258.2 646.1,257.0 646.3,257.8 646.5,255.7 646.7,256.7 646.9,256.9 647.1,251.6 647.3,250.8 647.5,256.0 647.7,251.1 647.9,251.9 648.1,251.1 648.3,251.4 648.5,250.2 648.7,248.5 648.9,249.2 649.1,251.0 649.3,245.0 649.5,241.4 649.7,241.3 649.9,244.0 650.1,241.3 650.3,245.4" fill="none" stroke="#555" stroke-width="0.5" stroke-linejoin="round"/>
<polyline points="382.1,272.0 382.5,273.8 382.9,267.7 383.3,273.2 383.7,274.3 384.1,277.2 384.5,273.2 384.9,275.1 385.3,275.7 385.7,273.6 386.1,275.9 386.5,274.4 386.9,275.3 387.3,273.0 387.7,273.3 388.1,270.4 388.5,271.6 388.9,269.8 389.3,271.1 389.7,270.8 390.1,268.8 390.5,270.6 390.9,269.1 391.3,270.3 391.7,270.8 392.1,268.2 392.5,270.4 392.9,268.2 393.3,270.1 393.7,266.5 394.1,266.7 394.5,267.2 394.9,265.9 395.3,258.5 395.7,260.8 396.1,259.0 396.5,256.9 396.9,254.7 397.3,252.3 397.7,249.8 398.1,247.1 398.5,244.3 398.9,241.5 399.3,250.0 399.7,261.1 400.1,269.2 400.5,274.3 400.9,275.1 401.3,274.8 401.7,269.7 402.1,273.3 402.5,276.2 402.9,271.0 403.3,271.3 403.7,272.6 404.1,269.6 404.5,272.6 404.9,276.1 405.3,272.1 405.7,273.6 406.1,271.8 406.5,272.5 406.9,271.4 407.3,273.6 407.7,274.1 408.1,269.0 408.5,272.4 408.9,272.4 409.3,273.8 409.7,272.8 410.1,271.1 410.5,271.2 410.9,270.7 411.3,269.3 411.7,271.0 412.1,271.1 412.5,270.6 412.9,272.6 413.3,271.4 413.7,271.0 414.1,270.9 414.5,271.8 414.9,271.4 415.3,268.9 415.7,269.8 416.1,272.5 416.5,271.1 416.9,271.4 417.3,269.7 417.7,270.6 418.1,271.0 418.5,272.0 418.9,269.7 419.3,271.9 419.7,269.5 420.1,270.2 420.5,269.5 420.9,270.5 421.3,267.3 421.7,265.2 422.1,271.4 422.5,266.6 422.9,269.3 423.3,267.9 423.7,267.2 424.1,266.4 424.5,267.1 424.9,266.8 425.3,265.8 425.7,264.6 426.1,266.0 426.5,261.6 426.9,263.2 427.3,259.7 427.7,257.9 428.1,255.9 428.5,253.7 428.9,251.4 429.3,248.8 429.7,246.2 430.1,243.5 430.5,240.6 430.9,253.0 431.3,263.5 431.7,270.6 432.1,275.0 432.5,274.0 432.9,273.4 433.3,273.7 433.7,273.7 434.1,272.3 434.5,274.4 434.9,272.0 435.3,273.4 435.7,275.5 436.1,268.5 436.5,273.7 436.9,273.1 437.3,272.2 437.7,273.0 438.1,273.4 438.5,273.0 438.9,275.6 439.3,270.2 439.7,272.3 440.1,273.4 440.5,271.5 440.9,271.8 441.3,273.2 441.7,273.1 442.1,272.6 442.5,272.3 442.9,272.1 443.3,270.7 443.7,270.7 444.1,272.0 444.5,270.0 444.9,272.2 445.3,266.1 445.7,270.8 446.1,272.9 446.5,269.2 446.9,271.1 447.3,270.0 447.7,271.3 448.1,269.1 448.5,269.6 448.9,264.8 449.3,270.9 449.7,267.9 450.1,272.0 450.5,266.4 450.9,271.5 451.3,271.3 451.7,271.1 452.1,264.5 452.5,263.1 452.9,269.2 453.3,270.0 453.7,269.3 454.1,268.7 454.5,269.1 454.9,268.2 455.3,266.7 455.7,263.0 456.1,267.8 456.5,264.7 456.9,266.6 457.3,264.9 457.7,262.3 458.1,261.4 458.5,255.1 458.9,260.1 459.3,258.4 459.7,256.6 460.1,254.6 460.5,252.5 460.9,250.2 461.3,247.7 461.7,245.2 462.1,242.6 462.5,243.8 462.9,255.9 463.3,265.6 463.7,271.8 464.1,275.9 464.5,274.0 464.9,274.9 465.3,275.2 465.7,274.0 466.1,274.9 466.5,273.6 466.9,275.6 467.3,273.1 467.7,269.6 468.1,273.1 468.5,273.9 468.9,273.5 469.3,272.7 469.7,272.1 470.1,272.3 470.5,271.8 470.9,272.4 471.3,271.3 471.7,273.7 472.1,272.6 472.5,273.2 472.9,274.4 473.3,271.7 473.7,272.1 474.1,272.7 474.5,272.6 474.9,271.3 475.3,267.8 475.7,272.4 476.1,271.2 476.5,272.4 476.9,272.3 477.3,271.3 477.7,271.5 478.1,272.5 478.5,270.4 478.9,270.7 479.3,272.5 479.7,266.9 480.1,269.2 480.5,271.8 480.9,269.7 481.3,268.9 481.7,270.3 482.1,267.3 482.5,271.0 482.9,270.7 483.3,269.2 483.7,268.4 484.1,269.1 484.5,268.9 484.9,271.1 485.3,270.9 485.7,268.7 486.1,267.3 486.5,267.6 486.9,264.1 487.3,268.1 487.7,266.3 488.1,267.2 488.5,264.2 488.9,266.5 489.3,267.8 489.7,264.2 490.1,265.4 490.5,264.0 490.9,259.9 491.3,261.9 491.7,260.3 492.1,258.9 492.5,257.3 492.9,255.6 493.3,253.7 493.7,251.8 494.1,249.7 494.5,247.5 494.9,245.3 495.3,243.0 495.7,240.6 496.1,253.0 496.5,263.5 496.9,270.6 497.3,273.1 497.7,273.1 498.1,275.5 498.5,273.9 498.9,274.0 499.3,272.8 499.7,273.8 500.1,274.0 500.5,273.6 500.9,274.8 501.3,273.3 501.7,271.5 502.1,271.2 502.5,274.1 502.9,272.2 503.3,275.0 503.7,273.0 504.1,271.6 504.5,272.6 504.9,273.9 505.3,272.8 505.7,269.9 506.1,271.2 506.5,269.4 506.9,270.6 507.3,273.2 507.7,272.6 508.1,273.0 508.5,270.5 508.9,269.6 509.3,270.0 509.7,270.3 510.1,273.0 510.5,269.5 510.9,269.7 511.3,271.7 511.7,271.3 512.1,270.4 512.5,269.4 512.9,270.2 513.3,271.7 513.7,271.4 514.1,272.4 514.5,269.3 514.9,271.0 515.3,270.7 515.7,269.8 516.1,268.9 516.5,269.6 516.9,266.3 517.3,269.4 517.7,264.8 518.1,268.5 518.5,268.0 518.9,267.3 519.3,270.0 519.7,263.5 520.1,266.8 520.5,266.6 520.9,266.2 521.3,264.1 521.7,260.0 522.1,261.8 522.5,260.0 522.9,258.5 523.3,256.9 523.7,255.1 524.1,253.3 524.5,251.3 524.9,249.2 525.3,247.0 525.7,244.7 526.1,242.4 526.5,243.8 526.9,255.9 527.3,265.6 527.7,271.8 528.1,274.6 528.5,276.7 528.9,275.9 529.3,275.4 529.7,272.0 530.1,272.0 530.5,272.7 530.9,272.0 531.3,271.9 531.7,274.0 532.1,274.5 532.5,273.7 532.9,274.2 533.3,270.4 533.7,272.3 534.1,274.5 534.5,272.8 534.9,271.0 535.3,273.6 535.7,272.1 536.1,272.7 536.5,271.2 536.9,272.0 537.3,270.7 537.7,271.5 538.1,268.4 538.5,269.1 538.9,270.1 539.3,270.3 539.7,269.8 540.1,272.9 540.5,270.3 540.9,272.3 541.3,267.7 541.7,271.4 542.1,271.3 542.5,271.5 542.9,270.9 543.3,271.4 543.7,270.6 544.1,269.3 544.5,269.8 544.9,270.4 545.3,268.6 545.7,269.5 546.1,270.6 546.5,266.5 546.9,271.4 547.3,269.7 547.7,267.3 548.1,269.1 548.5,267.3 548.9,269.2 549.3,268.5 549.7,267.0 550.1,267.3 550.5,266.2 550.9,261.1 551.3,263.6 551.7,261.6 552.1,261.9 552.5,260.5 552.9,259.2 553.3,257.8 553.7,256.3 554.1,254.7 554.5,253.0 554.9,251.2 555.3,249.3 555.7,247.4 556.1,245.4 556.5,243.3 556.9,241.1 557.3,250.0 557.7,261.1 558.1,269.2 558.5,275.9 558.9,274.3 559.3,274.8 559.7,276.1 560.1,273.6 560.5,272.3 560.9,272.5 561.3,276.3 561.7,273.1 562.1,273.9 562.5,272.5 562.9,272.9 563.3,271.4 563.7,273.0 564.1,269.9 564.5,272.9 564.9,274.1 565.3,269.8 565.7,271.9 566.1,273.2 566.5,272.9 566.9,275.5 567.3,271.9 567.7,272.8 568.1,273.0 568.5,271.1 568.9,271.7 569.3,269.6 569.7,272.3 570.1,269.3 570.5,273.6 570.9,268.1 571.3,271.2 571.7,268.3 572.1,271.8 572.5,268.3 572.9,271.2 573.3,269.1 573.7,271.3 574.1,271.1 574.5,266.0 574.9,269.4 575.3,269.3 575.7,270.4 576.1,270.9 576.5,268.1 576.9,270.0 577.3,270.1 577.7,270.1 578.1,270.9 578.5,269.1 578.9,270.3 579.3,268.2 579.7,269.8 580.1,270.0 580.5,268.3 580.9,268.9 581.3,269.5 581.7,267.9 582.1,268.4 582.5,270.1 582.9,270.0 583.3,262.5 583.7,267.5 584.1,268.3 584.5,269.1 584.9,268.4 585.3,266.3 585.7,268.3 586.1,269.3 586.5,270.8 586.9,268.8 587.3,267.4 587.7,269.1 588.1,267.7 588.5,268.5 588.9,265.6 589.3,267.7 589.7,267.8 590.1,267.9 590.5,262.6 590.9,267.0 591.3,266.1 591.7,262.8 592.1,266.7 592.5,266.4 592.9,266.2 593.3,263.0 593.7,257.0 594.1,262.6 594.5,262.1 594.9,260.6 595.3,259.6 595.7,258.6 596.1,257.5 596.5,256.4 596.9,255.1 597.3,253.8 597.7,252.5 598.1,251.1 598.5,249.7 598.9,248.2 599.3,246.6 599.7,245.1 600.1,243.5 600.5,241.8 600.9,243.8 601.3,255.9 601.7,265.6 602.1,271.8 602.5,277.2 602.9,275.5 603.3,275.4 603.7,275.1 604.1,274.7 604.5,274.6 604.9,274.4 605.3,273.7 605.7,276.9 606.1,273.7 606.5,274.8 606.9,273.1 607.3,274.4 607.7,273.4 608.1,272.0 608.5,272.5 608.9,270.9 609.3,272.4 609.7,274.7 610.1,271.7 610.5,272.9 610.9,271.8 611.3,275.2 611.7,273.2 612.1,272.2 612.5,272.1 612.9,273.6 613.3,271.7 613.7,272.9 614.1,272.4 614.5,270.7 614.9,270.8 615.3,270.9 615.7,272.2 616.1,273.2 616.5,270.2 616.9,271.8 617.3,270.7 617.7,270.7 618.1,269.7 618.5,271.8 618.9,270.3 619.3,272.7 619.7,268.1 620.1,269.9 620.5,269.9 620.9,270.1 621.3,269.6 621.7,271.0 622.1,269.7 622.5,270.6 622.9,268.9 623.3,269.0 623.7,270.2 624.1,268.3 624.5,270.5 624.9,269.7 625.3,269.8 625.7,269.4 626.1,269.4 626.5,270.3 626.9,269.1 627.3,268.7 627.7,266.8 628.1,267.3 628.5,269.5 628.9,268.0 629.3,269.7 629.7,269.6 630.1,268.7 630.5,268.8 630.9,268.9 631.3,268.7 631.7,269.9 632.1,267.7 632.5,262.2 632.9,268.6 633.3,268.3 633.7,265.5 634.1,268.7 634.5,270.3 634.9,267.4 635.3,266.6 635.7,267.4 636.1,264.6 636.5,269.3 636.9,267.9 637.3,268.1 637.7,269.0 638.1,267.0 638.5,267.2 638.9,266.6 639.3,268.0 639.7,267.0 640.1,266.0 640.5,268.4 640.9,263.0 641.3,265.5 641.7,266.6 642.1,267.5 642.5,265.4 642.9,264.1 643.3,260.1 643.7,263.7 644.1,260.1 644.5,259.8 644.9,260.6 645.3,259.6 645.7,258.6 646.1,257.5 646.5,256.4 646.9,255.1 647.3,253.8 647.7,252.5 648.1,251.1 648.5,249.7 648.9,248.2 649.3,246.6 649.7,245.1 650.1,243.5" fill="none" stroke="#000" stroke-width="1" stroke-linejoin="round"/>
<polyline points="382.1,273.2 383.3,273.2 384.5,274.3 385.7,275.1 386.9,273.6 388.1,271.6 389.3,270.6 390.5,270.6 391.7,270.3 392.9,268.2 394.1,266.7 395.3,260.8 396.5,256.9 397.7,249.8 398.9,249.8 400.1,269.2 401.3,274.3 402.5,272.6 403.7,272.6 404.9,272.6 406.1,272.5 407.3,272.4 408.5,272.8 409.7,272.4 410.9,271.1 412.1,271.0 413.3,271.1 414.5,271.0 415.7,271.4 416.9,271.0 418.1,271.0 419.3,270.2 420.5,269.5 421.7,269.3 422.9,267.2 424.1,267.1 425.3,266.0 426.5,263.2 427.7,257.9 428.9,251.4 430.1,248.8 431.3,263.5 432.5,273.7 433.7,273.7 434.9,273.4 436.1,273.1 437.3,273.0 438.5,273.0 439.7,272.3 440.9,272.6 442.1,272.3 443.3,272.0 444.5,270.7 445.7,270.8 446.9,270.8 448.1,270.0 449.3,269.1 450.5,271.1 451.7,269.2 452.9,269.2 454.1,269.1 455.3,267.8 456.5,264.9 457.7,262.3 458.9,258.4 460.1,254.6 461.3,247.7 462.5,247.7 463.7,271.8 464.9,274.9 466.1,274.9 467.3,273.6 468.5,273.1 469.7,272.4 470.9,272.3 472.1,272.6 473.3,272.6 474.5,272.1 475.7,272.3 476.9,272.3 478.1,271.5 479.3,270.7 480.5,269.7 481.7,270.3 482.9,269.2 484.1,269.2 485.3,268.9 486.5,267.6 487.7,266.5 488.9,266.3 490.1,264.2 491.3,260.3 492.5,257.3 493.7,251.8 494.9,247.5 496.1,253.0 497.3,273.1 498.5,273.8 499.7,273.9 500.9,273.6 502.1,273.3 503.3,272.6 504.5,272.8 505.7,271.2 506.9,271.2 508.1,270.6 509.3,270.3 510.5,270.3 511.7,270.2 512.9,271.3 514.1,271.0 515.3,269.8 516.5,269.4 517.7,268.0 518.9,267.3 520.1,266.6 521.3,264.1 522.5,260.0 523.7,255.1 524.9,249.2 526.1,247.0 527.3,265.6 528.5,274.6 529.7,272.7 530.9,272.0 532.1,273.7 533.3,273.7 534.5,272.3 535.7,272.1 536.9,271.5 538.1,270.3 539.3,270.1 540.5,270.3 541.7,271.3 542.9,271.3 544.1,270.4 545.3,269.5 546.5,269.5 547.7,269.1 548.9,267.3 550.1,267.0 551.3,261.9 552.5,260.5 553.7,256.3 554.9,251.2 556.1,247.4 557.3,250.0 558.5,274.3 559.7,274.3 560.9,273.6 562.1,272.9 563.3,272.9 564.5,271.9 565.7,272.9 566.9,272.9 568.1,271.9 569.3,271.7 570.5,269.6 571.7,271.2 572.9,271.1 574.1,269.4 575.3,269.4 576.5,270.1 577.7,270.1 578.9,270.0 580.1,269.5 581.3,268.9 582.5,268.4 583.7,268.4 584.9,268.3 586.1,268.4 587.3,268.8 588.5,267.7 589.7,267.7 590.9,266.7 592.1,266.2 593.3,263.0 594.5,260.6 595.7,258.6 596.9,255.1 598.1,251.1 599.3,246.6 600.5,245.1 601.7,265.6 602.9,275.1 604.1,274.7 605.3,274.6 606.5,273.7 607.7,273.1 608.9,272.4 610.1,272.4 611.3,272.2 612.5,272.9 613.7,272.1 614.9,272.2 616.1,270.9 617.3,270.7 618.5,270.7 619.7,270.1 620.9,269.9 622.1,269.7 623.3,269.7 624.5,269.7 625.7,269.7 626.9,269.1 628.1,268.7 629.3,268.8 630.5,268.9 631.7,268.7 632.9,268.3 634.1,268.3 635.3,267.4 636.5,267.9 637.7,267.9 638.9,267.0 640.1,266.6 641.3,266.0 642.5,265.4 643.7,260.6 644.9,259.8 646.1,257.5 647.3,253.8 648.5,249.7 649.7,246.6" fill="none" stroke="#000" stroke-width="1.3" stroke-linejoin="round"/>
<rect x="381.3" y="237.8" width="269.7" height="40.2" fill="none" stroke="#000" stroke-width="1.5"/>
<line x1="381.30" y1="250.60" x2="387.30" y2="250.60" stroke="#000" stroke-width="1.1" />
<line x1="381.30" y1="269.75" x2="384.30" y2="269.75" stroke="#000" stroke-width="0.7" />
<line x1="381.30" y1="264.93" x2="384.30" y2="264.93" stroke="#000" stroke-width="0.7" />
<line x1="381.30" y1="261.50" x2="384.30" y2="261.50" stroke="#000" stroke-width="0.7" />
<line x1="381.30" y1="258.85" x2="384.30" y2="258.85" stroke="#000" stroke-width="0.7" />
<line x1="381.30" y1="256.68" x2="384.30" y2="256.68" stroke="#000" stroke-width="0.7" />
<line x1="381.30" y1="254.84" x2="384.30" y2="254.84" stroke="#000" stroke-width="0.7" />
<line x1="381.30" y1="253.26" x2="384.30" y2="253.26" stroke="#000" stroke-width="0.7" />
<line x1="381.30" y1="251.85" x2="384.30" y2="251.85" stroke="#000" stroke-width="0.7" />
<line x1="381.30" y1="242.35" x2="384.30" y2="242.35" stroke="#000" stroke-width="0.7" />
<text x="355.0" y="257.0" font-size="11.5" text-anchor="start" fill="#000" >10</text>
<text x="368.5" y="248.3" font-size="8.2" text-anchor="start" fill="#000" >−1</text>
<text x="355.0" y="284.5" font-size="11.5" text-anchor="start" fill="#000" >10</text>
<text x="368.5" y="275.8" font-size="8.2" text-anchor="start" fill="#000" >−2</text>
<text transform="translate(353,259.5) rotate(-90)" font-size="7.6" text-anchor="middle">(arb. units)</text>
<text x="380.8" y="288.6" font-size="11.6" text-anchor="middle" fill="#000" >4300</text>
<line x1="448.73" y1="278.00" x2="448.73" y2="275.00" stroke="#000" stroke-width="1" />
<text x="448.2" y="288.6" font-size="11.6" text-anchor="middle" fill="#000" >4350</text>
<line x1="516.15" y1="278.00" x2="516.15" y2="275.00" stroke="#000" stroke-width="1" />
<text x="515.6" y="288.6" font-size="11.6" text-anchor="middle" fill="#000" >4400</text>
<line x1="583.58" y1="278.00" x2="583.58" y2="275.00" stroke="#000" stroke-width="1" />
<text x="583.1" y="288.6" font-size="11.6" text-anchor="middle" fill="#000" >4450</text>
<text x="650.5" y="288.6" font-size="11.6" text-anchor="middle" fill="#000" >4500</text>
<text x="398.5" y="232.0" font-size="14.3" text-anchor="middle" fill="#000" >(c)</text>
<text x="522.5" y="232.2" font-size="18.1" text-anchor="middle" fill="#000" font-style="italic">time(ms)</text>
<g>
<line x1="468.6" y1="348.0" x2="468.6" y2="358.6" stroke="#00bfbf" stroke-opacity="0.2" stroke-width="1.3"/>
<circle cx="468.6" cy="353.3" r="2.5" fill="#00bfbf" fill-opacity="0.25"/>
<line x1="525.1" y1="371.4" x2="525.1" y2="384.3" stroke="#00bfbf" stroke-opacity="0.2" stroke-width="1.3"/>
<circle cx="525.1" cy="377.8" r="2.5" fill="#00bfbf" fill-opacity="0.25"/>
<line x1="397.8" y1="328.9" x2="397.8" y2="342.4" stroke="#00bfbf" stroke-opacity="0.2" stroke-width="1.3"/>
<circle cx="397.8" cy="335.7" r="2.5" fill="#00bfbf" fill-opacity="0.25"/>
<line x1="400.9" y1="332.6" x2="400.9" y2="343.3" stroke="#00bfbf" stroke-opacity="0.2" stroke-width="1.3"/>
<circle cx="400.9" cy="337.9" r="2.5" fill="#00bfbf" fill-opacity="0.25"/>
<line x1="495.4" y1="349.0" x2="495.4" y2="360.8" stroke="#00bfbf" stroke-opacity="0.2" stroke-width="1.3"/>
<circle cx="495.4" cy="354.9" r="2.5" fill="#00bfbf" fill-opacity="0.25"/>
<line x1="549.4" y1="384.4" x2="549.4" y2="402.0" stroke="#00bfbf" stroke-opacity="0.2" stroke-width="1.3"/>
<circle cx="549.4" cy="393.2" r="2.5" fill="#00bfbf" fill-opacity="0.25"/>
<line x1="536.0" y1="359.3" x2="536.0" y2="369.6" stroke="#00bfbf" stroke-opacity="0.2" stroke-width="1.3"/>
<circle cx="536.0" cy="364.5" r="2.5" fill="#00bfbf" fill-opacity="0.25"/>
<line x1="611.0" y1="478.8" x2="611.0" y2="491.1" stroke="#00bfbf" stroke-opacity="0.2" stroke-width="1.3"/>
<circle cx="611.0" cy="484.9" r="2.5" fill="#00bfbf" fill-opacity="0.25"/>
<line x1="420.7" y1="336.9" x2="420.7" y2="353.4" stroke="#00bfbf" stroke-opacity="0.2" stroke-width="1.3"/>
<circle cx="420.7" cy="345.2" r="2.5" fill="#00bfbf" fill-opacity="0.25"/>
<line x1="430.4" y1="338.6" x2="430.4" y2="353.2" stroke="#00bfbf" stroke-opacity="0.2" stroke-width="1.3"/>
<circle cx="430.4" cy="345.9" r="2.5" fill="#00bfbf" fill-opacity="0.25"/>
<line x1="552.5" y1="388.9" x2="552.5" y2="399.4" stroke="#00bfbf" stroke-opacity="0.2" stroke-width="1.3"/>
<circle cx="552.5" cy="394.1" r="2.5" fill="#00bfbf" fill-opacity="0.25"/>
<line x1="398.2" y1="338.7" x2="398.2" y2="350.4" stroke="#00bfbf" stroke-opacity="0.2" stroke-width="1.3"/>
<circle cx="398.2" cy="344.6" r="2.5" fill="#00bfbf" fill-opacity="0.25"/>
<line x1="563.6" y1="403.8" x2="563.6" y2="418.5" stroke="#00bfbf" stroke-opacity="0.2" stroke-width="1.3"/>
<circle cx="563.6" cy="411.2" r="2.5" fill="#00bfbf" fill-opacity="0.25"/>
<line x1="503.0" y1="352.5" x2="503.0" y2="364.9" stroke="#00bfbf" stroke-opacity="0.2" stroke-width="1.3"/>
<circle cx="503.0" cy="358.7" r="2.5" fill="#00bfbf" fill-opacity="0.25"/>
<line x1="593.9" y1="449.7" x2="593.9" y2="464.3" stroke="#00bfbf" stroke-opacity="0.2" stroke-width="1.3"/>
<circle cx="593.9" cy="457.0" r="2.5" fill="#00bfbf" fill-opacity="0.25"/>
<line x1="522.2" y1="352.4" x2="522.2" y2="369.4" stroke="#00bfbf" stroke-opacity="0.2" stroke-width="1.3"/>
<circle cx="522.2" cy="360.9" r="2.5" fill="#00bfbf" fill-opacity="0.25"/>
<line x1="576.6" y1="427.6" x2="576.6" y2="438.6" stroke="#00bfbf" stroke-opacity="0.2" stroke-width="1.3"/>
<circle cx="576.6" cy="433.1" r="2.5" fill="#00bfbf" fill-opacity="0.25"/>
<line x1="493.7" y1="365.1" x2="493.7" y2="381.1" stroke="#00bfbf" stroke-opacity="0.2" stroke-width="1.3"/>
<circle cx="493.7" cy="373.1" r="2.5" fill="#00bfbf" fill-opacity="0.25"/>
<line x1="422.8" y1="330.9" x2="422.8" y2="346.2" stroke="#00bfbf" stroke-opacity="0.2" stroke-width="1.3"/>
<circle cx="422.8" cy="338.5" r="2.5" fill="#00bfbf" fill-opacity="0.25"/>
<line x1="586.0" y1="442.8" x2="586.0" y2="457.4" stroke="#00bfbf" stroke-opacity="0.2" stroke-width="1.3"/>
<circle cx="586.0" cy="450.1" r="2.5" fill="#00bfbf" fill-opacity="0.25"/>
<line x1="615.5" y1="463.6" x2="615.5" y2="478.3" stroke="#00bfbf" stroke-opacity="0.2" stroke-width="1.3"/>
<circle cx="615.5" cy="470.9" r="2.5" fill="#00bfbf" fill-opacity="0.25"/>
<line x1="536.8" y1="385.5" x2="536.8" y2="399.1" stroke="#00bfbf" stroke-opacity="0.2" stroke-width="1.3"/>
<circle cx="536.8" cy="392.3" r="2.5" fill="#00bfbf" fill-opacity="0.25"/>
<line x1="606.1" y1="469.6" x2="606.1" y2="485.0" stroke="#00bfbf" stroke-opacity="0.2" stroke-width="1.3"/>
<circle cx="606.1" cy="477.3" r="2.5" fill="#00bfbf" fill-opacity="0.25"/>
<line x1="398.5" y1="327.1" x2="398.5" y2="342.7" stroke="#00bfbf" stroke-opacity="0.2" stroke-width="1.3"/>
<circle cx="398.5" cy="334.9" r="2.5" fill="#00bfbf" fill-opacity="0.25"/>
<line x1="554.7" y1="411.5" x2="554.7" y2="423.7" stroke="#00bfbf" stroke-opacity="0.2" stroke-width="1.3"/>
<circle cx="554.7" cy="417.6" r="2.5" fill="#00bfbf" fill-opacity="0.25"/>
<line x1="485.1" y1="342.2" x2="485.1" y2="357.6" stroke="#00bfbf" stroke-opacity="0.2" stroke-width="1.3"/>
<circle cx="485.1" cy="349.9" r="2.5" fill="#00bfbf" fill-opacity="0.25"/>
<line x1="388.3" y1="327.0" x2="388.3" y2="337.9" stroke="#00bfbf" stroke-opacity="0.2" stroke-width="1.3"/>
<circle cx="388.3" cy="332.4" r="2.5" fill="#00bfbf" fill-opacity="0.25"/>
<line x1="398.0" y1="330.8" x2="398.0" y2="346.9" stroke="#00bfbf" stroke-opacity="0.2" stroke-width="1.3"/>
<circle cx="398.0" cy="338.8" r="2.5" fill="#00bfbf" fill-opacity="0.25"/>
<line x1="416.8" y1="331.5" x2="416.8" y2="348.5" stroke="#00bfbf" stroke-opacity="0.2" stroke-width="1.3"/>
<circle cx="416.8" cy="340.0" r="2.5" fill="#00bfbf" fill-opacity="0.25"/>
<line x1="403.8" y1="339.0" x2="403.8" y2="352.6" stroke="#00bfbf" stroke-opacity="0.2" stroke-width="1.3"/>
<circle cx="403.8" cy="345.8" r="2.5" fill="#00bfbf" fill-opacity="0.25"/>
<line x1="528.7" y1="374.5" x2="528.7" y2="391.4" stroke="#00bfbf" stroke-opacity="0.2" stroke-width="1.3"/>
<circle cx="528.7" cy="383.0" r="2.5" fill="#00bfbf" fill-opacity="0.25"/>
<line x1="456.5" y1="329.1" x2="456.5" y2="342.4" stroke="#00bfbf" stroke-opacity="0.2" stroke-width="1.3"/>
<circle cx="456.5" cy="335.8" r="2.5" fill="#00bfbf" fill-opacity="0.25"/>
<line x1="477.9" y1="357.4" x2="477.9" y2="368.6" stroke="#00bfbf" stroke-opacity="0.2" stroke-width="1.3"/>
<circle cx="477.9" cy="363.0" r="2.5" fill="#00bfbf" fill-opacity="0.25"/>
<line x1="429.2" y1="322.9" x2="429.2" y2="334.8" stroke="#00bfbf" stroke-opacity="0.2" stroke-width="1.3"/>
<circle cx="429.2" cy="328.9" r="2.5" fill="#00bfbf" fill-opacity="0.25"/>
<line x1="444.5" y1="327.2" x2="444.5" y2="339.3" stroke="#00bfbf" stroke-opacity="0.2" stroke-width="1.3"/>
<circle cx="444.5" cy="333.3" r="2.5" fill="#00bfbf" fill-opacity="0.25"/>
<line x1="383.4" y1="330.7" x2="383.4" y2="344.0" stroke="#00bfbf" stroke-opacity="0.2" stroke-width="1.3"/>
<circle cx="383.4" cy="337.3" r="2.5" fill="#00bfbf" fill-opacity="0.25"/>
<line x1="480.7" y1="324.8" x2="480.7" y2="340.3" stroke="#00bfbf" stroke-opacity="0.2" stroke-width="1.3"/>
<circle cx="480.7" cy="332.6" r="2.5" fill="#00bfbf" fill-opacity="0.25"/>
<line x1="519.6" y1="349.6" x2="519.6" y2="364.5" stroke="#00bfbf" stroke-opacity="0.2" stroke-width="1.3"/>
<circle cx="519.6" cy="357.0" r="2.5" fill="#00bfbf" fill-opacity="0.25"/>
<line x1="562.4" y1="422.2" x2="562.4" y2="438.4" stroke="#00bfbf" stroke-opacity="0.2" stroke-width="1.3"/>
<circle cx="562.4" cy="430.3" r="2.5" fill="#00bfbf" fill-opacity="0.25"/>
<line x1="615.3" y1="472.4" x2="615.3" y2="488.8" stroke="#00bfbf" stroke-opacity="0.2" stroke-width="1.3"/>
<circle cx="615.3" cy="480.6" r="2.5" fill="#00bfbf" fill-opacity="0.25"/>
<line x1="486.8" y1="340.6" x2="486.8" y2="355.7" stroke="#00bfbf" stroke-opacity="0.2" stroke-width="1.3"/>
<circle cx="486.8" cy="348.1" r="2.5" fill="#00bfbf" fill-opacity="0.25"/>
<line x1="398.9" y1="334.6" x2="398.9" y2="345.2" stroke="#00bfbf" stroke-opacity="0.2" stroke-width="1.3"/>
<circle cx="398.9" cy="339.9" r="2.5" fill="#00bfbf" fill-opacity="0.25"/>
<line x1="437.9" y1="340.8" x2="437.9" y2="351.2" stroke="#00bfbf" stroke-opacity="0.2" stroke-width="1.3"/>
<circle cx="437.9" cy="346.0" r="2.5" fill="#00bfbf" fill-opacity="0.25"/>
<line x1="382.4" y1="336.5" x2="382.4" y2="347.7" stroke="#00bfbf" stroke-opacity="0.2" stroke-width="1.3"/>
<circle cx="382.4" cy="342.1" r="2.5" fill="#00bfbf" fill-opacity="0.25"/>
<line x1="409.3" y1="329.4" x2="409.3" y2="346.4" stroke="#00bfbf" stroke-opacity="0.2" stroke-width="1.3"/>
<circle cx="409.3" cy="337.9" r="2.5" fill="#00bfbf" fill-opacity="0.25"/>
<line x1="545.9" y1="388.0" x2="545.9" y2="399.2" stroke="#00bfbf" stroke-opacity="0.2" stroke-width="1.3"/>
<circle cx="545.9" cy="393.6" r="2.5" fill="#00bfbf" fill-opacity="0.25"/>
<line x1="449.5" y1="334.4" x2="449.5" y2="345.4" stroke="#00bfbf" stroke-opacity="0.2" stroke-width="1.3"/>
<circle cx="449.5" cy="339.9" r="2.5" fill="#00bfbf" fill-opacity="0.25"/>
<line x1="608.5" y1="467.8" x2="608.5" y2="485.7" stroke="#00bfbf" stroke-opacity="0.2" stroke-width="1.3"/>
<circle cx="608.5" cy="476.7" r="2.5" fill="#00bfbf" fill-opacity="0.25"/>
<line x1="506.4" y1="348.8" x2="506.4" y2="359.6" stroke="#00bfbf" stroke-opacity="0.2" stroke-width="1.3"/>
<circle cx="506.4" cy="354.2" r="2.5" fill="#00bfbf" fill-opacity="0.25"/>
<line x1="473.6" y1="342.2" x2="473.6" y2="354.4" stroke="#00bfbf" stroke-opacity="0.2" stroke-width="1.3"/>
<circle cx="473.6" cy="348.3" r="2.5" fill="#00bfbf" fill-opacity="0.25"/>
<line x1="603.1" y1="458.8" x2="603.1" y2="476.4" stroke="#00bfbf" stroke-opacity="0.2" stroke-width="1.3"/>
<circle cx="603.1" cy="467.6" r="2.5" fill="#00bfbf" fill-opacity="0.25"/>
<line x1="523.0" y1="362.7" x2="523.0" y2="373.9" stroke="#00bfbf" stroke-opacity="0.2" stroke-width="1.3"/>
<circle cx="523.0" cy="368.3" r="2.5" fill="#00bfbf" fill-opacity="0.25"/>
<line x1="527.0" y1="371.1" x2="527.0" y2="388.9" stroke="#00bfbf" stroke-opacity="0.2" stroke-width="1.3"/>
<circle cx="527.0" cy="380.0" r="2.5" fill="#00bfbf" fill-opacity="0.25"/>
<line x1="612.3" y1="467.1" x2="612.3" y2="482.7" stroke="#00bfbf" stroke-opacity="0.2" stroke-width="1.3"/>
<circle cx="612.3" cy="474.9" r="2.5" fill="#00bfbf" fill-opacity="0.25"/>
<line x1="451.9" y1="333.2" x2="451.9" y2="349.4" stroke="#00bfbf" stroke-opacity="0.2" stroke-width="1.3"/>
<circle cx="451.9" cy="341.3" r="2.5" fill="#00bfbf" fill-opacity="0.25"/>
<line x1="524.2" y1="363.4" x2="524.2" y2="379.6" stroke="#00bfbf" stroke-opacity="0.2" stroke-width="1.3"/>
<circle cx="524.2" cy="371.5" r="2.5" fill="#00bfbf" fill-opacity="0.25"/>
<line x1="470.1" y1="340.6" x2="470.1" y2="358.5" stroke="#00bfbf" stroke-opacity="0.2" stroke-width="1.3"/>
<circle cx="470.1" cy="349.5" r="2.5" fill="#00bfbf" fill-opacity="0.25"/>
<line x1="609.4" y1="476.8" x2="609.4" y2="493.3" stroke="#00bfbf" stroke-opacity="0.2" stroke-width="1.3"/>
<circle cx="609.4" cy="485.0" r="2.5" fill="#00bfbf" fill-opacity="0.25"/>
<line x1="600.3" y1="456.9" x2="600.3" y2="471.1" stroke="#00bfbf" stroke-opacity="0.2" stroke-width="1.3"/>
<circle cx="600.3" cy="464.0" r="2.5" fill="#00bfbf" fill-opacity="0.25"/>
<line x1="477.0" y1="338.3" x2="477.0" y2="348.5" stroke="#00bfbf" stroke-opacity="0.2" stroke-width="1.3"/>
<circle cx="477.0" cy="343.4" r="2.5" fill="#00bfbf" fill-opacity="0.25"/>
<line x1="389.7" y1="328.1" x2="389.7" y2="343.7" stroke="#00bfbf" stroke-opacity="0.2" stroke-width="1.3"/>
<circle cx="389.7" cy="335.9" r="2.5" fill="#00bfbf" fill-opacity="0.25"/>
<line x1="637.1" y1="484.3" x2="637.1" y2="497.9" stroke="#00bfbf" stroke-opacity="0.2" stroke-width="1.3"/>
<circle cx="637.1" cy="491.1" r="2.5" fill="#00bfbf" fill-opacity="0.25"/>
<line x1="631.9" y1="495.5" x2="631.9" y2="508.5" stroke="#00bfbf" stroke-opacity="0.2" stroke-width="1.3"/>
<circle cx="631.9" cy="502.0" r="2.5" fill="#00bfbf" fill-opacity="0.25"/>
<line x1="441.0" y1="335.5" x2="441.0" y2="347.3" stroke="#00bfbf" stroke-opacity="0.2" stroke-width="1.3"/>
<circle cx="441.0" cy="341.4" r="2.5" fill="#00bfbf" fill-opacity="0.25"/>
<line x1="434.7" y1="336.4" x2="434.7" y2="353.6" stroke="#00bfbf" stroke-opacity="0.2" stroke-width="1.3"/>
<circle cx="434.7" cy="345.0" r="2.5" fill="#00bfbf" fill-opacity="0.25"/>
<line x1="606.2" y1="472.6" x2="606.2" y2="486.4" stroke="#00bfbf" stroke-opacity="0.2" stroke-width="1.3"/>
<circle cx="606.2" cy="479.5" r="2.5" fill="#00bfbf" fill-opacity="0.25"/>
<line x1="556.3" y1="399.1" x2="556.3" y2="414.4" stroke="#00bfbf" stroke-opacity="0.2" stroke-width="1.3"/>
<circle cx="556.3" cy="406.8" r="2.5" fill="#00bfbf" fill-opacity="0.25"/>
<line x1="624.7" y1="469.5" x2="624.7" y2="485.7" stroke="#00bfbf" stroke-opacity="0.2" stroke-width="1.3"/>
<circle cx="624.7" cy="477.6" r="2.5" fill="#00bfbf" fill-opacity="0.25"/>
<line x1="582.1" y1="432.2" x2="582.1" y2="448.6" stroke="#00bfbf" stroke-opacity="0.2" stroke-width="1.3"/>
<circle cx="582.1" cy="440.4" r="2.5" fill="#00bfbf" fill-opacity="0.25"/>
<line x1="470.9" y1="339.8" x2="470.9" y2="356.2" stroke="#00bfbf" stroke-opacity="0.2" stroke-width="1.3"/>
<circle cx="470.9" cy="348.0" r="2.5" fill="#00bfbf" fill-opacity="0.25"/>
<line x1="641.1" y1="471.7" x2="641.1" y2="489.2" stroke="#00bfbf" stroke-opacity="0.2" stroke-width="1.3"/>
<circle cx="641.1" cy="480.5" r="2.5" fill="#00bfbf" fill-opacity="0.25"/>
<line x1="575.4" y1="435.4" x2="575.4" y2="446.8" stroke="#00bfbf" stroke-opacity="0.2" stroke-width="1.3"/>
<circle cx="575.4" cy="441.1" r="2.5" fill="#00bfbf" fill-opacity="0.25"/>
<line x1="416.1" y1="341.1" x2="416.1" y2="357.5" stroke="#00bfbf" stroke-opacity="0.2" stroke-width="1.3"/>
<circle cx="416.1" cy="349.3" r="2.5" fill="#00bfbf" fill-opacity="0.25"/>
<line x1="421.2" y1="345.4" x2="421.2" y2="362.0" stroke="#00bfbf" stroke-opacity="0.2" stroke-width="1.3"/>
<circle cx="421.2" cy="353.7" r="2.5" fill="#00bfbf" fill-opacity="0.25"/>
<line x1="643.5" y1="476.1" x2="643.5" y2="490.5" stroke="#00bfbf" stroke-opacity="0.2" stroke-width="1.3"/>
<circle cx="643.5" cy="483.3" r="2.5" fill="#00bfbf" fill-opacity="0.25"/>
<line x1="417.2" y1="329.1" x2="417.2" y2="339.2" stroke="#00bfbf" stroke-opacity="0.2" stroke-width="1.3"/>
<circle cx="417.2" cy="334.2" r="2.5" fill="#00bfbf" fill-opacity="0.25"/>
<line x1="640.9" y1="472.3" x2="640.9" y2="489.8" stroke="#00bfbf" stroke-opacity="0.2" stroke-width="1.3"/>
<circle cx="640.9" cy="481.0" r="2.5" fill="#00bfbf" fill-opacity="0.25"/>
<line x1="497.9" y1="337.9" x2="497.9" y2="354.8" stroke="#00bfbf" stroke-opacity="0.2" stroke-width="1.3"/>
<circle cx="497.9" cy="346.4" r="2.5" fill="#00bfbf" fill-opacity="0.25"/>
<line x1="602.4" y1="461.3" x2="602.4" y2="473.7" stroke="#00bfbf" stroke-opacity="0.2" stroke-width="1.3"/>
<circle cx="602.4" cy="467.5" r="2.5" fill="#00bfbf" fill-opacity="0.25"/>
<line x1="446.4" y1="341.7" x2="446.4" y2="356.4" stroke="#00bfbf" stroke-opacity="0.2" stroke-width="1.3"/>
<circle cx="446.4" cy="349.0" r="2.5" fill="#00bfbf" fill-opacity="0.25"/>
<line x1="451.4" y1="332.2" x2="451.4" y2="349.4" stroke="#00bfbf" stroke-opacity="0.2" stroke-width="1.3"/>
<circle cx="451.4" cy="340.8" r="2.5" fill="#00bfbf" fill-opacity="0.25"/>
<line x1="476.5" y1="343.7" x2="476.5" y2="357.4" stroke="#00bfbf" stroke-opacity="0.2" stroke-width="1.3"/>
<circle cx="476.5" cy="350.6" r="2.5" fill="#00bfbf" fill-opacity="0.25"/>
<line x1="537.7" y1="380.5" x2="537.7" y2="397.9" stroke="#00bfbf" stroke-opacity="0.2" stroke-width="1.3"/>
<circle cx="537.7" cy="389.2" r="2.5" fill="#00bfbf" fill-opacity="0.25"/>
<line x1="515.9" y1="350.5" x2="515.9" y2="364.8" stroke="#00bfbf" stroke-opacity="0.2" stroke-width="1.3"/>
<circle cx="515.9" cy="357.7" r="2.5" fill="#00bfbf" fill-opacity="0.25"/>
<line x1="521.8" y1="368.2" x2="521.8" y2="379.7" stroke="#00bfbf" stroke-opacity="0.2" stroke-width="1.3"/>
<circle cx="521.8" cy="374.0" r="2.5" fill="#00bfbf" fill-opacity="0.25"/>
<line x1="383.3" y1="314.4" x2="383.3" y2="330.7" stroke="#bf00bf" stroke-opacity="0.2" stroke-width="1.3"/>
<circle cx="383.3" cy="322.5" r="2.5" fill="#bf00bf" fill-opacity="0.25"/>
<line x1="428.2" y1="304.1" x2="428.2" y2="318.5" stroke="#bf00bf" stroke-opacity="0.2" stroke-width="1.3"/>
<circle cx="428.2" cy="311.3" r="2.5" fill="#bf00bf" fill-opacity="0.25"/>
<line x1="469.1" y1="329.6" x2="469.1" y2="343.7" stroke="#bf00bf" stroke-opacity="0.2" stroke-width="1.3"/>
<circle cx="469.1" cy="336.6" r="2.5" fill="#bf00bf" fill-opacity="0.25"/>
<line x1="530.3" y1="386.9" x2="530.3" y2="401.4" stroke="#bf00bf" stroke-opacity="0.2" stroke-width="1.3"/>
<circle cx="530.3" cy="394.1" r="2.5" fill="#bf00bf" fill-opacity="0.25"/>
<line x1="448.5" y1="317.4" x2="448.5" y2="329.6" stroke="#bf00bf" stroke-opacity="0.2" stroke-width="1.3"/>
<circle cx="448.5" cy="323.5" r="2.5" fill="#bf00bf" fill-opacity="0.25"/>
<line x1="588.0" y1="436.8" x2="588.0" y2="452.9" stroke="#bf00bf" stroke-opacity="0.2" stroke-width="1.3"/>
<circle cx="588.0" cy="444.9" r="2.5" fill="#bf00bf" fill-opacity="0.25"/>
<line x1="625.4" y1="474.9" x2="625.4" y2="488.4" stroke="#bf00bf" stroke-opacity="0.2" stroke-width="1.3"/>
<circle cx="625.4" cy="481.6" r="2.5" fill="#bf00bf" fill-opacity="0.25"/>
<line x1="545.5" y1="393.4" x2="545.5" y2="408.9" stroke="#bf00bf" stroke-opacity="0.2" stroke-width="1.3"/>
<circle cx="545.5" cy="401.1" r="2.5" fill="#bf00bf" fill-opacity="0.25"/>
<line x1="502.8" y1="357.4" x2="502.8" y2="371.7" stroke="#bf00bf" stroke-opacity="0.2" stroke-width="1.3"/>
<circle cx="502.8" cy="364.5" r="2.5" fill="#bf00bf" fill-opacity="0.25"/>
<line x1="509.6" y1="373.7" x2="509.6" y2="390.7" stroke="#bf00bf" stroke-opacity="0.2" stroke-width="1.3"/>
<circle cx="509.6" cy="382.2" r="2.5" fill="#bf00bf" fill-opacity="0.25"/>
<line x1="633.3" y1="475.8" x2="633.3" y2="487.9" stroke="#bf00bf" stroke-opacity="0.2" stroke-width="1.3"/>
<circle cx="633.3" cy="481.9" r="2.5" fill="#bf00bf" fill-opacity="0.25"/>
<line x1="531.4" y1="402.5" x2="531.4" y2="413.6" stroke="#bf00bf" stroke-opacity="0.2" stroke-width="1.3"/>
<circle cx="531.4" cy="408.0" r="2.5" fill="#bf00bf" fill-opacity="0.25"/>
<line x1="414.7" y1="310.5" x2="414.7" y2="324.0" stroke="#bf00bf" stroke-opacity="0.2" stroke-width="1.3"/>
<circle cx="414.7" cy="317.3" r="2.5" fill="#bf00bf" fill-opacity="0.25"/>
<line x1="401.6" y1="314.1" x2="401.6" y2="329.5" stroke="#bf00bf" stroke-opacity="0.2" stroke-width="1.3"/>
<circle cx="401.6" cy="321.8" r="2.5" fill="#bf00bf" fill-opacity="0.25"/>
<line x1="591.1" y1="451.7" x2="591.1" y2="468.9" stroke="#bf00bf" stroke-opacity="0.2" stroke-width="1.3"/>
<circle cx="591.1" cy="460.3" r="2.5" fill="#bf00bf" fill-opacity="0.25"/>
<line x1="423.4" y1="314.8" x2="423.4" y2="326.0" stroke="#bf00bf" stroke-opacity="0.2" stroke-width="1.3"/>
<circle cx="423.4" cy="320.4" r="2.5" fill="#bf00bf" fill-opacity="0.25"/>
<line x1="617.5" y1="457.7" x2="617.5" y2="475.4" stroke="#bf00bf" stroke-opacity="0.2" stroke-width="1.3"/>
<circle cx="617.5" cy="466.5" r="2.5" fill="#bf00bf" fill-opacity="0.25"/>
<line x1="440.8" y1="325.1" x2="440.8" y2="339.0" stroke="#bf00bf" stroke-opacity="0.2" stroke-width="1.3"/>
<circle cx="440.8" cy="332.0" r="2.5" fill="#bf00bf" fill-opacity="0.25"/>
<line x1="646.0" y1="480.8" x2="646.0" y2="497.4" stroke="#bf00bf" stroke-opacity="0.2" stroke-width="1.3"/>
<circle cx="646.0" cy="489.1" r="2.5" fill="#bf00bf" fill-opacity="0.25"/>
<line x1="425.3" y1="308.3" x2="425.3" y2="321.1" stroke="#bf00bf" stroke-opacity="0.2" stroke-width="1.3"/>
<circle cx="425.3" cy="314.7" r="2.5" fill="#bf00bf" fill-opacity="0.25"/>
<line x1="434.4" y1="321.3" x2="434.4" y2="333.9" stroke="#bf00bf" stroke-opacity="0.2" stroke-width="1.3"/>
<circle cx="434.4" cy="327.6" r="2.5" fill="#bf00bf" fill-opacity="0.25"/>
<line x1="574.7" y1="444.4" x2="574.7" y2="458.0" stroke="#bf00bf" stroke-opacity="0.2" stroke-width="1.3"/>
<circle cx="574.7" cy="451.2" r="2.5" fill="#bf00bf" fill-opacity="0.25"/>
<line x1="387.1" y1="316.4" x2="387.1" y2="329.1" stroke="#bf00bf" stroke-opacity="0.2" stroke-width="1.3"/>
<circle cx="387.1" cy="322.8" r="2.5" fill="#bf00bf" fill-opacity="0.25"/>
<line x1="548.5" y1="401.8" x2="548.5" y2="419.7" stroke="#bf00bf" stroke-opacity="0.2" stroke-width="1.3"/>
<circle cx="548.5" cy="410.7" r="2.5" fill="#bf00bf" fill-opacity="0.25"/>
<line x1="592.3" y1="449.2" x2="592.3" y2="467.0" stroke="#bf00bf" stroke-opacity="0.2" stroke-width="1.3"/>
<circle cx="592.3" cy="458.1" r="2.5" fill="#bf00bf" fill-opacity="0.25"/>
<line x1="410.2" y1="313.7" x2="410.2" y2="330.0" stroke="#bf00bf" stroke-opacity="0.2" stroke-width="1.3"/>
<circle cx="410.2" cy="321.9" r="2.5" fill="#bf00bf" fill-opacity="0.25"/>
<line x1="454.3" y1="325.3" x2="454.3" y2="336.3" stroke="#bf00bf" stroke-opacity="0.2" stroke-width="1.3"/>
<circle cx="454.3" cy="330.8" r="2.5" fill="#bf00bf" fill-opacity="0.25"/>
<line x1="494.8" y1="363.4" x2="494.8" y2="375.5" stroke="#bf00bf" stroke-opacity="0.2" stroke-width="1.3"/>
<circle cx="494.8" cy="369.4" r="2.5" fill="#bf00bf" fill-opacity="0.25"/>
<line x1="422.1" y1="306.6" x2="422.1" y2="324.0" stroke="#bf00bf" stroke-opacity="0.2" stroke-width="1.3"/>
<circle cx="422.1" cy="315.3" r="2.5" fill="#bf00bf" fill-opacity="0.25"/>
<line x1="534.3" y1="391.6" x2="534.3" y2="402.0" stroke="#bf00bf" stroke-opacity="0.2" stroke-width="1.3"/>
<circle cx="534.3" cy="396.8" r="2.5" fill="#bf00bf" fill-opacity="0.25"/>
<line x1="565.6" y1="422.3" x2="565.6" y2="435.7" stroke="#bf00bf" stroke-opacity="0.2" stroke-width="1.3"/>
<circle cx="565.6" cy="429.0" r="2.5" fill="#bf00bf" fill-opacity="0.25"/>
<line x1="401.6" y1="323.3" x2="401.6" y2="339.7" stroke="#bf00bf" stroke-opacity="0.2" stroke-width="1.3"/>
<circle cx="401.6" cy="331.5" r="2.5" fill="#bf00bf" fill-opacity="0.25"/>
<line x1="404.6" y1="309.4" x2="404.6" y2="326.2" stroke="#bf00bf" stroke-opacity="0.2" stroke-width="1.3"/>
<circle cx="404.6" cy="317.8" r="2.5" fill="#bf00bf" fill-opacity="0.25"/>
<line x1="400.0" y1="320.6" x2="400.0" y2="333.3" stroke="#bf00bf" stroke-opacity="0.2" stroke-width="1.3"/>
<circle cx="400.0" cy="327.0" r="2.5" fill="#bf00bf" fill-opacity="0.25"/>
<line x1="529.6" y1="377.7" x2="529.6" y2="395.1" stroke="#bf00bf" stroke-opacity="0.2" stroke-width="1.3"/>
<circle cx="529.6" cy="386.4" r="2.5" fill="#bf00bf" fill-opacity="0.25"/>
<line x1="453.7" y1="328.8" x2="453.7" y2="340.8" stroke="#bf00bf" stroke-opacity="0.2" stroke-width="1.3"/>
<circle cx="453.7" cy="334.8" r="2.5" fill="#bf00bf" fill-opacity="0.25"/>
<line x1="411.5" y1="323.1" x2="411.5" y2="334.4" stroke="#bf00bf" stroke-opacity="0.2" stroke-width="1.3"/>
<circle cx="411.5" cy="328.8" r="2.5" fill="#bf00bf" fill-opacity="0.25"/>
<line x1="395.7" y1="317.3" x2="395.7" y2="329.8" stroke="#bf00bf" stroke-opacity="0.2" stroke-width="1.3"/>
<circle cx="395.7" cy="323.5" r="2.5" fill="#bf00bf" fill-opacity="0.25"/>
<line x1="584.6" y1="451.3" x2="584.6" y2="463.6" stroke="#bf00bf" stroke-opacity="0.2" stroke-width="1.3"/>
<circle cx="584.6" cy="457.4" r="2.5" fill="#bf00bf" fill-opacity="0.25"/>
<line x1="515.5" y1="375.1" x2="515.5" y2="385.3" stroke="#bf00bf" stroke-opacity="0.2" stroke-width="1.3"/>
<circle cx="515.5" cy="380.2" r="2.5" fill="#bf00bf" fill-opacity="0.25"/>
<line x1="449.0" y1="328.3" x2="449.0" y2="338.4" stroke="#bf00bf" stroke-opacity="0.2" stroke-width="1.3"/>
<circle cx="449.0" cy="333.4" r="2.5" fill="#bf00bf" fill-opacity="0.25"/>
<line x1="577.6" y1="433.1" x2="577.6" y2="446.9" stroke="#bf00bf" stroke-opacity="0.2" stroke-width="1.3"/>
<circle cx="577.6" cy="440.0" r="2.5" fill="#bf00bf" fill-opacity="0.25"/>
<line x1="631.3" y1="478.1" x2="631.3" y2="488.9" stroke="#bf00bf" stroke-opacity="0.2" stroke-width="1.3"/>
<circle cx="631.3" cy="483.5" r="2.5" fill="#bf00bf" fill-opacity="0.25"/>
<line x1="600.5" y1="448.5" x2="600.5" y2="465.2" stroke="#bf00bf" stroke-opacity="0.2" stroke-width="1.3"/>
<circle cx="600.5" cy="456.9" r="2.5" fill="#bf00bf" fill-opacity="0.25"/>
<line x1="487.0" y1="347.7" x2="487.0" y2="361.7" stroke="#bf00bf" stroke-opacity="0.2" stroke-width="1.3"/>
<circle cx="487.0" cy="354.7" r="2.5" fill="#bf00bf" fill-opacity="0.25"/>
<line x1="565.5" y1="430.5" x2="565.5" y2="447.1" stroke="#bf00bf" stroke-opacity="0.2" stroke-width="1.3"/>
<circle cx="565.5" cy="438.8" r="2.5" fill="#bf00bf" fill-opacity="0.25"/>
<line x1="570.6" y1="429.0" x2="570.6" y2="444.1" stroke="#bf00bf" stroke-opacity="0.2" stroke-width="1.3"/>
<circle cx="570.6" cy="436.6" r="2.5" fill="#bf00bf" fill-opacity="0.25"/>
<line x1="490.1" y1="346.7" x2="490.1" y2="357.8" stroke="#bf00bf" stroke-opacity="0.2" stroke-width="1.3"/>
<circle cx="490.1" cy="352.2" r="2.5" fill="#bf00bf" fill-opacity="0.25"/>
<line x1="401.1" y1="315.7" x2="401.1" y2="331.6" stroke="#bf00bf" stroke-opacity="0.2" stroke-width="1.3"/>
<circle cx="401.1" cy="323.7" r="2.5" fill="#bf00bf" fill-opacity="0.25"/>
<line x1="450.4" y1="320.8" x2="450.4" y2="337.5" stroke="#bf00bf" stroke-opacity="0.2" stroke-width="1.3"/>
<circle cx="450.4" cy="329.2" r="2.5" fill="#bf00bf" fill-opacity="0.25"/>
<line x1="614.2" y1="470.0" x2="614.2" y2="485.4" stroke="#bf00bf" stroke-opacity="0.2" stroke-width="1.3"/>
<circle cx="614.2" cy="477.7" r="2.5" fill="#bf00bf" fill-opacity="0.25"/>
<line x1="457.4" y1="323.1" x2="457.4" y2="336.7" stroke="#bf00bf" stroke-opacity="0.2" stroke-width="1.3"/>
<circle cx="457.4" cy="329.9" r="2.5" fill="#bf00bf" fill-opacity="0.25"/>
<line x1="424.3" y1="322.3" x2="424.3" y2="335.8" stroke="#bf00bf" stroke-opacity="0.2" stroke-width="1.3"/>
<circle cx="424.3" cy="329.0" r="2.5" fill="#bf00bf" fill-opacity="0.25"/>
<line x1="452.4" y1="340.5" x2="452.4" y2="354.9" stroke="#bf00bf" stroke-opacity="0.2" stroke-width="1.3"/>
<circle cx="452.4" cy="347.7" r="2.5" fill="#bf00bf" fill-opacity="0.25"/>
<line x1="447.4" y1="313.0" x2="447.4" y2="330.8" stroke="#bf00bf" stroke-opacity="0.2" stroke-width="1.3"/>
<circle cx="447.4" cy="321.9" r="2.5" fill="#bf00bf" fill-opacity="0.25"/>
<line x1="464.8" y1="326.0" x2="464.8" y2="339.1" stroke="#bf00bf" stroke-opacity="0.2" stroke-width="1.3"/>
<circle cx="464.8" cy="332.5" r="2.5" fill="#bf00bf" fill-opacity="0.25"/>
<line x1="508.7" y1="363.7" x2="508.7" y2="377.8" stroke="#bf00bf" stroke-opacity="0.2" stroke-width="1.3"/>
<circle cx="508.7" cy="370.8" r="2.5" fill="#bf00bf" fill-opacity="0.25"/>
<line x1="435.8" y1="317.2" x2="435.8" y2="329.3" stroke="#bf00bf" stroke-opacity="0.2" stroke-width="1.3"/>
<circle cx="435.8" cy="323.2" r="2.5" fill="#bf00bf" fill-opacity="0.25"/>
<line x1="406.2" y1="315.3" x2="406.2" y2="328.4" stroke="#bf00bf" stroke-opacity="0.2" stroke-width="1.3"/>
<circle cx="406.2" cy="321.8" r="2.5" fill="#bf00bf" fill-opacity="0.25"/>
<line x1="393.4" y1="322.0" x2="393.4" y2="333.9" stroke="#bf00bf" stroke-opacity="0.2" stroke-width="1.3"/>
<circle cx="393.4" cy="327.9" r="2.5" fill="#bf00bf" fill-opacity="0.25"/>
<line x1="538.3" y1="396.0" x2="538.3" y2="410.2" stroke="#bf00bf" stroke-opacity="0.2" stroke-width="1.3"/>
<circle cx="538.3" cy="403.1" r="2.5" fill="#bf00bf" fill-opacity="0.25"/>
<line x1="582.2" y1="433.9" x2="582.2" y2="451.0" stroke="#bf00bf" stroke-opacity="0.2" stroke-width="1.3"/>
<circle cx="582.2" cy="442.5" r="2.5" fill="#bf00bf" fill-opacity="0.25"/>
<line x1="486.1" y1="334.0" x2="486.1" y2="346.6" stroke="#bf00bf" stroke-opacity="0.2" stroke-width="1.3"/>
<circle cx="486.1" cy="340.3" r="2.5" fill="#bf00bf" fill-opacity="0.25"/>
<line x1="644.6" y1="490.4" x2="644.6" y2="505.5" stroke="#bf00bf" stroke-opacity="0.2" stroke-width="1.3"/>
<circle cx="644.6" cy="497.9" r="2.5" fill="#bf00bf" fill-opacity="0.25"/>
<line x1="394.0" y1="323.0" x2="394.0" y2="339.7" stroke="#bf00bf" stroke-opacity="0.2" stroke-width="1.3"/>
<circle cx="394.0" cy="331.3" r="2.5" fill="#bf00bf" fill-opacity="0.25"/>
<line x1="619.9" y1="462.2" x2="619.9" y2="478.7" stroke="#bf00bf" stroke-opacity="0.2" stroke-width="1.3"/>
<circle cx="619.9" cy="470.5" r="2.5" fill="#bf00bf" fill-opacity="0.25"/>
<line x1="419.4" y1="306.7" x2="419.4" y2="320.9" stroke="#bf00bf" stroke-opacity="0.2" stroke-width="1.3"/>
<circle cx="419.4" cy="313.8" r="2.5" fill="#bf00bf" fill-opacity="0.25"/>
<line x1="516.7" y1="377.0" x2="516.7" y2="393.6" stroke="#bf00bf" stroke-opacity="0.2" stroke-width="1.3"/>
<circle cx="516.7" cy="385.3" r="2.5" fill="#bf00bf" fill-opacity="0.25"/>
<line x1="537.9" y1="381.5" x2="537.9" y2="398.7" stroke="#bf00bf" stroke-opacity="0.2" stroke-width="1.3"/>
<circle cx="537.9" cy="390.1" r="2.5" fill="#bf00bf" fill-opacity="0.25"/>
<line x1="564.2" y1="423.6" x2="564.2" y2="433.8" stroke="#bf00bf" stroke-opacity="0.2" stroke-width="1.3"/>
<circle cx="564.2" cy="428.7" r="2.5" fill="#bf00bf" fill-opacity="0.25"/>
<line x1="417.8" y1="310.9" x2="417.8" y2="323.8" stroke="#bf00bf" stroke-opacity="0.2" stroke-width="1.3"/>
<circle cx="417.8" cy="317.3" r="2.5" fill="#bf00bf" fill-opacity="0.25"/>
<line x1="410.2" y1="319.5" x2="410.2" y2="334.5" stroke="#bf00bf" stroke-opacity="0.2" stroke-width="1.3"/>
<circle cx="410.2" cy="327.0" r="2.5" fill="#bf00bf" fill-opacity="0.25"/>
<line x1="549.1" y1="398.2" x2="549.1" y2="413.6" stroke="#bf00bf" stroke-opacity="0.2" stroke-width="1.3"/>
<circle cx="549.1" cy="405.9" r="2.5" fill="#bf00bf" fill-opacity="0.25"/>
<line x1="512.6" y1="379.6" x2="512.6" y2="395.6" stroke="#bf00bf" stroke-opacity="0.2" stroke-width="1.3"/>
<circle cx="512.6" cy="387.6" r="2.5" fill="#bf00bf" fill-opacity="0.25"/>
<line x1="516.3" y1="371.2" x2="516.3" y2="385.5" stroke="#bf00bf" stroke-opacity="0.2" stroke-width="1.3"/>
<circle cx="516.3" cy="378.3" r="2.5" fill="#bf00bf" fill-opacity="0.25"/>
<line x1="557.9" y1="429.0" x2="557.9" y2="441.1" stroke="#bf00bf" stroke-opacity="0.2" stroke-width="1.3"/>
<circle cx="557.9" cy="435.0" r="2.5" fill="#bf00bf" fill-opacity="0.25"/>
<line x1="402.1" y1="320.6" x2="402.1" y2="332.7" stroke="#bf00bf" stroke-opacity="0.2" stroke-width="1.3"/>
<circle cx="402.1" cy="326.6" r="2.5" fill="#bf00bf" fill-opacity="0.25"/>
<line x1="576.6" y1="438.1" x2="576.6" y2="456.0" stroke="#bf00bf" stroke-opacity="0.2" stroke-width="1.3"/>
<circle cx="576.6" cy="447.1" r="2.5" fill="#bf00bf" fill-opacity="0.25"/>
<line x1="513.9" y1="380.7" x2="513.9" y2="393.8" stroke="#bf00bf" stroke-opacity="0.2" stroke-width="1.3"/>
<circle cx="513.9" cy="387.2" r="2.5" fill="#bf00bf" fill-opacity="0.25"/>
<line x1="509.9" y1="358.9" x2="509.9" y2="373.9" stroke="#bf00bf" stroke-opacity="0.2" stroke-width="1.3"/>
<circle cx="509.9" cy="366.4" r="2.5" fill="#bf00bf" fill-opacity="0.25"/>
<line x1="553.5" y1="402.0" x2="553.5" y2="412.6" stroke="#bf00bf" stroke-opacity="0.2" stroke-width="1.3"/>
<circle cx="553.5" cy="407.3" r="2.5" fill="#bf00bf" fill-opacity="0.25"/>
<line x1="421.6" y1="316.1" x2="421.6" y2="328.5" stroke="#bf00bf" stroke-opacity="0.2" stroke-width="1.3"/>
<circle cx="421.6" cy="322.3" r="2.5" fill="#bf00bf" fill-opacity="0.25"/>
<line x1="533.6" y1="404.3" x2="533.6" y2="414.4" stroke="#bf00bf" stroke-opacity="0.2" stroke-width="1.3"/>
<circle cx="533.6" cy="409.3" r="2.5" fill="#bf00bf" fill-opacity="0.25"/>
<line x1="398.5" y1="312.5" x2="398.5" y2="328.1" stroke="#bf00bf" stroke-opacity="0.2" stroke-width="1.3"/>
<circle cx="398.5" cy="320.3" r="2.5" fill="#bf00bf" fill-opacity="0.25"/>
<line x1="562.3" y1="433.5" x2="562.3" y2="445.8" stroke="#bf00bf" stroke-opacity="0.2" stroke-width="1.3"/>
<circle cx="562.3" cy="439.7" r="2.5" fill="#bf00bf" fill-opacity="0.25"/>
</g>
<polyline points="381.9,325.6 384.0,325.6 386.1,325.6 388.1,325.6 390.2,325.6 392.2,325.6 394.3,325.6 396.4,325.6 398.4,325.6 400.5,325.6 402.6,325.7 404.6,325.7 406.7,325.8 408.7,325.8 410.8,325.9 412.9,326.0 414.9,326.2 417.0,326.3 419.1,326.4 421.1,326.6 423.2,326.7 425.2,326.9 427.3,327.0 429.4,327.2 431.4,327.4 433.5,327.6 435.6,327.9 437.6,328.2 439.7,328.5 441.8,328.9 443.8,329.4 445.9,329.9 447.9,330.5 450.0,331.1 452.1,331.8 454.1,332.5 456.2,333.2 458.3,333.9 460.3,334.7 462.4,335.6 464.4,336.5 466.5,337.4 468.6,338.4 470.6,339.5 472.7,340.7 474.8,342.0 476.8,343.4 478.9,344.8 480.9,346.3 483.0,347.9 485.1,349.4 487.1,351.1 489.2,352.8 491.3,354.5 493.3,356.2 495.4,358.0 497.4,359.9 499.5,361.7 501.6,363.6 503.6,365.5 505.7,367.4 507.8,369.4 509.8,371.4 511.9,373.5 514.0,375.6 516.0,377.7 518.1,379.9 520.1,382.2 522.2,384.4 524.3,386.7 526.3,389.0 528.4,391.3 530.5,393.6 532.5,395.8 534.6,398.1 536.6,400.4 538.7,402.7 540.8,404.9 542.8,407.2 544.9,409.5 547.0,411.8 549.0,414.0 551.1,416.3 553.1,418.6 555.2,420.9 557.3,423.1 559.3,425.4 561.4,427.6 563.5,429.8 565.5,432.1 567.6,434.3 569.7,436.5 571.7,438.6 573.8,440.8 575.8,442.9 577.9,444.9 580.0,447.0 582.0,449.0 584.1,450.9 586.2,452.9 588.2,454.7 590.3,456.6 592.3,458.4 594.4,460.1 596.5,461.8 598.5,463.5 600.6,465.1 602.7,466.7 604.7,468.3 606.8,469.8 608.8,471.4 610.9,472.9 613.0,474.4 615.0,475.8 617.1,477.2 619.2,478.5 621.2,479.8 623.3,481.0 625.3,482.2 627.4,483.3 629.5,484.3 631.5,485.4 633.6,486.3 635.7,487.3 637.7,488.2 639.8,489.0 641.9,489.8 643.9,490.6 646.0,491.4 648.0,492.1" fill="none" stroke="#bf00bf" stroke-width="3.3"/>
<polyline points="381.9,336.3 384.0,336.4 386.1,336.6 388.1,336.8 390.2,337.0 392.2,337.2 394.3,337.4 396.4,337.6 398.4,337.8 400.5,338.0 402.6,338.2 404.6,338.5 406.7,338.7 408.7,338.9 410.8,339.2 412.9,339.4 414.9,339.7 417.0,339.9 419.1,340.2 421.1,340.4 423.2,340.7 425.2,340.9 427.3,341.2 429.4,341.4 431.4,341.6 433.5,341.9 435.6,342.1 437.6,342.4 439.7,342.6 441.8,342.9 443.8,343.1 445.9,343.4 447.9,343.7 450.0,344.0 452.1,344.3 454.1,344.6 456.2,344.9 458.3,345.2 460.3,345.5 462.4,345.9 464.4,346.2 466.5,346.6 468.6,347.0 470.6,347.4 472.7,347.8 474.8,348.2 476.8,348.6 478.9,349.1 480.9,349.6 483.0,350.0 485.1,350.5 487.1,351.0 489.2,351.5 491.3,352.0 493.3,352.5 495.4,353.1 497.4,353.7 499.5,354.3 501.6,355.1 503.6,355.9 505.7,356.8 507.8,357.7 509.8,358.7 511.9,359.8 514.0,360.9 516.0,362.2 518.1,363.5 520.1,365.0 522.2,366.6 524.3,368.3 526.3,370.3 528.4,372.3 530.5,374.5 532.5,376.8 534.6,379.1 536.6,381.5 538.7,383.9 540.8,386.3 542.8,388.7 544.9,391.1 547.0,393.6 549.0,396.2 551.1,398.8 553.1,401.5 555.2,404.3 557.3,407.3 559.3,410.3 561.4,413.5 563.5,416.8 565.5,420.3 567.6,423.7 569.7,427.1 571.7,430.5 573.8,433.7 575.8,436.9 577.9,439.8 580.0,442.7 582.0,445.5 584.1,448.1 586.2,450.6 588.2,453.0 590.3,455.3 592.3,457.4 594.4,459.4 596.5,461.4 598.5,463.2 600.6,464.9 602.7,466.6 604.7,468.2 606.8,469.8 608.8,471.3 610.9,472.7 613.0,474.1 615.0,475.5 617.1,476.8 619.2,477.9 621.2,479.0 623.3,480.0 625.3,481.0 627.4,481.8 629.5,482.7 631.5,483.4 633.6,484.2 635.7,484.8 637.7,485.5 639.8,486.1 641.9,486.7 643.9,487.3 646.0,487.9 648.0,488.4" fill="none" stroke="#00bfbf" stroke-width="3.3"/>
<rect x="381.3" y="302.2" width="268.4" height="204.6" fill="none" stroke="#000" stroke-width="1.5"/>
<text x="377.5" y="511.0" font-size="11.6" text-anchor="end" fill="#000" >0.0</text>
<line x1="381.30" y1="455.60" x2="386.30" y2="455.60" stroke="#000" stroke-width="1.1" />
<text x="377.5" y="459.8" font-size="11.6" text-anchor="end" fill="#000" >0.1</text>
<line x1="381.30" y1="404.40" x2="386.30" y2="404.40" stroke="#000" stroke-width="1.1" />
<text x="377.5" y="408.6" font-size="11.6" text-anchor="end" fill="#000" >0.2</text>
<line x1="381.30" y1="353.20" x2="386.30" y2="353.20" stroke="#000" stroke-width="1.1" />
<text x="377.5" y="357.4" font-size="11.6" text-anchor="end" fill="#000" >0.3</text>
<text x="377.5" y="306.2" font-size="11.6" text-anchor="end" fill="#000" >0.4</text>
<text x="381.3" y="515.5" font-size="11.6" text-anchor="middle" fill="#000" >0.80</text>
<line x1="448.40" y1="506.80" x2="448.40" y2="501.80" stroke="#000" stroke-width="1.1" />
<text x="448.4" y="515.5" font-size="11.6" text-anchor="middle" fill="#000" >0.85</text>
<line x1="515.50" y1="506.80" x2="515.50" y2="501.80" stroke="#000" stroke-width="1.1" />
<text x="515.5" y="515.5" font-size="11.6" text-anchor="middle" fill="#000" >0.90</text>
<line x1="582.60" y1="506.80" x2="582.60" y2="501.80" stroke="#000" stroke-width="1.1" />
<text x="582.6" y="515.5" font-size="11.6" text-anchor="middle" fill="#000" >0.95</text>
<text x="649.7" y="515.5" font-size="11.6" text-anchor="middle" fill="#000" >1.00</text>
<line x1="388.80" y1="473.80" x2="411.00" y2="473.80" stroke="#bf00bf" stroke-width="3" />
<line x1="388.80" y1="491.40" x2="411.00" y2="491.40" stroke="#00bfbf" stroke-width="3" />
<text x="419.0" y="478.8" font-size="14.3" text-anchor="start" fill="#000" >before turbulence burst</text>
<text x="419.0" y="496.4" font-size="14.3" text-anchor="start" fill="#000" >after turbulence burst</text>
<text x="410.0" y="428.7" font-size="20.5" text-anchor="middle" fill="#000" >(d)</text>
<text x="506" y="529" font-size="17" font-style="italic">ψ<tspan font-size="12" dy="3.5">N</tspan></text>
<text transform="translate(357.5,395.5) rotate(-90)" font-size="21" font-style="italic" text-anchor="middle">n<tspan font-size="14.5" font-style="normal" dy="4.5">e</tspan><tspan dy="-4.5">(1.0e20m</tspan><tspan font-size="14.5" dy="-8.5">−3</tspan><tspan dy="8.5">)</tspan></text>
<defs><clipPath id="clipE"><rect x="40" y="538.8" width="302.5" height="143.20000000000005"/></clipPath></defs>
<g clip-path="url(#clipE)">
<path d="M40.1,619.3 C41.5,615.3 45.3,595.1 48.5,595.1 C51.7,595.1 54.4,610.1 59.1,619.3 C63.9,628.5 72.1,652.2 77.0,650.5 C81.9,648.8 85.3,622.8 88.6,608.8 C91.9,594.8 94.4,576.3 97.0,566.6 C99.6,556.9 101.6,549.0 104.4,550.8 C107.2,552.5 111.1,567.8 113.9,577.1 C116.7,586.4 118.9,599.4 121.2,606.7 C123.5,614.0 125.1,621.2 127.6,621.0 C130.1,620.8 133.7,608.0 136.0,605.6 C138.3,603.2 139.5,603.0 141.2,606.7 C142.9,610.4 144.5,620.0 146.4,627.7 C148.3,635.4 150.9,646.7 152.8,653.0 C154.7,659.3 156.2,665.7 158.0,665.7 C159.8,665.7 161.4,660.0 163.3,653.0 C165.2,646.0 167.7,631.0 169.6,623.5 C171.5,616.0 173.2,611.0 174.9,607.7 C176.7,604.4 178.2,606.5 180.1,603.5 C182.0,600.5 184.4,595.9 186.5,589.8 C188.6,583.6 190.8,571.9 192.8,566.6 C194.8,561.3 196.8,557.4 198.5,557.8 C200.2,558.1 201.6,562.3 203.3,568.7 C205.0,575.1 206.8,588.4 208.6,596.1 C210.4,603.8 212.3,611.3 213.9,615.1 C215.5,618.9 216.3,618.9 218.1,618.9 C219.8,618.9 222.3,614.0 224.4,615.1 C226.5,616.2 228.6,620.7 230.7,625.6 C232.8,630.5 235.1,640.6 237.0,644.6 C238.9,648.6 240.3,651.2 242.2,649.8 C244.1,648.4 246.4,641.2 248.5,636.1 C250.6,631.0 252.7,624.5 254.8,619.2 C256.9,613.9 259.1,608.5 261.2,604.5 C263.3,600.5 265.6,597.2 267.5,595.0 C269.4,592.8 270.7,591.0 272.8,591.4 C274.9,591.8 277.8,595.2 280.1,597.1 C282.5,599.0 284.8,603.3 286.9,602.8 C289.0,602.3 290.6,596.7 292.8,594.0 C295.0,591.3 298.0,586.6 300.1,586.6 C302.2,586.6 303.6,590.0 305.4,594.0 C307.2,598.0 308.9,605.2 310.7,610.8 C312.4,616.4 314.3,623.8 315.9,627.7 C317.5,631.6 318.3,634.7 320.1,634.0 C321.9,633.3 324.6,626.1 326.5,623.5 C328.4,620.9 329.9,618.2 331.7,618.2 C333.4,618.2 335.2,621.2 337.0,623.5 C338.8,625.8 341.4,630.5 342.3,631.9" fill="none" stroke="#008000" stroke-width="2.2"/>
<path d="M40.1,609.8 C41.1,609.0 44.0,606.5 46.0,605.0 C48.0,603.5 50.1,597.7 52.3,600.8 C54.5,603.9 56.9,617.6 59.1,623.5 C61.3,629.4 63.8,634.5 65.4,636.2 C67.0,638.0 66.8,639.3 68.6,634.0 C70.3,628.7 73.6,615.4 75.9,604.5 C78.2,593.6 80.2,577.0 82.3,568.7 C84.4,560.5 87.0,558.0 88.6,555.0 C90.2,552.0 90.5,548.5 91.7,550.8 C92.9,553.1 94.4,562.7 96.0,568.7 C97.6,574.7 99.6,584.1 101.2,586.6 C102.8,589.1 104.0,583.9 105.4,583.5 C106.8,583.1 107.9,583.6 109.7,584.5 C111.5,585.4 114.2,586.4 116.0,588.7 C117.8,591.0 118.5,594.5 120.2,598.2 C122.0,601.9 124.6,608.1 126.5,610.9 C128.4,613.6 130.2,613.7 131.8,614.7 C133.4,615.8 134.3,620.3 136.0,617.2 C137.7,614.1 140.1,601.0 142.2,596.1 C144.3,591.2 146.6,587.7 148.5,587.7 C150.4,587.7 152.0,589.1 153.8,596.1 C155.6,603.1 157.2,621.4 159.1,629.8 C161.0,638.2 163.3,646.3 165.4,646.3 C167.5,646.3 169.9,635.7 171.7,629.8 C173.4,623.9 174.1,615.5 175.9,610.9 C177.7,606.3 180.2,606.4 182.3,602.4 C184.4,598.4 186.2,587.6 188.6,586.6 C191.0,585.6 194.6,592.1 197.0,596.1 C199.4,600.1 201.2,605.6 203.3,610.9 C205.4,616.2 207.4,625.6 209.7,627.7 C212.0,629.8 214.6,626.5 217.0,623.5 C219.4,620.5 222.1,613.0 224.4,609.8 C226.7,606.6 228.8,605.7 230.7,604.5 C232.6,603.3 234.1,601.4 236.0,602.4 C237.9,603.4 240.3,606.6 242.2,610.8 C244.1,615.0 245.8,622.1 247.5,627.7 C249.2,633.3 251.3,640.3 252.7,644.5 C254.1,648.7 254.5,653.6 255.9,652.9 C257.3,652.2 259.4,644.8 261.2,640.3 C262.9,635.8 264.6,630.5 266.4,625.6 C268.1,620.7 269.9,612.6 271.7,610.8 C273.5,609.0 275.2,613.6 277.0,615.0 C278.8,616.4 280.3,619.7 282.2,619.2 C284.1,618.7 286.4,614.4 288.5,611.9 C290.6,609.4 292.8,604.4 294.9,604.5 C297.0,604.6 298.9,610.8 301.2,612.5 C303.5,614.2 306.3,615.3 308.6,615.0 C310.9,614.7 313.0,608.7 314.9,610.8 C316.8,612.9 318.2,624.2 320.1,627.7 C322.0,631.2 324.7,631.5 326.5,631.9 C328.3,632.2 329.3,633.1 330.7,629.8 C332.1,626.5 333.5,615.1 334.9,611.9 C336.3,608.7 337.9,610.6 339.1,610.8 C340.3,611.0 341.8,612.5 342.3,612.9" fill="none" stroke="#bf00bf" stroke-width="2.2" stroke-dasharray="7.4,3.2"/>
</g>
<rect x="40" y="538.8" width="302.5" height="143.2" fill="none" stroke="#000" stroke-width="1.5"/>
<line x1="40.00" y1="550.20" x2="45.50" y2="550.20" stroke="#000" stroke-width="1.1" />
<text x="37.0" y="548.4" font-size="9.7" text-anchor="end" fill="#000" >1.0</text>
<line x1="40.00" y1="580.20" x2="45.50" y2="580.20" stroke="#000" stroke-width="1.1" />
<text x="37.0" y="578.4" font-size="9.7" text-anchor="end" fill="#000" >0.5</text>
<line x1="40.00" y1="610.20" x2="45.50" y2="610.20" stroke="#000" stroke-width="1.1" />
<text x="37.0" y="608.4" font-size="9.7" text-anchor="end" fill="#000" >0.0</text>
<line x1="40.00" y1="640.20" x2="45.50" y2="640.20" stroke="#000" stroke-width="1.1" />
<text x="37.0" y="638.4" font-size="9.7" text-anchor="end" fill="#000" >−0.5</text>
<line x1="40.00" y1="670.20" x2="45.50" y2="670.20" stroke="#000" stroke-width="1.1" />
<text x="37.0" y="668.4" font-size="9.7" text-anchor="end" fill="#000" >−1.0</text>
<text x="39.2" y="693.6" font-size="9.9" text-anchor="middle" fill="#000" >4563.80</text>
<line x1="115.62" y1="682.00" x2="115.62" y2="677.00" stroke="#000" stroke-width="1.1" />
<text x="114.9" y="693.6" font-size="9.9" text-anchor="middle" fill="#000" >4563.85</text>
<line x1="191.25" y1="682.00" x2="191.25" y2="677.00" stroke="#000" stroke-width="1.1" />
<text x="190.6" y="693.6" font-size="9.9" text-anchor="middle" fill="#000" >4563.90</text>
<line x1="266.88" y1="682.00" x2="266.88" y2="677.00" stroke="#000" stroke-width="1.1" />
<text x="266.2" y="693.6" font-size="9.9" text-anchor="middle" fill="#000" >4563.95</text>
<text x="336.6" y="693.6" font-size="9.9" text-anchor="middle" fill="#000" >4564.00</text>
<text x="64.1" y="559.2" font-size="20.5" text-anchor="middle" fill="#000" >(e)</text>
<text x="47.8" y="673.5" font-size="17.75" text-anchor="start" fill="#ff0000" >MHD dominant</text>
<rect x="286.5" y="543.5" width="51" height="32" rx="2.5" fill="#fff" stroke="#dcdcdc" stroke-width="0.9"/>
<line x1="289.50" y1="551.50" x2="311.00" y2="551.50" stroke="#008000" stroke-width="2.2" />
<line x1="289.50" y1="565.80" x2="311.00" y2="565.80" stroke="#bf00bf" stroke-width="2.2" stroke-dasharray="7.4,3.2"/>
<text x="318.0" y="555.6" font-size="11" font-style="italic">δn</text>
<text x="318.0" y="569.8" font-size="11" font-style="italic">δv<tspan font-size="8" dy="2.5">r</tspan></text>
<text x="191.8" y="709.0" font-size="17.4" text-anchor="middle" fill="#000" >time (ms)</text>
<defs><clipPath id="clipF"><rect x="368.7" y="538.8" width="303.59999999999997" height="143.20000000000005"/></clipPath></defs>
<g clip-path="url(#clipF)">
<path d="M369.2,587.6 C369.7,587.8 370.7,585.2 372.3,588.7 C373.9,592.2 376.3,601.9 378.6,608.7 C380.9,615.5 383.9,627.2 386.0,629.3 C388.1,631.4 389.6,625.4 391.3,621.3 C393.1,617.2 394.9,608.2 396.5,604.5 C398.1,600.8 399.1,598.2 400.7,599.2 C402.3,600.2 404.2,605.4 406.0,610.8 C407.8,616.2 409.7,626.2 411.3,631.8 C412.9,637.4 414.3,644.5 415.9,644.5 C417.5,644.5 419.0,638.8 420.7,631.8 C422.4,624.8 424.2,611.5 426.0,602.4 C427.8,593.3 429.8,582.8 431.3,577.1 C432.8,571.4 433.7,568.3 435.1,568.3 C436.5,568.3 438.1,571.4 439.7,577.1 C441.3,582.8 443.2,594.3 445.0,602.4 C446.8,610.5 447.9,618.5 450.2,625.5 C452.5,632.5 456.2,642.7 458.6,644.1 C461.1,645.5 463.0,638.9 464.9,634.0 C466.8,629.1 468.6,621.0 470.2,615.0 C471.8,609.0 473.1,601.7 474.4,598.2 C475.7,594.7 476.8,593.3 478.2,594.0 C479.6,594.7 481.3,598.5 482.8,602.4 C484.3,606.2 485.8,613.1 487.1,617.1 C488.4,621.1 489.4,627.0 490.8,626.6 C492.2,626.2 494.0,621.1 495.5,615.0 C497.0,608.9 498.3,598.5 499.7,589.7 C501.1,580.9 502.5,568.9 503.9,562.4 C505.3,555.9 506.7,550.8 508.1,550.8 C509.5,550.8 510.9,555.9 512.3,562.4 C513.7,568.9 515.1,579.5 516.5,589.7 C517.9,599.9 519.3,614.3 520.7,623.4 C522.1,632.5 523.7,639.9 524.9,644.5 C526.1,649.1 526.7,651.5 528.1,650.8 C529.5,650.1 531.6,643.3 533.4,640.3 C535.1,637.3 536.7,634.2 538.6,632.9 C540.5,631.6 543.0,632.8 544.9,632.3 C546.8,631.8 548.4,632.2 550.2,629.7 C552.0,627.2 553.9,620.8 555.5,617.1 C557.1,613.4 558.3,609.9 559.7,607.6 C561.1,605.3 562.5,603.4 563.9,603.4 C565.3,603.4 566.5,605.8 568.1,607.6 C569.7,609.4 571.6,614.6 573.4,614.1 C575.2,613.6 577.0,609.4 578.7,604.6 C580.5,599.9 581.8,591.2 583.9,585.6 C586.0,580.0 589.0,571.5 591.3,570.8 C593.6,570.1 595.7,576.8 597.6,581.4 C599.5,586.0 601.1,593.7 602.9,598.3 C604.7,602.9 606.3,605.8 608.2,608.8 C610.1,611.8 612.4,612.7 614.5,616.2 C616.6,619.7 618.7,626.1 620.8,629.9 C622.9,633.6 625.0,639.8 627.1,638.7 C629.2,637.7 631.6,628.9 633.5,623.6 C635.4,618.3 637.0,610.3 638.7,606.7 C640.5,603.1 642.1,601.0 644.0,602.0 C645.9,603.0 648.4,609.9 650.3,613.0 C652.2,616.1 653.8,620.8 655.6,620.4 C657.4,620.0 659.1,614.8 660.9,610.9 C662.6,607.0 664.3,600.4 666.1,597.2 C667.9,594.0 670.7,592.8 671.6,591.9" fill="none" stroke="#008000" stroke-width="2.2"/>
<path d="M369.2,608.7 C370.1,607.7 372.5,604.1 374.4,602.4 C376.3,600.6 378.6,597.5 380.7,598.2 C382.8,598.9 385.2,603.6 387.1,606.6 C389.0,609.6 390.6,614.2 392.3,616.1 C394.1,618.0 395.9,618.7 397.6,618.2 C399.4,617.7 401.1,615.2 402.8,612.9 C404.6,610.6 406.7,606.4 408.1,604.5 C409.5,602.6 410.1,601.1 411.3,601.3 C412.5,601.5 414.1,604.6 415.5,605.5 C416.9,606.4 417.9,608.0 419.7,606.6 C421.4,605.2 423.9,599.6 426.0,597.1 C428.1,594.6 430.6,590.9 432.3,591.8 C434.1,592.7 435.3,598.9 436.5,602.4 C437.7,605.9 438.5,612.0 439.7,612.9 C440.9,613.8 442.5,611.3 443.9,607.6 C445.3,603.9 446.4,594.6 448.1,590.8 C449.9,586.9 452.6,584.3 454.4,584.5 C456.1,584.7 457.4,588.6 458.6,591.8 C459.8,594.9 460.4,601.6 461.8,603.4 C463.2,605.2 465.4,602.6 467.1,602.4 C468.9,602.2 470.4,601.0 472.3,602.4 C474.2,603.8 476.5,608.5 478.6,610.8 C480.7,613.1 483.0,613.5 484.9,616.1 C486.8,618.7 488.6,627.1 490.2,626.6 C491.8,626.1 492.8,616.1 494.4,612.9 C496.0,609.7 497.8,608.0 499.7,607.6 C501.6,607.2 504.1,608.7 506.0,610.8 C507.9,612.9 509.7,618.9 511.3,620.3 C512.9,621.7 514.1,620.8 515.5,619.2 C516.9,617.6 518.0,610.8 519.7,610.8 C521.5,610.8 524.4,616.4 526.0,619.2 C527.6,622.0 528.0,624.4 529.2,627.6 C530.4,630.8 531.8,638.9 533.4,638.2 C535.0,637.5 537.0,629.0 538.6,623.4 C540.2,617.8 541.2,608.8 542.8,604.5 C544.4,600.2 546.3,597.5 548.1,597.5 C549.9,597.5 551.8,600.9 553.4,604.5 C555.0,608.1 556.2,613.6 557.6,619.2 C559.0,624.8 560.8,633.5 561.8,638.2 C562.8,642.9 563.0,648.3 563.9,647.6 C564.8,646.9 566.1,639.8 567.1,634.0 C568.1,628.2 569.0,620.6 570.0,612.9 C571.0,605.2 572.1,594.4 573.4,587.7 C574.7,581.1 576.4,576.2 577.6,573.0 C578.8,569.8 579.8,567.3 580.8,568.7 C581.8,570.1 582.8,573.7 583.9,581.4 C585.0,589.1 585.9,603.5 587.1,615.1 C588.3,626.7 590.1,642.4 591.3,651.0 C592.5,659.6 593.5,663.8 594.5,666.8 C595.5,669.8 596.6,670.1 597.6,668.9 C598.6,667.7 599.6,665.9 600.8,659.4 C602.0,652.9 603.6,639.7 605.0,629.9 C606.4,620.1 608.0,606.2 609.2,600.4 C610.4,594.6 611.0,595.5 612.4,595.1 C613.8,594.8 616.0,596.7 617.7,598.3 C619.5,599.9 621.3,603.2 622.9,604.6 C624.5,606.0 625.7,606.7 627.1,606.7 C628.5,606.7 630.0,603.7 631.4,604.6 C632.8,605.5 634.0,610.2 635.6,612.0 C637.2,613.8 639.0,613.2 640.8,615.1 C642.5,617.0 644.5,619.4 646.1,623.6 C647.7,627.8 648.9,636.9 650.3,640.4 C651.7,643.9 653.1,644.1 654.5,644.6 C655.9,645.1 657.4,643.4 658.8,643.6 C660.2,643.8 661.6,646.1 663.0,645.7 C664.4,645.4 665.8,641.3 667.2,641.5 C668.6,641.7 670.9,645.8 671.6,646.7" fill="none" stroke="#bf00bf" stroke-width="2.2" stroke-dasharray="7.4,3.2"/>
</g>
<rect x="368.7" y="538.8" width="303.6" height="143.2" fill="none" stroke="#000" stroke-width="1.5"/>
<line x1="368.70" y1="550.20" x2="374.20" y2="550.20" stroke="#000" stroke-width="1.1" />
<line x1="368.70" y1="580.20" x2="374.20" y2="580.20" stroke="#000" stroke-width="1.1" />
<line x1="368.70" y1="610.20" x2="374.20" y2="610.20" stroke="#000" stroke-width="1.1" />
<line x1="368.70" y1="640.20" x2="374.20" y2="640.20" stroke="#000" stroke-width="1.1" />
<line x1="368.70" y1="670.20" x2="374.20" y2="670.20" stroke="#000" stroke-width="1.1" />
<text x="376.6" y="693.6" font-size="9.9" text-anchor="middle" fill="#000" >4561.80</text>
<line x1="444.60" y1="682.00" x2="444.60" y2="677.00" stroke="#000" stroke-width="1.1" />
<text x="441.7" y="693.6" font-size="9.9" text-anchor="middle" fill="#000" >4561.85</text>
<line x1="520.50" y1="682.00" x2="520.50" y2="677.00" stroke="#000" stroke-width="1.1" />
<text x="517.2" y="693.6" font-size="9.9" text-anchor="middle" fill="#000" >4561.90</text>
<line x1="596.40" y1="682.00" x2="596.40" y2="677.00" stroke="#000" stroke-width="1.1" />
<text x="593.1" y="693.6" font-size="9.9" text-anchor="middle" fill="#000" >4561.95</text>
<text x="667.1" y="693.6" font-size="9.9" text-anchor="middle" fill="#000" >4562.00</text>
<text x="390.9" y="559.2" font-size="20.5" text-anchor="middle" fill="#000" >(f)</text>
<text x="379.5" y="673.5" font-size="17.75" text-anchor="start" fill="#0000ff" >Turbulence dominant</text>
<rect x="616.3" y="543.5" width="51" height="32" rx="2.5" fill="#fff" stroke="#dcdcdc" stroke-width="0.9"/>
<line x1="619.30" y1="551.50" x2="640.80" y2="551.50" stroke="#008000" stroke-width="2.2" />
<line x1="619.30" y1="565.80" x2="640.80" y2="565.80" stroke="#bf00bf" stroke-width="2.2" stroke-dasharray="7.4,3.2"/>
<text x="647.8" y="555.6" font-size="11" font-style="italic">δn</text>
<text x="647.8" y="569.8" font-size="11" font-style="italic">δv<tspan font-size="8" dy="2.5">r</tspan></text>
<text x="521.0" y="709.0" font-size="17.4" text-anchor="middle" fill="#000" >time (ms)</text>
<text transform="translate(16.6,612) rotate(-90)" font-size="16.3" text-anchor="middle">Normalized Perturbation</text>
</svg></body></html>
